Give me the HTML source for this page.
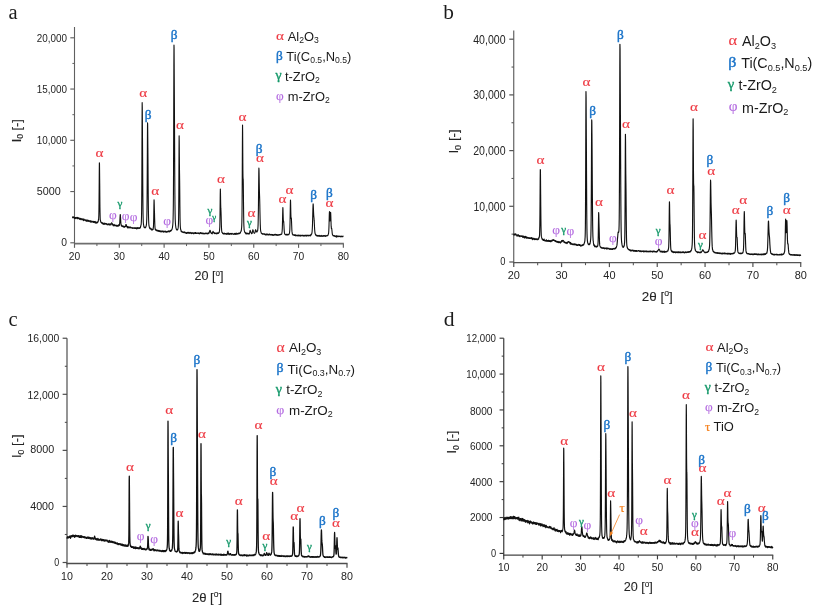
<!DOCTYPE html>
<html><head><meta charset="utf-8"><title>XRD</title>
<style>
html,body{margin:0;padding:0;background:#fff;}
svg{display:block;will-change:transform;font-family:"Liberation Sans",sans-serif;}
svg .gr{font-family:"Liberation Serif",serif;}
</style></head><body>
<svg width="820" height="608" viewBox="0 0 820 608">
<rect width="820" height="608" fill="#fff"/>
<path d="M74.50,27.00V244.50" fill="none" stroke="#606060" stroke-width="1.10"/>
<path d="M73.95,243.65H343.86" fill="none" stroke="#6e6e6e" stroke-width="1.70"/>
<path d="M70.30,242.80H74.50" stroke="#606060" stroke-width="1.15"/>
<text x="61.25" y="245.97" textLength="5.75" lengthAdjust="spacingAndGlyphs" font-size="10.80" fill="#242424">0</text>
<path d="M70.30,191.55H74.50" stroke="#606060" stroke-width="1.15"/>
<text x="36.75" y="195.42" textLength="24.00" lengthAdjust="spacingAndGlyphs" font-size="10.80" fill="#242424">5000</text>
<path d="M70.30,140.30H74.50" stroke="#606060" stroke-width="1.15"/>
<text x="36.75" y="144.35" textLength="30.25" lengthAdjust="spacingAndGlyphs" font-size="11.30" fill="#242424">10,000</text>
<path d="M70.30,89.05H74.50" stroke="#606060" stroke-width="1.15"/>
<text x="36.75" y="93.10" textLength="30.25" lengthAdjust="spacingAndGlyphs" font-size="11.30" fill="#242424">15,000</text>
<path d="M70.30,37.80H74.50" stroke="#606060" stroke-width="1.15"/>
<text x="36.75" y="41.85" textLength="30.25" lengthAdjust="spacingAndGlyphs" font-size="11.30" fill="#242424">20,000</text>
<path d="M72.40,217.18H74.50" stroke="#606060" stroke-width="1.00"/>
<path d="M72.40,165.93H74.50" stroke="#606060" stroke-width="1.00"/>
<path d="M72.40,114.68H74.50" stroke="#606060" stroke-width="1.00"/>
<path d="M72.40,63.43H74.50" stroke="#606060" stroke-width="1.00"/>
<path d="M74.50,243.65v4.20" stroke="#606060" stroke-width="1.15"/>
<text transform="translate(74.50,259.70) scale(0.95,1)" text-anchor="middle" font-size="10.80" fill="#242424">20</text>
<path d="M96.91,243.65v2.40" stroke="#606060" stroke-width="1.00"/>
<path d="M119.31,243.65v4.20" stroke="#606060" stroke-width="1.15"/>
<text transform="translate(119.31,259.70) scale(0.95,1)" text-anchor="middle" font-size="10.80" fill="#242424">30</text>
<path d="M141.72,243.65v2.40" stroke="#606060" stroke-width="1.00"/>
<path d="M164.12,243.65v4.20" stroke="#606060" stroke-width="1.15"/>
<text transform="translate(164.12,259.70) scale(0.95,1)" text-anchor="middle" font-size="10.80" fill="#242424">40</text>
<path d="M186.52,243.65v2.40" stroke="#606060" stroke-width="1.00"/>
<path d="M208.93,243.65v4.20" stroke="#606060" stroke-width="1.15"/>
<text transform="translate(208.93,259.70) scale(0.95,1)" text-anchor="middle" font-size="10.80" fill="#242424">50</text>
<path d="M231.34,243.65v2.40" stroke="#606060" stroke-width="1.00"/>
<path d="M253.74,243.65v4.20" stroke="#606060" stroke-width="1.15"/>
<text transform="translate(253.74,259.70) scale(0.95,1)" text-anchor="middle" font-size="10.80" fill="#242424">60</text>
<path d="M276.14,243.65v2.40" stroke="#606060" stroke-width="1.00"/>
<path d="M298.55,243.65v4.20" stroke="#606060" stroke-width="1.15"/>
<text transform="translate(298.55,259.70) scale(0.95,1)" text-anchor="middle" font-size="10.80" fill="#242424">70</text>
<path d="M320.95,243.65v2.40" stroke="#606060" stroke-width="1.00"/>
<path d="M343.36,243.65v4.20" stroke="#606060" stroke-width="1.15"/>
<text transform="translate(343.36,259.70) scale(0.95,1)" text-anchor="middle" font-size="10.80" fill="#242424">80</text>
<text x="208.93" y="280.00" text-anchor="middle" font-size="12.60" fill="#242424" stroke="#242424" stroke-width="0.08">20 [<tspan font-size="8.20" dy="-4.10">o</tspan><tspan dy="4.10">]</tspan></text>
<path d="M201.12,275.50h4.20" stroke="#9a9a9a" stroke-width="0.5" fill="none"/>
<text transform="translate(20.50,130.80) rotate(-90)" text-anchor="middle" font-size="12.60" fill="#242424" stroke="#242424" stroke-width="0.08">I<tspan font-size="8.50" dy="2.60">0</tspan><tspan dy="-2.60"> [-]</tspan></text>
<polyline points="72.26,217.27 72.37,217.17 72.48,217.42 72.60,217.71 72.71,217.54 72.82,217.72 72.93,217.27 73.04,216.74 73.16,217.47 73.27,217.53 73.38,217.10 73.49,217.17 73.60,217.27 73.72,217.71 73.83,217.39 73.94,217.11 74.05,218.01 74.16,217.69 74.28,218.38 74.39,218.11 74.50,218.38 74.61,217.67 74.72,218.09 74.84,217.42 74.95,217.56 75.06,217.71 75.17,218.72 75.28,217.91 75.40,217.77 75.51,217.67 75.62,218.39 75.73,217.99 75.84,218.19 75.96,218.12 76.07,217.35 76.18,218.10 76.29,217.79 76.40,217.47 76.52,218.08 76.63,217.90 76.74,217.90 76.85,217.92 76.96,218.44 77.08,217.97 77.19,217.45 77.30,218.64 77.41,217.69 77.52,218.01 77.64,218.29 77.75,217.28 77.86,217.83 77.97,218.64 78.08,218.20 78.20,218.03 78.31,218.34 78.42,218.00 78.53,218.31 78.64,218.05 78.76,217.78 78.87,218.69 78.98,218.38 79.09,218.75 79.21,218.54 79.32,219.12 79.43,218.86 79.54,218.71 79.65,218.29 79.77,218.23 79.88,219.25 79.99,219.14 80.10,218.63 80.21,219.70 80.33,219.05 80.44,218.93 80.55,218.36 80.66,218.62 80.77,219.07 80.89,219.11 81.00,219.13 81.11,218.43 81.22,219.24 81.33,219.21 81.45,219.02 81.56,219.26 81.67,219.32 81.78,219.74 81.89,219.29 82.01,219.47 82.12,218.81 82.23,219.03 82.34,219.33 82.45,219.09 82.57,219.54 82.68,218.99 82.79,219.50 82.90,219.27 83.01,220.13 83.13,219.55 83.24,220.42 83.35,220.58 83.46,219.92 83.57,220.08 83.69,219.65 83.80,218.85 83.91,220.08 84.02,220.01 84.13,219.78 84.25,219.67 84.36,219.93 84.47,219.96 84.58,219.67 84.69,219.76 84.81,220.40 84.92,220.10 85.03,220.09 85.14,220.54 85.25,220.02 85.37,220.48 85.48,219.75 85.59,220.11 85.70,220.16 85.81,220.53 85.93,220.41 86.04,221.17 86.15,220.89 86.26,220.30 86.37,221.31 86.49,220.11 86.60,221.19 86.71,220.15 86.82,220.82 86.93,220.20 87.05,220.47 87.16,221.09 87.27,220.04 87.38,220.00 87.49,220.59 87.61,220.75 87.72,220.74 87.83,221.10 87.94,220.30 88.06,220.99 88.17,220.81 88.28,221.19 88.39,221.10 88.50,221.39 88.62,220.37 88.73,220.93 88.84,220.51 88.95,220.94 89.06,221.26 89.18,221.16 89.29,221.29 89.40,221.08 89.51,221.28 89.62,221.29 89.74,221.69 89.85,221.50 89.96,220.59 90.07,221.47 90.18,221.58 90.30,221.15 90.41,220.75 90.52,221.87 90.63,221.47 90.74,221.67 90.86,222.10 90.97,221.15 91.08,221.47 91.19,221.40 91.30,221.78 91.42,221.34 91.53,221.78 91.64,221.66 91.75,222.03 91.86,222.10 91.98,221.13 92.09,221.83 92.20,221.53 92.31,221.73 92.42,221.88 92.54,221.94 92.65,221.53 92.76,221.90 92.87,221.82 92.98,221.78 93.10,221.35 93.21,221.57 93.32,221.74 93.43,222.13 93.54,222.46 93.66,221.60 93.77,221.59 93.88,221.98 93.99,221.75 94.10,221.68 94.22,221.69 94.33,221.65 94.44,222.24 94.55,221.51 94.66,222.59 94.78,221.78 94.89,221.92 95.00,221.73 95.11,221.42 95.22,221.64 95.34,222.64 95.45,222.93 95.56,222.04 95.67,222.69 95.78,222.32 95.90,222.09 96.01,223.00 96.12,223.18 96.23,222.32 96.34,222.36 96.46,222.43 96.57,222.37 96.68,222.71 96.79,222.96 96.90,222.48 97.02,222.73 97.13,222.92 97.24,222.07 97.35,222.24 97.47,221.99 97.58,222.48 97.69,222.30 97.80,222.33 97.91,222.15 98.03,221.56 98.14,221.68 98.25,220.90 98.36,220.58 98.47,219.40 98.59,219.90 98.70,217.73 98.81,215.61 98.92,210.56 99.03,202.24 99.15,188.62 99.26,172.83 99.37,162.87 99.48,163.74 99.59,172.30 99.71,183.25 99.82,195.73 99.93,206.41 100.04,212.66 100.15,217.23 100.27,219.93 100.38,220.21 100.49,220.29 100.60,221.22 100.71,222.01 100.83,222.24 100.94,221.71 101.05,222.23 101.16,222.40 101.27,222.57 101.39,222.64 101.50,222.45 101.61,222.65 101.72,222.84 101.83,223.40 101.95,222.88 102.06,223.41 102.17,222.79 102.28,223.71 102.39,223.35 102.51,223.33 102.62,223.78 102.73,222.71 102.84,222.82 102.95,223.52 103.07,223.20 103.18,223.40 103.29,224.51 103.40,223.51 103.51,223.69 103.63,223.60 103.74,224.06 103.85,223.76 103.96,223.74 104.07,223.24 104.19,223.53 104.30,223.69 104.41,223.19 104.52,224.02 104.63,223.94 104.75,224.49 104.86,223.25 104.97,223.46 105.08,223.46 105.19,223.60 105.31,223.85 105.42,223.86 105.53,224.06 105.64,224.03 105.75,223.94 105.87,223.43 105.98,223.80 106.09,224.06 106.20,224.26 106.32,224.30 106.43,223.51 106.54,223.92 106.65,224.11 106.76,224.31 106.88,224.60 106.99,224.25 107.10,223.93 107.21,224.38 107.32,224.33 107.44,224.40 107.55,224.30 107.66,224.94 107.77,224.44 107.88,224.70 108.00,224.04 108.11,224.61 108.22,224.13 108.33,223.85 108.44,224.50 108.56,224.63 108.67,224.42 108.78,224.49 108.89,224.79 109.00,224.30 109.12,223.77 109.23,224.59 109.34,224.59 109.45,224.98 109.56,224.53 109.68,225.06 109.79,225.02 109.90,224.16 110.01,224.88 110.12,224.15 110.24,224.02 110.35,224.41 110.46,224.33 110.57,223.88 110.68,224.66 110.80,224.78 110.91,224.99 111.02,224.36 111.13,223.69 111.24,223.62 111.36,223.99 111.47,223.64 111.58,223.22 111.69,222.72 111.80,222.87 111.92,222.88 112.03,223.14 112.14,223.68 112.25,223.93 112.36,224.14 112.48,224.43 112.59,224.39 112.70,224.04 112.81,224.62 112.92,224.88 113.04,225.63 113.15,224.99 113.26,225.82 113.37,225.61 113.48,224.85 113.60,224.92 113.71,225.22 113.82,225.82 113.93,225.38 114.04,225.45 114.16,224.96 114.27,224.43 114.38,225.17 114.49,225.55 114.60,225.76 114.72,225.42 114.83,225.46 114.94,225.81 115.05,225.36 115.17,225.79 115.28,224.97 115.39,225.01 115.50,224.98 115.61,225.57 115.73,225.28 115.84,225.55 115.95,225.67 116.06,225.71 116.17,226.04 116.29,226.10 116.40,225.32 116.51,225.63 116.62,225.50 116.73,225.28 116.85,226.23 116.96,225.91 117.07,225.62 117.18,225.49 117.29,225.75 117.41,225.30 117.52,225.62 117.63,226.09 117.74,226.01 117.85,225.47 117.97,225.53 118.08,226.31 118.19,225.18 118.30,225.45 118.41,225.15 118.53,225.79 118.64,225.69 118.75,225.98 118.86,224.65 118.97,225.53 119.09,224.83 119.20,225.59 119.31,225.15 119.42,225.52 119.53,224.62 119.65,223.31 119.76,222.72 119.87,220.07 119.98,218.01 120.09,216.12 120.21,214.49 120.32,214.50 120.43,215.47 120.54,217.33 120.65,219.41 120.77,221.18 120.88,223.01 120.99,224.23 121.10,224.65 121.21,224.83 121.33,225.97 121.44,225.69 121.55,226.05 121.66,226.25 121.77,225.68 121.89,226.21 122.00,225.56 122.11,226.40 122.22,226.06 122.33,226.32 122.45,226.52 122.56,226.10 122.67,226.37 122.78,226.15 122.89,226.41 123.01,226.78 123.12,226.46 123.23,226.45 123.34,226.14 123.45,226.82 123.57,226.54 123.68,227.16 123.79,226.40 123.90,227.00 124.02,227.19 124.13,226.67 124.24,226.29 124.35,227.15 124.46,227.04 124.58,226.94 124.69,227.05 124.80,226.53 124.91,226.88 125.02,226.81 125.14,226.31 125.25,226.67 125.36,226.15 125.47,226.48 125.58,226.26 125.70,226.20 125.81,224.65 125.92,225.10 126.03,224.71 126.14,224.84 126.26,224.84 126.37,225.12 126.48,224.82 126.59,226.11 126.70,226.60 126.82,226.69 126.93,226.96 127.04,226.42 127.15,226.53 127.26,227.19 127.38,227.39 127.49,227.18 127.60,226.61 127.71,228.03 127.82,226.92 127.94,227.53 128.05,226.81 128.16,227.57 128.27,227.33 128.38,227.74 128.50,227.55 128.61,226.79 128.72,226.98 128.83,227.42 128.94,227.63 129.06,228.00 129.17,227.52 129.28,227.40 129.39,227.42 129.50,227.43 129.62,227.78 129.73,227.43 129.84,227.39 129.95,226.95 130.06,226.79 130.18,227.46 130.29,227.72 130.40,227.57 130.51,227.76 130.62,227.82 130.74,227.60 130.85,227.92 130.96,227.38 131.07,227.63 131.18,227.52 131.30,227.71 131.41,227.90 131.52,228.01 131.63,227.78 131.74,227.88 131.86,227.65 131.97,227.74 132.08,228.21 132.19,227.78 132.30,228.25 132.42,228.05 132.53,227.95 132.64,228.51 132.75,227.82 132.87,227.81 132.98,227.89 133.09,228.01 133.20,228.02 133.31,228.23 133.43,228.01 133.54,228.13 133.65,227.91 133.76,228.33 133.87,227.87 133.99,227.92 134.10,227.99 134.21,228.14 134.32,227.82 134.43,228.54 134.55,227.85 134.66,227.94 134.77,227.92 134.88,227.91 134.99,228.24 135.11,228.13 135.22,227.86 135.33,227.95 135.44,228.01 135.55,228.56 135.67,227.91 135.78,227.71 135.89,227.77 136.00,228.02 136.11,228.63 136.23,227.92 136.34,228.27 136.45,229.03 136.56,228.16 136.67,228.77 136.79,228.63 136.90,228.44 137.01,227.81 137.12,228.27 137.23,228.02 137.35,227.59 137.46,227.63 137.57,228.20 137.68,228.30 137.79,228.64 137.91,228.45 138.02,228.08 138.13,228.04 138.24,228.13 138.35,227.85 138.47,228.38 138.58,228.14 138.69,227.87 138.80,227.88 138.91,227.71 139.03,227.90 139.14,228.12 139.25,227.93 139.36,228.31 139.47,228.46 139.59,227.71 139.70,227.86 139.81,227.64 139.92,228.20 140.03,227.70 140.15,227.70 140.26,227.61 140.37,227.84 140.48,227.02 140.59,226.37 140.71,226.17 140.82,226.06 140.93,225.46 141.04,224.60 141.15,224.83 141.27,222.85 141.38,220.90 141.49,217.84 141.60,211.88 141.71,201.14 141.83,182.22 141.94,154.00 142.05,121.99 142.16,102.65 142.28,107.02 142.39,123.72 142.50,140.17 142.61,158.03 142.72,177.02 142.84,193.98 142.95,206.11 143.06,214.61 143.17,218.86 143.28,222.27 143.40,223.56 143.51,224.58 143.62,225.01 143.73,225.48 143.84,226.67 143.96,226.85 144.07,226.79 144.18,227.25 144.29,227.65 144.40,227.00 144.52,227.27 144.63,227.29 144.74,227.67 144.85,227.23 144.96,227.66 145.08,227.26 145.19,227.86 145.30,227.80 145.41,227.42 145.52,227.57 145.64,227.03 145.75,226.99 145.86,227.13 145.97,226.57 146.08,226.38 146.20,225.57 146.31,225.48 146.42,224.67 146.53,223.18 146.64,221.43 146.76,219.15 146.87,215.67 146.98,208.57 147.09,196.59 147.20,179.95 147.32,158.44 147.43,136.21 147.54,122.73 147.65,124.09 147.76,134.78 147.88,147.97 147.99,161.85 148.10,177.81 148.21,192.01 148.32,203.47 148.44,211.67 148.55,217.56 148.66,220.86 148.77,223.50 148.88,224.69 149.00,225.84 149.11,225.87 149.22,226.74 149.33,227.36 149.44,227.60 149.56,227.88 149.67,227.85 149.78,228.74 149.89,228.70 150.00,228.65 150.12,227.89 150.23,228.44 150.34,228.81 150.45,228.71 150.56,228.42 150.68,229.15 150.79,229.26 150.90,228.87 151.01,229.14 151.13,229.09 151.24,229.47 151.35,228.79 151.46,228.88 151.57,229.27 151.69,229.28 151.80,230.14 151.91,229.36 152.02,229.61 152.13,229.39 152.25,229.35 152.36,229.61 152.47,230.00 152.58,229.36 152.69,229.62 152.81,229.38 152.92,229.37 153.03,229.08 153.14,229.38 153.25,227.91 153.37,227.44 153.48,225.76 153.59,222.88 153.70,218.74 153.81,212.35 153.93,204.33 154.04,199.73 154.15,200.93 154.26,205.10 154.37,209.62 154.49,212.46 154.60,217.20 154.71,220.86 154.82,224.33 154.93,226.65 155.05,227.97 155.16,228.91 155.27,229.38 155.38,229.95 155.49,229.63 155.61,229.21 155.72,229.26 155.83,229.57 155.94,229.84 156.05,230.36 156.17,229.84 156.28,230.35 156.39,230.39 156.50,230.54 156.61,230.47 156.73,230.68 156.84,230.62 156.95,230.89 157.06,230.71 157.17,229.99 157.29,230.66 157.40,230.71 157.51,230.58 157.62,230.55 157.73,231.08 157.85,230.84 157.96,230.56 158.07,230.71 158.18,230.78 158.29,230.41 158.41,231.08 158.52,230.86 158.63,231.11 158.74,230.56 158.85,231.57 158.97,231.20 159.08,231.19 159.19,230.80 159.30,230.85 159.41,230.62 159.53,231.50 159.64,230.88 159.75,231.21 159.86,231.31 159.98,231.04 160.09,231.47 160.20,231.83 160.31,231.38 160.42,231.69 160.54,231.42 160.65,231.11 160.76,231.12 160.87,230.79 160.98,231.33 161.10,231.74 161.21,231.59 161.32,231.63 161.43,231.71 161.54,231.28 161.66,231.57 161.77,231.93 161.88,231.20 161.99,231.42 162.10,231.25 162.22,231.35 162.33,231.19 162.44,231.36 162.55,231.03 162.66,231.27 162.78,231.32 162.89,231.35 163.00,231.89 163.11,231.55 163.22,231.61 163.34,231.44 163.45,231.88 163.56,231.07 163.67,231.54 163.78,231.89 163.90,232.07 164.01,231.70 164.12,231.63 164.23,231.79 164.34,231.55 164.46,231.78 164.57,231.44 164.68,231.78 164.79,231.54 164.90,231.29 165.02,230.85 165.13,231.86 165.24,231.72 165.35,231.89 165.46,231.44 165.58,231.97 165.69,231.79 165.80,231.70 165.91,231.95 166.02,231.98 166.14,231.87 166.25,232.31 166.36,232.11 166.47,231.82 166.58,231.66 166.70,231.73 166.81,232.15 166.92,231.78 167.03,231.43 167.14,231.47 167.26,231.62 167.37,231.87 167.48,231.48 167.59,231.82 167.70,231.93 167.82,231.83 167.93,231.18 168.04,231.49 168.15,231.19 168.26,231.67 168.38,231.28 168.49,231.67 168.60,231.51 168.71,230.80 168.83,231.24 168.94,231.57 169.05,231.46 169.16,231.35 169.27,231.11 169.39,231.56 169.50,231.88 169.61,231.47 169.72,231.33 169.83,231.23 169.95,230.85 170.06,231.10 170.17,230.91 170.28,231.37 170.39,230.78 170.51,230.40 170.62,230.67 170.73,230.73 170.84,230.73 170.95,230.22 171.07,230.86 171.18,230.52 171.29,230.28 171.40,230.04 171.51,230.21 171.63,229.84 171.74,229.81 171.85,229.48 171.96,229.28 172.07,229.21 172.19,228.55 172.30,227.86 172.41,227.78 172.52,226.95 172.63,225.90 172.75,225.36 172.86,223.68 172.97,222.21 173.08,218.95 173.19,214.41 173.31,207.12 173.42,194.97 173.53,173.87 173.64,143.50 173.75,105.07 173.87,66.51 173.98,45.12 174.09,48.29 174.20,68.34 174.31,89.42 174.43,109.45 174.54,130.92 174.65,153.88 174.76,175.19 174.87,192.56 174.99,204.89 175.10,213.41 175.21,219.00 175.32,221.38 175.43,223.45 175.55,224.93 175.66,226.00 175.77,226.55 175.88,227.59 175.99,228.14 176.11,228.46 176.22,228.40 176.33,229.38 176.44,228.93 176.55,229.61 176.67,229.86 176.78,229.38 176.89,229.83 177.00,230.17 177.11,229.94 177.23,229.60 177.34,229.46 177.45,229.80 177.56,229.48 177.68,229.24 177.79,229.36 177.90,228.79 178.01,228.48 178.12,228.00 178.24,227.16 178.35,225.73 178.46,223.49 178.57,219.26 178.68,210.73 178.80,195.40 178.91,173.81 179.02,149.54 179.13,135.78 179.24,142.04 179.36,156.77 179.47,169.46 179.58,176.08 179.69,184.49 179.80,195.39 179.92,206.89 180.03,216.69 180.14,222.25 180.25,225.22 180.36,227.05 180.48,228.16 180.59,229.11 180.70,229.52 180.81,229.87 180.92,230.43 181.04,230.40 181.15,231.52 181.26,230.92 181.37,231.54 181.48,231.12 181.60,231.56 181.71,231.83 181.82,231.62 181.93,232.06 182.04,232.12 182.16,232.35 182.27,231.97 182.38,231.87 182.49,231.73 182.60,232.08 182.72,231.82 182.83,232.14 182.94,232.18 183.05,232.06 183.16,231.97 183.28,232.37 183.39,232.38 183.50,232.42 183.61,232.35 183.72,232.64 183.84,232.14 183.95,232.55 184.06,232.32 184.17,232.69 184.28,232.40 184.40,232.38 184.51,232.59 184.62,231.93 184.73,232.37 184.84,232.02 184.96,232.29 185.07,232.73 185.18,232.70 185.29,232.51 185.40,232.62 185.52,232.66 185.63,232.77 185.74,233.22 185.85,232.81 185.96,233.35 186.08,232.66 186.19,232.96 186.30,232.92 186.41,232.83 186.52,232.73 186.64,233.19 186.75,233.32 186.86,233.17 186.97,233.38 187.09,233.09 187.20,232.40 187.31,233.09 187.42,232.63 187.53,233.20 187.65,232.75 187.76,232.92 187.87,232.81 187.98,232.65 188.09,232.34 188.21,232.77 188.32,232.79 188.43,233.12 188.54,232.71 188.65,232.94 188.77,232.61 188.88,232.89 188.99,232.43 189.10,233.41 189.21,232.98 189.33,232.72 189.44,233.02 189.55,233.16 189.66,233.04 189.77,233.29 189.89,232.87 190.00,232.28 190.11,232.61 190.22,233.21 190.33,233.18 190.45,233.10 190.56,232.73 190.67,233.18 190.78,233.13 190.89,232.75 191.01,232.76 191.12,233.10 191.23,233.33 191.34,233.50 191.45,233.26 191.57,233.66 191.68,232.85 191.79,233.17 191.90,232.82 192.01,232.50 192.13,232.66 192.24,233.26 192.35,232.78 192.46,232.75 192.57,233.23 192.69,233.33 192.80,233.11 192.91,233.53 193.02,232.74 193.13,233.75 193.25,233.39 193.36,233.20 193.47,233.15 193.58,233.03 193.69,232.99 193.81,233.15 193.92,232.80 194.03,233.67 194.14,233.12 194.25,233.32 194.37,233.09 194.48,233.08 194.59,233.35 194.70,233.28 194.81,232.93 194.93,232.99 195.04,233.21 195.15,232.55 195.26,232.49 195.37,233.41 195.49,232.98 195.60,232.45 195.71,232.88 195.82,233.04 195.94,233.20 196.05,233.31 196.16,233.22 196.27,233.32 196.38,232.98 196.50,233.30 196.61,233.31 196.72,233.53 196.83,233.24 196.94,233.43 197.06,233.23 197.17,232.90 197.28,233.06 197.39,233.02 197.50,233.09 197.62,233.18 197.73,233.22 197.84,233.30 197.95,233.00 198.06,233.48 198.18,232.87 198.29,233.23 198.40,233.43 198.51,233.38 198.62,233.45 198.74,233.20 198.85,233.44 198.96,232.99 199.07,233.50 199.18,233.91 199.30,233.54 199.41,233.84 199.52,233.28 199.63,233.02 199.74,233.10 199.86,233.59 199.97,233.45 200.08,232.82 200.19,233.15 200.30,233.18 200.42,232.92 200.53,232.57 200.64,232.86 200.75,233.17 200.86,233.17 200.98,233.15 201.09,233.47 201.20,233.61 201.31,233.34 201.42,233.59 201.54,233.30 201.65,233.28 201.76,232.69 201.87,233.52 201.98,233.33 202.10,233.36 202.21,233.21 202.32,233.06 202.43,233.49 202.54,233.60 202.66,233.82 202.77,233.63 202.88,233.26 202.99,233.37 203.10,233.63 203.22,233.47 203.33,233.38 203.44,233.24 203.55,233.55 203.66,233.49 203.78,233.87 203.89,233.73 204.00,233.03 204.11,233.97 204.22,233.48 204.34,233.39 204.45,233.50 204.56,233.61 204.67,233.43 204.79,233.44 204.90,233.45 205.01,233.93 205.12,233.50 205.23,233.67 205.35,233.55 205.46,233.34 205.57,233.23 205.68,233.14 205.79,233.48 205.91,233.11 206.02,233.04 206.13,233.05 206.24,233.00 206.35,233.40 206.47,233.45 206.58,233.22 206.69,233.78 206.80,233.38 206.91,233.61 207.03,233.56 207.14,233.92 207.25,233.67 207.36,233.43 207.47,233.16 207.59,233.12 207.70,233.40 207.81,233.43 207.92,233.61 208.03,233.27 208.15,233.39 208.26,233.15 208.37,232.87 208.48,233.31 208.59,233.68 208.71,233.52 208.82,233.57 208.93,233.36 209.04,232.57 209.15,232.58 209.27,232.68 209.38,231.78 209.49,231.21 209.60,231.15 209.71,230.86 209.83,230.56 209.94,230.35 210.05,230.37 210.16,230.43 210.27,230.67 210.39,230.95 210.50,231.25 210.61,231.76 210.72,232.63 210.83,232.57 210.95,232.67 211.06,233.00 211.17,232.82 211.28,233.22 211.39,233.41 211.51,232.87 211.62,233.07 211.73,233.17 211.84,233.01 211.95,233.01 212.07,233.17 212.18,233.84 212.29,233.32 212.40,233.10 212.51,232.95 212.63,232.36 212.74,231.81 212.85,231.91 212.96,231.93 213.07,231.19 213.19,231.94 213.30,232.29 213.41,232.13 213.52,232.22 213.64,232.67 213.75,232.50 213.86,233.01 213.97,233.25 214.08,233.13 214.20,233.07 214.31,233.48 214.42,233.25 214.53,233.41 214.64,232.67 214.76,233.58 214.87,233.06 214.98,233.47 215.09,233.47 215.20,233.26 215.32,233.21 215.43,233.13 215.54,233.39 215.65,233.63 215.76,233.63 215.88,233.34 215.99,233.31 216.10,233.07 216.21,233.30 216.32,233.14 216.44,233.07 216.55,233.43 216.66,233.88 216.77,233.79 216.88,233.86 217.00,233.05 217.11,233.62 217.22,233.03 217.33,233.18 217.44,232.87 217.56,233.05 217.67,233.32 217.78,233.34 217.89,233.26 218.00,233.20 218.12,233.31 218.23,233.17 218.34,232.70 218.45,233.47 218.56,232.90 218.68,233.11 218.79,232.70 218.90,232.39 219.01,232.46 219.12,232.02 219.24,232.37 219.35,231.32 219.46,231.25 219.57,230.15 219.68,228.87 219.80,226.91 219.91,221.76 220.02,214.11 220.13,203.88 220.24,194.19 220.36,188.97 220.47,192.28 220.58,198.71 220.69,204.76 220.80,208.41 220.92,209.82 221.03,212.31 221.14,215.77 221.25,220.05 221.36,224.63 221.48,227.52 221.59,229.64 221.70,231.19 221.81,231.30 221.92,232.37 222.04,232.37 222.15,232.48 222.26,232.47 222.37,232.73 222.49,232.87 222.60,233.27 222.71,233.50 222.82,233.25 222.93,233.51 223.05,233.70 223.16,233.76 223.27,233.62 223.38,234.00 223.49,233.88 223.61,233.96 223.72,233.47 223.83,233.43 223.94,233.04 224.05,233.92 224.17,233.74 224.28,233.40 224.39,233.64 224.50,233.68 224.61,233.22 224.73,233.76 224.84,233.96 224.95,234.03 225.06,233.65 225.17,233.66 225.29,234.06 225.40,233.96 225.51,233.61 225.62,233.57 225.73,233.86 225.85,233.59 225.96,233.62 226.07,234.19 226.18,233.85 226.29,233.72 226.41,233.95 226.52,234.33 226.63,233.85 226.74,233.62 226.85,233.34 226.97,234.30 227.08,233.10 227.19,234.04 227.30,233.48 227.41,233.45 227.53,233.52 227.64,233.74 227.75,234.10 227.86,233.71 227.97,234.01 228.09,234.43 228.20,233.08 228.31,233.61 228.42,233.27 228.53,233.98 228.65,233.37 228.76,233.38 228.87,233.39 228.98,233.81 229.09,234.17 229.21,233.97 229.32,234.48 229.43,234.35 229.54,233.91 229.65,234.14 229.77,233.88 229.88,233.85 229.99,233.33 230.10,233.46 230.21,233.81 230.33,233.54 230.44,234.04 230.55,233.95 230.66,233.67 230.77,234.21 230.89,233.97 231.00,234.21 231.11,233.85 231.22,233.47 231.33,234.05 231.45,233.83 231.56,234.16 231.67,234.18 231.78,234.17 231.90,233.48 232.01,233.25 232.12,233.68 232.23,234.01 232.34,233.69 232.46,233.95 232.57,233.65 232.68,233.78 232.79,233.78 232.90,233.72 233.02,234.05 233.13,234.02 233.24,234.38 233.35,234.05 233.46,234.30 233.58,233.96 233.69,234.14 233.80,233.88 233.91,233.80 234.02,234.27 234.14,234.10 234.25,234.11 234.36,233.66 234.47,233.41 234.58,233.58 234.70,233.91 234.81,233.46 234.92,234.22 235.03,233.52 235.14,234.03 235.26,234.50 235.37,233.19 235.48,233.44 235.59,234.04 235.70,233.79 235.82,233.93 235.93,233.84 236.04,234.22 236.15,234.01 236.26,233.71 236.38,233.73 236.49,233.44 236.60,233.73 236.71,233.16 236.82,233.96 236.94,233.74 237.05,234.28 237.16,234.12 237.27,233.47 237.38,233.99 237.50,233.61 237.61,233.77 237.72,234.00 237.83,233.83 237.94,233.84 238.06,233.80 238.17,233.48 238.28,233.49 238.39,233.77 238.50,233.84 238.62,233.52 238.73,233.54 238.84,233.20 238.95,232.78 239.06,233.20 239.18,233.41 239.29,233.47 239.40,233.63 239.51,233.60 239.62,233.58 239.74,233.35 239.85,233.28 239.96,232.91 240.07,233.12 240.18,232.95 240.30,233.10 240.41,232.24 240.52,232.36 240.63,231.84 240.75,231.92 240.86,231.51 240.97,231.65 241.08,231.11 241.19,230.21 241.31,230.62 241.42,229.37 241.53,228.39 241.64,227.40 241.75,225.36 241.87,221.75 241.98,215.76 242.09,203.97 242.20,186.10 242.31,161.81 242.43,137.32 242.54,124.93 242.65,133.13 242.76,152.21 242.87,169.40 242.99,177.10 243.10,178.84 243.21,179.37 243.32,185.27 243.43,195.67 243.55,206.61 243.66,215.62 243.77,222.32 243.88,225.60 243.99,227.28 244.11,229.77 244.22,229.92 244.33,230.70 244.44,231.27 244.55,231.27 244.67,232.19 244.78,232.10 244.89,232.00 245.00,232.57 245.11,232.78 245.23,232.77 245.34,233.03 245.45,232.60 245.56,233.32 245.67,232.93 245.79,233.56 245.90,233.15 246.01,233.42 246.12,234.08 246.23,233.49 246.35,233.77 246.46,233.62 246.57,233.17 246.68,233.82 246.79,233.82 246.91,233.21 247.02,233.54 247.13,233.20 247.24,233.54 247.35,233.84 247.47,233.66 247.58,233.35 247.69,233.42 247.80,233.66 247.91,233.69 248.03,233.72 248.14,233.84 248.25,233.22 248.36,233.71 248.47,233.98 248.59,233.83 248.70,233.51 248.81,233.51 248.92,233.68 249.03,233.82 249.15,233.63 249.26,233.97 249.37,233.75 249.48,233.02 249.60,233.01 249.71,232.37 249.82,231.70 249.93,231.28 250.04,230.99 250.16,230.25 250.27,230.67 250.38,231.18 250.49,231.26 250.60,231.61 250.72,232.11 250.83,232.08 250.94,232.33 251.05,233.00 251.16,232.80 251.28,233.08 251.39,233.27 251.50,233.71 251.61,233.46 251.72,233.42 251.84,233.33 251.95,233.59 252.06,232.99 252.17,233.19 252.28,232.56 252.40,231.67 252.51,231.50 252.62,230.76 252.73,229.79 252.84,229.83 252.96,229.86 253.07,230.13 253.18,230.35 253.29,231.53 253.40,231.45 253.52,231.73 253.63,231.97 253.74,232.19 253.85,232.51 253.96,232.51 254.08,233.04 254.19,232.98 254.30,233.03 254.41,233.34 254.52,233.12 254.64,232.70 254.75,232.89 254.86,232.92 254.97,232.46 255.08,232.19 255.20,231.31 255.31,230.53 255.42,230.36 255.53,229.93 255.64,229.65 255.76,230.35 255.87,230.53 255.98,231.13 256.09,231.21 256.20,231.26 256.32,230.74 256.43,231.56 256.54,231.80 256.65,232.02 256.76,232.04 256.88,231.86 256.99,231.95 257.10,231.38 257.21,231.67 257.32,231.13 257.44,231.16 257.55,230.68 257.66,230.66 257.77,229.58 257.88,228.47 258.00,226.70 258.11,224.35 258.22,219.29 258.33,213.26 258.45,204.67 258.56,194.07 258.67,182.68 258.78,172.70 258.89,168.10 259.01,169.48 259.12,175.20 259.23,182.32 259.34,188.36 259.45,192.55 259.57,195.76 259.68,199.18 259.79,203.64 259.90,209.69 260.01,214.49 260.13,219.40 260.24,223.51 260.35,226.11 260.46,228.70 260.57,230.14 260.69,230.99 260.80,231.40 260.91,231.82 261.02,232.23 261.13,232.35 261.25,233.13 261.36,232.69 261.47,233.33 261.58,233.27 261.69,233.37 261.81,233.65 261.92,233.79 262.03,233.77 262.14,233.58 262.25,233.50 262.37,233.56 262.48,234.01 262.59,234.01 262.70,234.13 262.81,233.81 262.93,234.44 263.04,233.69 263.15,234.13 263.26,234.19 263.37,233.96 263.49,233.80 263.60,233.97 263.71,233.81 263.82,234.05 263.93,233.82 264.05,233.83 264.16,234.17 264.27,233.84 264.38,234.19 264.49,234.23 264.61,234.50 264.72,234.39 264.83,234.14 264.94,234.63 265.05,234.17 265.17,234.30 265.28,234.31 265.39,234.91 265.50,234.44 265.61,234.27 265.73,234.62 265.84,234.42 265.95,235.04 266.06,234.29 266.17,234.65 266.29,234.25 266.40,234.92 266.51,234.30 266.62,234.56 266.73,234.30 266.85,234.69 266.96,234.64 267.07,233.99 267.18,234.72 267.30,234.70 267.41,234.62 267.52,234.77 267.63,234.25 267.74,234.15 267.86,234.70 267.97,234.95 268.08,234.28 268.19,234.27 268.30,234.34 268.42,234.28 268.53,234.81 268.64,234.69 268.75,234.98 268.86,234.99 268.98,234.39 269.09,234.77 269.20,234.06 269.31,234.59 269.42,234.73 269.54,234.42 269.65,234.21 269.76,234.51 269.87,234.91 269.98,234.57 270.10,234.36 270.21,234.77 270.32,234.85 270.43,234.47 270.54,234.68 270.66,234.98 270.77,234.82 270.88,234.92 270.99,234.64 271.10,234.67 271.22,234.44 271.33,234.55 271.44,235.08 271.55,234.63 271.66,234.51 271.78,234.61 271.89,234.50 272.00,234.87 272.11,235.00 272.22,234.61 272.34,235.06 272.45,235.32 272.56,234.59 272.67,235.01 272.78,234.90 272.90,235.20 273.01,235.18 273.12,235.13 273.23,234.96 273.34,234.76 273.46,235.40 273.57,234.69 273.68,235.15 273.79,235.09 273.90,234.72 274.02,234.85 274.13,235.20 274.24,234.41 274.35,235.05 274.46,234.74 274.58,234.79 274.69,234.49 274.80,234.94 274.91,234.59 275.02,235.03 275.14,234.60 275.25,235.03 275.36,234.92 275.47,234.41 275.58,234.74 275.70,234.78 275.81,234.32 275.92,234.76 276.03,235.06 276.14,234.71 276.26,235.15 276.37,234.61 276.48,234.61 276.59,235.01 276.71,235.04 276.82,234.89 276.93,234.91 277.04,235.16 277.15,234.81 277.27,235.43 277.38,235.04 277.49,235.04 277.60,235.00 277.71,234.85 277.83,235.20 277.94,234.78 278.05,234.99 278.16,235.09 278.27,235.26 278.39,235.23 278.50,234.86 278.61,235.12 278.72,234.85 278.83,234.59 278.95,234.59 279.06,234.48 279.17,234.90 279.28,235.09 279.39,234.60 279.51,234.75 279.62,234.52 279.73,234.77 279.84,234.47 279.95,234.55 280.07,234.56 280.18,234.60 280.29,234.61 280.40,234.62 280.51,234.61 280.63,234.38 280.74,234.69 280.85,234.12 280.96,234.51 281.07,234.19 281.19,234.36 281.30,234.31 281.41,233.70 281.52,234.12 281.63,234.17 281.75,233.81 281.86,233.39 281.97,232.29 282.08,231.94 282.19,230.38 282.31,228.60 282.42,224.85 282.53,220.17 282.64,214.48 282.75,210.15 282.87,207.58 282.98,209.18 283.09,213.39 283.20,217.26 283.31,220.16 283.43,221.90 283.54,221.38 283.65,221.39 283.76,222.41 283.87,224.54 283.99,226.27 284.10,228.78 284.21,230.41 284.32,231.64 284.43,232.97 284.55,233.24 284.66,233.86 284.77,234.04 284.88,234.20 284.99,234.30 285.11,234.14 285.22,234.45 285.33,234.58 285.44,234.69 285.56,234.61 285.67,234.93 285.78,234.88 285.89,234.81 286.00,234.94 286.12,234.82 286.23,234.93 286.34,234.33 286.45,234.50 286.56,234.66 286.68,234.81 286.79,234.32 286.90,234.76 287.01,234.84 287.12,234.76 287.24,234.76 287.35,234.47 287.46,234.81 287.57,234.30 287.68,235.01 287.80,234.60 287.91,235.00 288.02,234.32 288.13,234.77 288.24,234.64 288.36,234.41 288.47,234.28 288.58,234.77 288.69,234.53 288.80,234.70 288.92,234.22 289.03,234.14 289.14,234.01 289.25,233.88 289.36,233.51 289.48,233.15 289.59,232.24 289.70,230.96 289.81,229.95 289.92,226.62 290.04,222.28 290.15,216.02 290.26,209.33 290.37,202.78 290.48,200.04 290.60,201.67 290.71,207.01 290.82,212.49 290.93,216.26 291.04,218.16 291.16,218.57 291.27,217.74 291.38,218.41 291.49,220.61 291.60,223.38 291.72,226.35 291.83,229.36 291.94,231.15 292.05,231.91 292.16,232.75 292.28,233.75 292.39,234.22 292.50,234.37 292.61,234.50 292.72,234.89 292.84,234.64 292.95,235.01 293.06,235.06 293.17,234.65 293.28,235.04 293.40,234.92 293.51,234.83 293.62,234.82 293.73,235.12 293.84,235.05 293.96,235.28 294.07,234.74 294.18,235.01 294.29,235.40 294.41,235.19 294.52,235.04 294.63,235.07 294.74,234.79 294.85,234.92 294.97,235.39 295.08,235.32 295.19,235.62 295.30,235.24 295.41,235.27 295.53,234.72 295.64,235.33 295.75,235.83 295.86,235.58 295.97,235.43 296.09,235.72 296.20,235.62 296.31,235.52 296.42,235.37 296.53,235.46 296.65,235.63 296.76,235.28 296.87,235.60 296.98,235.59 297.09,235.80 297.21,235.69 297.32,235.36 297.43,235.85 297.54,235.50 297.65,235.33 297.77,235.58 297.88,235.42 297.99,235.73 298.10,235.18 298.21,235.26 298.33,235.46 298.44,235.91 298.55,235.75 298.66,235.30 298.77,235.09 298.89,235.41 299.00,235.22 299.11,235.66 299.22,235.57 299.33,235.57 299.45,235.46 299.56,235.87 299.67,235.34 299.78,235.29 299.89,235.81 300.01,235.89 300.12,235.57 300.23,235.76 300.34,236.13 300.45,235.43 300.57,235.54 300.68,235.65 300.79,235.10 300.90,235.54 301.01,235.75 301.13,235.60 301.24,235.86 301.35,235.80 301.46,235.55 301.57,235.72 301.69,235.68 301.80,235.20 301.91,235.37 302.02,235.37 302.13,235.44 302.25,235.46 302.36,235.23 302.47,235.58 302.58,235.18 302.69,235.85 302.81,235.70 302.92,235.97 303.03,235.71 303.14,235.53 303.26,235.30 303.37,235.77 303.48,235.64 303.59,235.76 303.70,235.84 303.82,235.97 303.93,235.68 304.04,236.07 304.15,235.66 304.26,235.69 304.38,235.84 304.49,235.89 304.60,236.00 304.71,235.24 304.82,235.93 304.94,235.28 305.05,235.53 305.16,235.71 305.27,235.89 305.38,235.42 305.50,235.27 305.61,235.83 305.72,235.70 305.83,235.40 305.94,235.55 306.06,235.17 306.17,235.77 306.28,235.50 306.39,235.93 306.50,235.22 306.62,235.85 306.73,236.16 306.84,235.70 306.95,235.70 307.06,235.21 307.18,235.69 307.29,235.59 307.40,235.48 307.51,235.24 307.62,235.59 307.74,235.36 307.85,235.49 307.96,235.67 308.07,235.61 308.18,235.60 308.30,235.82 308.41,235.33 308.52,235.88 308.63,235.30 308.74,235.36 308.86,235.57 308.97,235.71 309.08,235.59 309.19,235.41 309.30,235.31 309.42,235.40 309.53,235.23 309.64,235.59 309.75,235.39 309.86,235.77 309.98,235.23 310.09,235.32 310.20,235.38 310.31,235.04 310.42,235.11 310.54,235.84 310.65,235.16 310.76,235.40 310.87,234.75 310.98,234.35 311.10,234.90 311.21,234.67 311.32,234.64 311.43,234.32 311.54,234.08 311.66,233.67 311.77,233.87 311.88,232.87 311.99,232.78 312.11,231.55 312.22,230.04 312.33,228.21 312.44,225.96 312.55,222.55 312.67,218.43 312.78,213.82 312.89,209.09 313.00,206.05 313.11,203.92 313.23,204.39 313.34,206.58 313.45,209.54 313.56,212.13 313.67,214.59 313.79,216.04 313.90,217.23 314.01,217.97 314.12,220.16 314.23,221.30 314.35,223.80 314.46,225.97 314.57,228.14 314.68,230.07 314.79,231.15 314.91,232.32 315.02,232.84 315.13,233.86 315.24,233.66 315.35,234.24 315.47,234.58 315.58,234.89 315.69,235.07 315.80,235.25 315.91,235.22 316.03,235.19 316.14,235.29 316.25,235.63 316.36,235.44 316.47,235.59 316.59,235.38 316.70,235.05 316.81,235.37 316.92,235.63 317.03,236.00 317.15,235.98 317.26,236.07 317.37,235.54 317.48,235.88 317.59,235.69 317.71,235.85 317.82,235.71 317.93,235.45 318.04,235.92 318.15,235.85 318.27,236.00 318.38,235.65 318.49,236.09 318.60,236.13 318.71,236.21 318.83,236.17 318.94,235.77 319.05,235.29 319.16,236.05 319.27,235.66 319.39,235.86 319.50,236.15 319.61,236.00 319.72,235.97 319.83,236.09 319.95,235.52 320.06,236.34 320.17,235.85 320.28,235.90 320.39,236.06 320.51,235.91 320.62,235.75 320.73,235.90 320.84,235.87 320.95,235.81 321.07,236.37 321.18,235.61 321.29,235.44 321.40,235.71 321.52,235.73 321.63,236.30 321.74,236.05 321.85,236.20 321.96,236.14 322.08,235.81 322.19,236.21 322.30,236.06 322.41,236.46 322.52,236.08 322.64,236.04 322.75,236.16 322.86,236.18 322.97,235.63 323.08,236.30 323.20,236.24 323.31,236.18 323.42,235.73 323.53,235.53 323.64,235.91 323.76,236.13 323.87,236.11 323.98,235.77 324.09,236.17 324.20,235.65 324.32,235.66 324.43,235.92 324.54,235.80 324.65,235.81 324.76,235.61 324.88,236.18 324.99,235.72 325.10,236.07 325.21,236.14 325.32,235.97 325.44,236.05 325.55,236.21 325.66,236.31 325.77,236.13 325.88,235.59 326.00,235.42 326.11,235.68 326.22,235.58 326.33,235.95 326.44,235.86 326.56,235.79 326.67,236.05 326.78,236.01 326.89,235.76 327.00,235.80 327.12,235.91 327.23,235.54 327.34,235.62 327.45,235.28 327.56,235.43 327.68,235.41 327.79,235.25 327.90,235.20 328.01,235.15 328.12,234.92 328.24,234.43 328.35,234.16 328.46,233.57 328.57,233.54 328.68,232.20 328.80,230.58 328.91,228.05 329.02,224.95 329.13,221.01 329.24,216.53 329.36,213.07 329.47,211.67 329.58,212.02 329.69,214.68 329.80,217.92 329.92,219.77 330.03,220.90 330.14,219.77 330.25,218.06 330.37,215.53 330.48,213.13 330.59,212.21 330.70,212.95 330.81,215.65 330.93,219.25 331.04,222.78 331.15,226.15 331.26,227.10 331.37,228.38 331.49,228.15 331.60,228.04 331.71,228.49 331.82,229.36 331.93,230.40 332.05,231.55 332.16,232.71 332.27,233.57 332.38,234.32 332.49,234.34 332.61,234.93 332.72,234.95 332.83,235.39 332.94,235.44 333.05,235.59 333.17,235.53 333.28,235.53 333.39,235.72 333.50,235.94 333.61,236.03 333.73,235.56 333.84,235.97 333.95,235.98 334.06,235.65 334.17,235.76 334.29,235.86 334.40,236.09 334.51,235.54 334.62,235.98 334.73,235.98 334.85,236.20 334.96,236.47 335.07,236.47 335.18,236.12 335.29,236.13 335.41,236.28 335.52,236.49 335.63,236.59 335.74,236.35 335.85,236.56 335.97,236.01 336.08,235.95 336.19,235.59 336.30,236.03 336.41,236.42 336.53,236.53 336.64,237.10 336.75,236.48 336.86,236.38 336.97,236.08 337.09,236.15 337.20,236.15 337.31,236.23 337.42,236.16 337.53,236.02 337.65,236.57 337.76,236.44 337.87,236.64 337.98,235.99 338.09,236.07 338.21,236.17 338.32,236.61 338.43,236.34 338.54,236.44 338.65,236.36 338.77,236.43 338.88,236.26 338.99,236.46 339.10,236.20 339.22,236.34 339.33,236.46 339.44,236.43 339.55,236.51 339.66,236.24 339.78,236.47 339.89,236.37 340.00,236.52 340.11,236.76 340.22,236.26 340.34,236.66 340.45,236.30 340.56,236.39 340.67,236.82 340.78,236.69 340.90,236.63 341.01,236.66 341.12,236.73 341.23,236.31 341.34,236.52 341.46,236.37 341.57,236.56 341.68,236.41 341.79,236.63 341.90,236.47 342.02,236.36 342.13,236.48 342.24,236.58 342.35,236.72 342.46,236.46 342.58,236.43 342.69,236.54 342.80,236.61 342.91,236.35 343.02,235.94 343.14,236.51 343.25,236.38 343.36,236.41" fill="none" stroke="#111" stroke-width="1.10" stroke-linejoin="round"/>
<text class="gr" transform="translate(174.25,38.67) scale(1.1,1)" text-anchor="middle" font-size="12.10" fill="#1b74c9" stroke="#1b74c9" stroke-width="0.4">β</text>
<text class="gr" transform="translate(143.25,96.80) scale(1.15,1)" text-anchor="middle" font-size="13.20" fill="#ee3a43" stroke="#ee3a43" stroke-width="0.12">α</text>
<text class="gr" transform="translate(148.25,118.67) scale(1.1,1)" text-anchor="middle" font-size="12.10" fill="#1b74c9" stroke="#1b74c9" stroke-width="0.4">β</text>
<text class="gr" transform="translate(180.00,129.30) scale(1.15,1)" text-anchor="middle" font-size="13.20" fill="#ee3a43" stroke="#ee3a43" stroke-width="0.12">α</text>
<text class="gr" transform="translate(99.50,157.05) scale(1.15,1)" text-anchor="middle" font-size="13.20" fill="#ee3a43" stroke="#ee3a43" stroke-width="0.12">α</text>
<text class="gr" transform="translate(113.00,219.08) scale(1.1,1)" text-anchor="middle" font-size="12.20" fill="#b36ae0" stroke="#b36ae0" stroke-width="0.1">φ</text>
<text class="gr" transform="translate(120.00,206.85) scale(1.0,1)" text-anchor="middle" font-size="11.00" fill="#16996b" stroke="#16996b" stroke-width="0.35">γ</text>
<text class="gr" transform="translate(125.75,220.08) scale(1.1,1)" text-anchor="middle" font-size="12.20" fill="#b36ae0" stroke="#b36ae0" stroke-width="0.1">φ</text>
<text class="gr" transform="translate(133.75,220.83) scale(1.1,1)" text-anchor="middle" font-size="12.20" fill="#b36ae0" stroke="#b36ae0" stroke-width="0.1">φ</text>
<text class="gr" transform="translate(155.25,194.55) scale(1.15,1)" text-anchor="middle" font-size="13.20" fill="#ee3a43" stroke="#ee3a43" stroke-width="0.12">α</text>
<text class="gr" transform="translate(167.25,224.58) scale(1.1,1)" text-anchor="middle" font-size="12.20" fill="#b36ae0" stroke="#b36ae0" stroke-width="0.1">φ</text>
<text class="gr" transform="translate(210.00,213.85) scale(1.0,1)" text-anchor="middle" font-size="11.00" fill="#16996b" stroke="#16996b" stroke-width="0.35">γ</text>
<text class="gr" transform="translate(214.25,219.58) scale(1.0,1)" text-anchor="middle" font-size="8.80" fill="#16996b" stroke="#16996b" stroke-width="0.35">γ</text>
<text class="gr" transform="translate(209.50,223.83) scale(1.1,1)" text-anchor="middle" font-size="12.20" fill="#b36ae0" stroke="#b36ae0" stroke-width="0.1">φ</text>
<text class="gr" transform="translate(221.00,182.55) scale(1.15,1)" text-anchor="middle" font-size="13.20" fill="#ee3a43" stroke="#ee3a43" stroke-width="0.12">α</text>
<text class="gr" transform="translate(242.50,120.55) scale(1.15,1)" text-anchor="middle" font-size="13.20" fill="#ee3a43" stroke="#ee3a43" stroke-width="0.12">α</text>
<text class="gr" transform="translate(259.20,152.67) scale(1.1,1)" text-anchor="middle" font-size="12.10" fill="#1b74c9" stroke="#1b74c9" stroke-width="0.4">β</text>
<text class="gr" transform="translate(260.00,162.05) scale(1.15,1)" text-anchor="middle" font-size="13.20" fill="#ee3a43" stroke="#ee3a43" stroke-width="0.12">α</text>
<text class="gr" transform="translate(251.50,216.80) scale(1.15,1)" text-anchor="middle" font-size="13.20" fill="#ee3a43" stroke="#ee3a43" stroke-width="0.12">α</text>
<text class="gr" transform="translate(249.50,225.60) scale(1.0,1)" text-anchor="middle" font-size="11.00" fill="#16996b" stroke="#16996b" stroke-width="0.35">γ</text>
<text class="gr" transform="translate(282.50,202.55) scale(1.15,1)" text-anchor="middle" font-size="13.20" fill="#ee3a43" stroke="#ee3a43" stroke-width="0.12">α</text>
<text class="gr" transform="translate(289.50,193.80) scale(1.15,1)" text-anchor="middle" font-size="13.20" fill="#ee3a43" stroke="#ee3a43" stroke-width="0.12">α</text>
<text class="gr" transform="translate(313.75,199.17) scale(1.1,1)" text-anchor="middle" font-size="12.10" fill="#1b74c9" stroke="#1b74c9" stroke-width="0.4">β</text>
<text class="gr" transform="translate(329.50,197.42) scale(1.1,1)" text-anchor="middle" font-size="12.10" fill="#1b74c9" stroke="#1b74c9" stroke-width="0.4">β</text>
<text class="gr" transform="translate(329.50,206.80) scale(1.15,1)" text-anchor="middle" font-size="13.20" fill="#ee3a43" stroke="#ee3a43" stroke-width="0.12">α</text>
<text class="gr" transform="translate(279.90,39.75) scale(1.15,1)" text-anchor="middle" font-size="13.20" fill="#ee3a43" stroke="#ee3a43" stroke-width="0.12">α</text>
<text x="287.70" y="40.50" font-size="12.90" fill="#1a1a1a">Al<tspan font-size="8.60" dy="2.60">2</tspan><tspan dy="-2.60">O</tspan><tspan font-size="8.60" dy="2.60">3</tspan></text>
<text class="gr" transform="translate(279.40,59.57) scale(1.1,1)" text-anchor="middle" font-size="12.10" fill="#1b74c9" stroke="#1b74c9" stroke-width="0.4">β</text>
<text x="286.30" y="60.70" font-size="12.90" fill="#1a1a1a">Ti(C<tspan font-size="8.60" dy="2.60">0.5</tspan><tspan dy="-2.60">,N</tspan><tspan font-size="8.60" dy="2.60">0.5</tspan><tspan dy="-2.60">)</tspan></text>
<text class="gr" transform="translate(278.50,79.42) scale(1.12,1)" text-anchor="middle" font-size="12.32" fill="#16996b" stroke="#16996b" stroke-width="0.35">γ</text>
<text x="285.00" y="80.70" font-size="12.90" fill="#1a1a1a">t-ZrO<tspan font-size="8.60" dy="2.60">2</tspan></text>
<text class="gr" transform="translate(279.90,99.58) scale(1.1,1)" text-anchor="middle" font-size="12.20" fill="#b36ae0" stroke="#b36ae0" stroke-width="0.1">φ</text>
<text x="287.70" y="100.60" font-size="12.90" fill="#1a1a1a">m-ZrO<tspan font-size="8.60" dy="2.60">2</tspan></text>
<text class="gr" x="8.50" y="18.80" font-size="20.50" fill="#1c1c1c">a</text>
<path d="M513.75,30.50V263.23" fill="none" stroke="#555" stroke-width="1.10"/>
<path d="M513.20,262.60H801.26" fill="none" stroke="#555" stroke-width="1.25"/>
<path d="M509.27,262.00H513.75" stroke="#555" stroke-width="1.23"/>
<text x="500.30" y="265.42" textLength="5.20" lengthAdjust="spacingAndGlyphs" font-size="11.51" fill="#242424">0</text>
<path d="M509.27,206.30H513.75" stroke="#555" stroke-width="1.23"/>
<text x="473.50" y="210.61" textLength="32.00" lengthAdjust="spacingAndGlyphs" font-size="12.05" fill="#242424">10,000</text>
<path d="M509.27,150.60H513.75" stroke="#555" stroke-width="1.23"/>
<text x="473.25" y="154.91" textLength="32.25" lengthAdjust="spacingAndGlyphs" font-size="12.05" fill="#242424">20,000</text>
<path d="M509.27,94.90H513.75" stroke="#555" stroke-width="1.23"/>
<text x="473.25" y="99.21" textLength="32.25" lengthAdjust="spacingAndGlyphs" font-size="12.05" fill="#242424">30,000</text>
<path d="M509.27,39.20H513.75" stroke="#555" stroke-width="1.23"/>
<text x="473.25" y="43.51" textLength="32.25" lengthAdjust="spacingAndGlyphs" font-size="12.05" fill="#242424">40,000</text>
<path d="M511.51,234.15H513.75" stroke="#555" stroke-width="1.07"/>
<path d="M511.51,178.45H513.75" stroke="#555" stroke-width="1.07"/>
<path d="M511.51,122.75H513.75" stroke="#555" stroke-width="1.07"/>
<path d="M511.51,67.05H513.75" stroke="#555" stroke-width="1.07"/>
<path d="M513.75,262.60v4.48" stroke="#555" stroke-width="1.23"/>
<text transform="translate(513.75,278.90) scale(0.95,1)" text-anchor="middle" font-size="11.51" fill="#242424">20</text>
<path d="M537.66,262.60v2.54" stroke="#555" stroke-width="1.07"/>
<path d="M561.58,262.60v4.48" stroke="#555" stroke-width="1.23"/>
<text transform="translate(561.58,278.90) scale(0.95,1)" text-anchor="middle" font-size="11.51" fill="#242424">30</text>
<path d="M585.50,262.60v2.54" stroke="#555" stroke-width="1.07"/>
<path d="M609.41,262.60v4.48" stroke="#555" stroke-width="1.23"/>
<text transform="translate(609.41,278.90) scale(0.95,1)" text-anchor="middle" font-size="11.51" fill="#242424">40</text>
<path d="M633.33,262.60v2.54" stroke="#555" stroke-width="1.07"/>
<path d="M657.24,262.60v4.48" stroke="#555" stroke-width="1.23"/>
<text transform="translate(657.24,278.90) scale(0.95,1)" text-anchor="middle" font-size="11.51" fill="#242424">50</text>
<path d="M681.15,262.60v2.54" stroke="#555" stroke-width="1.07"/>
<path d="M705.07,262.60v4.48" stroke="#555" stroke-width="1.23"/>
<text transform="translate(705.07,278.90) scale(0.95,1)" text-anchor="middle" font-size="11.51" fill="#242424">60</text>
<path d="M728.99,262.60v2.54" stroke="#555" stroke-width="1.07"/>
<path d="M752.90,262.60v4.48" stroke="#555" stroke-width="1.23"/>
<text transform="translate(752.90,278.90) scale(0.95,1)" text-anchor="middle" font-size="11.51" fill="#242424">70</text>
<path d="M776.82,262.60v2.54" stroke="#555" stroke-width="1.07"/>
<path d="M800.73,262.60v4.48" stroke="#555" stroke-width="1.23"/>
<text transform="translate(800.73,278.90) scale(0.95,1)" text-anchor="middle" font-size="11.51" fill="#242424">80</text>
<text x="657.24" y="300.50" text-anchor="middle" font-size="13.43" fill="#242424" stroke="#242424" stroke-width="0.08">2θ [<tspan font-size="8.74" dy="-4.37">o</tspan><tspan dy="4.37">]</tspan></text>
<text transform="translate(457.90,141.40) rotate(-90)" text-anchor="middle" font-size="13.43" fill="#242424" stroke="#242424" stroke-width="0.08">I<tspan font-size="9.06" dy="2.77">0</tspan><tspan dy="-2.77"> [-]</tspan></text>
<polyline points="513.75,235.31 513.87,234.29 513.99,234.65 514.11,233.84 514.23,234.52 514.35,234.73 514.47,234.60 514.59,234.49 514.71,234.81 514.83,234.65 514.95,235.17 515.07,234.70 515.18,234.34 515.30,233.87 515.42,234.35 515.54,234.54 515.66,234.23 515.78,234.31 515.90,234.11 516.02,234.38 516.14,234.89 516.26,234.81 516.38,234.89 516.50,234.89 516.62,235.02 516.74,235.44 516.86,236.03 516.98,235.53 517.10,236.05 517.22,235.28 517.34,235.30 517.46,235.89 517.58,235.04 517.70,234.96 517.82,235.20 517.94,234.69 518.05,234.64 518.17,235.82 518.29,235.04 518.41,235.32 518.53,235.35 518.65,235.23 518.77,235.92 518.89,235.93 519.01,236.08 519.13,236.10 519.25,235.90 519.37,236.41 519.49,236.27 519.61,235.69 519.73,235.97 519.85,235.83 519.97,236.74 520.09,236.36 520.21,236.33 520.33,236.07 520.45,236.32 520.57,235.77 520.69,236.17 520.80,236.14 520.92,236.21 521.04,235.96 521.16,236.41 521.28,235.85 521.40,236.14 521.52,236.26 521.64,236.34 521.76,236.18 521.88,236.02 522.00,236.06 522.12,236.31 522.24,236.15 522.36,236.48 522.48,236.15 522.60,236.64 522.72,237.42 522.84,236.26 522.96,236.74 523.08,237.21 523.20,236.86 523.32,237.13 523.44,236.08 523.56,236.68 523.67,237.45 523.79,236.71 523.91,237.12 524.03,236.32 524.15,237.44 524.27,237.90 524.39,237.14 524.51,237.34 524.63,237.33 524.75,237.94 524.87,237.07 524.99,236.61 525.11,237.89 525.23,236.76 525.35,237.44 525.47,236.37 525.59,237.09 525.71,237.31 525.83,236.94 525.95,237.17 526.07,237.60 526.19,237.23 526.31,237.66 526.42,238.13 526.54,236.81 526.66,237.67 526.78,237.78 526.90,237.55 527.02,238.26 527.14,238.20 527.26,237.92 527.38,237.89 527.50,237.68 527.62,237.30 527.74,237.87 527.86,237.57 527.98,237.58 528.10,238.22 528.22,237.76 528.34,238.20 528.46,237.48 528.58,237.76 528.70,237.91 528.82,238.46 528.94,237.96 529.06,238.30 529.18,237.78 529.29,238.08 529.41,238.32 529.53,237.75 529.65,237.82 529.77,238.29 529.89,237.72 530.01,238.28 530.13,238.31 530.25,238.21 530.37,238.54 530.49,238.41 530.61,238.30 530.73,237.71 530.85,237.70 530.97,238.34 531.09,237.73 531.21,238.35 531.33,238.21 531.45,238.03 531.57,238.26 531.69,237.57 531.81,238.35 531.93,238.89 532.04,238.10 532.16,238.80 532.28,238.73 532.40,239.71 532.52,238.30 532.64,238.35 532.76,238.27 532.88,238.25 533.00,238.02 533.12,238.69 533.24,238.39 533.36,239.02 533.48,238.89 533.60,238.47 533.72,238.70 533.84,239.32 533.96,238.79 534.08,239.00 534.20,239.22 534.32,238.84 534.44,239.18 534.56,239.54 534.68,239.44 534.80,238.45 534.91,239.55 535.03,238.93 535.15,238.88 535.27,238.85 535.39,239.52 535.51,239.21 535.63,239.10 535.75,238.88 535.87,239.36 535.99,239.53 536.11,238.80 536.23,238.77 536.35,239.00 536.47,239.36 536.59,239.02 536.71,239.17 536.83,238.90 536.95,239.63 537.07,239.19 537.19,239.29 537.31,239.58 537.43,239.12 537.55,239.16 537.66,239.29 537.78,239.00 537.90,239.58 538.02,239.05 538.14,238.81 538.26,238.79 538.38,238.47 538.50,239.16 538.62,239.14 538.74,238.36 538.86,238.04 538.98,237.21 539.10,237.38 539.22,237.48 539.34,236.38 539.46,235.99 539.58,234.62 539.70,230.23 539.82,225.15 539.94,214.62 540.06,199.27 540.18,180.95 540.30,169.57 540.42,170.43 540.53,180.99 540.65,194.41 540.77,207.47 540.89,218.88 541.01,226.97 541.13,231.87 541.25,234.59 541.37,236.39 541.49,236.53 541.61,237.42 541.73,237.87 541.85,238.27 541.97,238.31 542.09,238.75 542.21,238.84 542.33,239.61 542.45,239.19 542.57,238.75 542.69,239.71 542.81,239.65 542.93,239.41 543.05,239.48 543.17,239.64 543.29,240.50 543.40,239.87 543.52,240.49 543.64,240.38 543.76,239.95 543.88,240.17 544.00,239.80 544.12,239.04 544.24,239.88 544.36,239.96 544.48,240.63 544.60,240.60 544.72,240.81 544.84,240.65 544.96,240.85 545.08,240.73 545.20,240.62 545.32,240.91 545.44,241.05 545.56,241.04 545.68,240.41 545.80,240.50 545.92,240.18 546.04,240.19 546.15,240.70 546.27,240.35 546.39,241.07 546.51,239.84 546.63,240.27 546.75,240.71 546.87,241.14 546.99,240.69 547.11,241.43 547.23,241.06 547.35,240.58 547.47,240.76 547.59,240.97 547.71,240.51 547.83,241.20 547.95,240.79 548.07,241.07 548.19,241.20 548.31,240.74 548.43,241.24 548.55,240.23 548.67,241.11 548.79,240.23 548.91,241.33 549.02,240.80 549.14,241.45 549.26,241.47 549.38,241.02 549.50,240.81 549.62,241.45 549.74,240.65 549.86,241.32 549.98,240.98 550.10,240.96 550.22,240.84 550.34,241.63 550.46,240.51 550.58,240.89 550.70,241.21 550.82,241.46 550.94,241.67 551.06,241.54 551.18,240.88 551.30,241.12 551.42,241.28 551.54,241.05 551.66,240.31 551.77,240.82 551.89,240.82 552.01,240.14 552.13,240.35 552.25,240.42 552.37,240.60 552.49,240.83 552.61,240.62 552.73,240.27 552.85,240.04 552.97,239.74 553.09,239.58 553.21,239.65 553.33,239.67 553.45,240.08 553.57,240.49 553.69,240.00 553.81,240.19 553.93,240.14 554.05,240.13 554.17,240.53 554.29,240.59 554.41,240.39 554.53,240.41 554.64,240.77 554.76,240.54 554.88,240.89 555.00,241.21 555.12,241.00 555.24,240.47 555.36,241.35 555.48,240.80 555.60,240.87 555.72,240.85 555.84,241.69 555.96,240.86 556.08,241.57 556.20,241.71 556.32,241.78 556.44,241.56 556.56,241.74 556.68,241.86 556.80,241.45 556.92,242.11 557.04,242.22 557.16,241.65 557.28,241.71 557.39,241.56 557.51,242.29 557.63,241.59 557.75,241.85 557.87,241.42 557.99,242.44 558.11,242.03 558.23,242.26 558.35,242.65 558.47,242.39 558.59,241.82 558.71,242.30 558.83,242.35 558.95,241.86 559.07,241.83 559.19,241.83 559.31,242.41 559.43,242.22 559.55,241.91 559.67,242.42 559.79,242.42 559.91,241.96 560.03,241.77 560.15,242.65 560.26,243.14 560.38,242.79 560.50,242.59 560.62,242.23 560.74,241.94 560.86,242.11 560.98,242.25 561.10,241.93 561.22,242.22 561.34,241.76 561.46,241.84 561.58,240.66 561.70,241.16 561.82,241.55 561.94,241.56 562.06,241.28 562.18,241.53 562.30,241.07 562.42,240.96 562.54,240.34 562.66,240.70 562.78,240.80 562.90,240.99 563.01,240.98 563.13,240.66 563.25,240.80 563.37,240.45 563.49,241.15 563.61,240.77 563.73,241.25 563.85,241.51 563.97,242.32 564.09,242.22 564.21,241.72 564.33,241.59 564.45,242.08 564.57,242.04 564.69,242.55 564.81,242.62 564.93,242.80 565.05,242.35 565.17,242.61 565.29,242.82 565.41,242.91 565.53,242.70 565.65,242.76 565.77,243.14 565.88,242.37 566.00,242.82 566.12,242.86 566.24,242.44 566.36,242.57 566.48,242.93 566.60,242.77 566.72,243.31 566.84,243.12 566.96,243.64 567.08,242.47 567.20,243.39 567.32,242.50 567.44,242.93 567.56,242.86 567.68,242.54 567.80,242.26 567.92,242.04 568.04,241.57 568.16,241.95 568.28,241.71 568.40,242.14 568.52,241.70 568.63,241.86 568.75,242.03 568.87,241.94 568.99,241.96 569.11,241.94 569.23,241.96 569.35,242.32 569.47,242.53 569.59,242.21 569.71,243.04 569.83,242.87 569.95,242.35 570.07,243.73 570.19,243.25 570.31,242.92 570.43,243.74 570.55,242.49 570.67,244.16 570.79,242.96 570.91,243.06 571.03,243.27 571.15,243.73 571.27,243.63 571.39,244.11 571.50,243.64 571.62,244.26 571.74,244.05 571.86,243.73 571.98,244.38 572.10,244.21 572.22,244.07 572.34,244.53 572.46,243.82 572.58,244.10 572.70,244.68 572.82,244.29 572.94,244.54 573.06,244.51 573.18,244.29 573.30,244.55 573.42,244.03 573.54,244.56 573.66,244.04 573.78,244.40 573.90,244.14 574.02,244.63 574.14,244.63 574.25,244.84 574.37,244.28 574.49,244.16 574.61,243.79 574.73,244.07 574.85,244.42 574.97,244.62 575.09,244.45 575.21,244.58 575.33,244.16 575.45,244.36 575.57,244.89 575.69,244.88 575.81,244.30 575.93,244.60 576.05,244.77 576.17,244.40 576.29,244.90 576.41,244.92 576.53,245.00 576.65,245.48 576.77,244.65 576.89,245.30 577.01,245.07 577.12,245.15 577.24,244.70 577.36,244.98 577.48,244.96 577.60,245.52 577.72,245.05 577.84,245.47 577.96,244.92 578.08,244.88 578.20,244.97 578.32,244.36 578.44,244.83 578.56,244.83 578.68,244.99 578.80,245.10 578.92,244.80 579.04,244.75 579.16,245.46 579.28,244.78 579.40,244.96 579.52,244.84 579.64,245.04 579.76,245.53 579.87,245.53 579.99,244.69 580.11,245.13 580.23,245.61 580.35,245.17 580.47,245.44 580.59,245.88 580.71,246.02 580.83,245.81 580.95,245.23 581.07,245.27 581.19,245.29 581.31,245.18 581.43,245.09 581.55,245.88 581.67,245.38 581.79,245.55 581.91,245.62 582.03,245.40 582.15,245.27 582.27,245.28 582.39,245.55 582.51,245.26 582.63,244.53 582.74,245.35 582.86,245.47 582.98,244.88 583.10,244.73 583.22,244.64 583.34,245.04 583.46,244.37 583.58,244.80 583.70,244.75 583.82,244.46 583.94,244.10 584.06,243.63 584.18,243.37 584.30,243.24 584.42,242.58 584.54,242.39 584.66,241.58 584.78,241.47 584.90,240.53 585.02,238.47 585.14,236.97 585.26,233.04 585.38,226.14 585.49,212.88 585.61,189.52 585.73,154.49 585.85,116.67 585.97,91.60 586.09,96.79 586.21,118.08 586.33,138.54 586.45,159.39 586.57,182.29 586.69,203.88 586.81,218.79 586.93,228.73 587.05,234.21 587.17,237.55 587.29,239.29 587.41,240.84 587.53,241.60 587.65,242.48 587.77,242.98 587.89,243.26 588.01,243.54 588.13,244.08 588.25,243.53 588.36,244.15 588.48,244.62 588.60,244.03 588.72,244.62 588.84,244.28 588.96,244.46 589.08,244.38 589.20,244.38 589.32,244.49 589.44,244.28 589.56,243.60 589.68,244.64 589.80,243.82 589.92,243.53 590.04,243.55 590.16,243.26 590.28,241.74 590.40,241.78 590.52,240.23 590.64,239.55 590.76,237.97 590.88,235.10 591.00,230.24 591.12,221.66 591.23,208.07 591.35,187.81 591.47,162.00 591.59,135.66 591.71,119.93 591.83,121.58 591.95,133.91 592.07,149.35 592.19,166.84 592.31,185.23 592.43,202.50 592.55,215.97 592.67,225.66 592.79,232.08 592.91,236.54 593.03,238.51 593.15,240.75 593.27,240.94 593.39,242.40 593.51,243.22 593.63,244.05 593.75,245.12 593.87,244.69 593.98,244.90 594.10,244.57 594.22,245.70 594.34,244.96 594.46,245.80 594.58,245.64 594.70,246.71 594.82,246.05 594.94,246.29 595.06,246.07 595.18,246.29 595.30,246.68 595.42,246.17 595.54,246.28 595.66,246.31 595.78,246.25 595.90,246.30 596.02,246.68 596.14,247.06 596.26,247.10 596.38,246.35 596.50,246.51 596.62,246.65 596.74,246.81 596.85,246.67 596.97,246.65 597.09,246.65 597.21,246.66 597.33,245.78 597.45,246.18 597.57,246.20 597.69,246.13 597.81,245.51 597.93,244.32 598.05,242.74 598.17,240.00 598.29,234.67 598.41,226.97 598.53,218.46 598.65,212.52 598.77,214.34 598.89,218.63 599.01,223.88 599.13,227.68 599.25,232.16 599.37,237.18 599.49,241.23 599.60,243.66 599.72,244.90 599.84,245.67 599.96,246.26 600.08,246.28 600.20,246.53 600.32,246.89 600.44,247.12 600.56,247.32 600.68,247.21 600.80,247.18 600.92,247.49 601.04,247.49 601.16,247.79 601.28,248.12 601.40,248.05 601.52,247.59 601.64,247.68 601.76,247.38 601.88,247.82 602.00,247.62 602.12,247.57 602.24,247.69 602.36,248.16 602.47,248.11 602.59,248.06 602.71,248.36 602.83,247.99 602.95,247.84 603.07,248.25 603.19,247.62 603.31,248.27 603.43,248.27 603.55,248.33 603.67,248.47 603.79,248.15 603.91,248.26 604.03,247.82 604.15,248.13 604.27,248.19 604.39,248.44 604.51,248.80 604.63,248.46 604.75,248.67 604.87,248.16 604.99,248.42 605.11,247.96 605.22,248.23 605.34,248.22 605.46,248.41 605.58,248.43 605.70,248.35 605.82,248.29 605.94,248.69 606.06,248.40 606.18,247.88 606.30,248.61 606.42,248.70 606.54,248.85 606.66,249.06 606.78,248.37 606.90,248.64 607.02,248.52 607.14,248.16 607.26,247.98 607.38,248.88 607.50,248.40 607.62,248.56 607.74,248.62 607.86,248.60 607.98,248.74 608.09,248.33 608.21,248.58 608.33,248.65 608.45,248.44 608.57,248.55 608.69,248.65 608.81,248.70 608.93,248.36 609.05,248.71 609.17,248.89 609.29,249.14 609.41,249.03 609.53,249.21 609.65,248.94 609.77,248.90 609.89,249.47 610.01,248.94 610.13,248.81 610.25,248.88 610.37,249.19 610.49,248.65 610.61,249.18 610.73,249.31 610.84,249.28 610.96,248.97 611.08,248.69 611.20,248.65 611.32,248.91 611.44,249.30 611.56,249.19 611.68,249.29 611.80,249.08 611.92,249.47 612.04,248.96 612.16,248.81 612.28,249.00 612.40,248.87 612.52,249.24 612.64,249.35 612.76,249.12 612.88,248.64 613.00,248.62 613.12,248.99 613.24,248.54 613.36,248.93 613.48,248.45 613.60,248.70 613.71,248.94 613.83,248.64 613.95,249.05 614.07,249.06 614.19,249.18 614.31,248.71 614.43,248.75 614.55,248.67 614.67,248.73 614.79,248.23 614.91,248.64 615.03,248.64 615.15,248.10 615.27,248.02 615.39,248.23 615.51,248.69 615.63,248.34 615.75,247.91 615.87,247.95 615.99,247.40 616.11,248.01 616.23,247.28 616.35,247.40 616.46,246.57 616.58,246.57 616.70,245.82 616.82,245.69 616.94,245.15 617.06,244.20 617.18,242.96 617.30,241.76 617.42,239.76 617.54,238.20 617.66,236.88 617.78,235.72 617.90,234.16 618.02,233.26 618.14,232.01 618.26,231.95 618.38,231.80 618.50,232.05 618.62,232.44 618.74,231.88 618.86,231.23 618.98,229.16 619.10,225.70 619.22,218.83 619.33,205.64 619.45,183.08 619.57,150.95 619.69,109.46 619.81,68.05 619.93,44.25 620.05,48.54 620.17,70.01 620.29,93.27 620.41,115.72 620.53,138.55 620.65,163.92 620.77,187.38 620.89,206.17 621.01,219.80 621.13,228.49 621.25,234.53 621.37,237.95 621.49,240.18 621.61,241.66 621.73,242.86 621.85,243.45 621.97,244.40 622.08,244.94 622.20,245.49 622.32,246.13 622.44,246.41 622.56,246.73 622.68,246.63 622.80,247.01 622.92,247.20 623.04,247.00 623.16,246.95 623.28,247.53 623.40,246.66 623.52,247.01 623.64,246.92 623.76,246.52 623.88,246.53 624.00,246.42 624.12,245.36 624.24,245.63 624.36,244.68 624.48,243.47 624.60,242.37 624.72,239.38 624.84,234.04 624.95,223.29 625.07,206.14 625.19,179.67 625.31,150.56 625.43,134.23 625.55,141.86 625.67,159.76 625.79,174.08 625.91,182.49 626.03,192.08 626.15,205.92 626.27,219.86 626.39,230.56 626.51,237.92 626.63,241.78 626.75,243.98 626.87,245.48 626.99,246.21 627.11,247.05 627.23,246.97 627.35,247.21 627.47,248.15 627.59,248.23 627.70,248.63 627.82,248.45 627.94,248.83 628.06,249.05 628.18,249.29 628.30,249.31 628.42,249.69 628.54,249.36 628.66,249.78 628.78,249.51 628.90,249.68 629.02,249.48 629.14,249.83 629.26,249.62 629.38,250.16 629.50,249.83 629.62,250.09 629.74,249.99 629.86,250.10 629.98,249.92 630.10,250.70 630.22,250.14 630.34,250.66 630.46,250.01 630.57,250.85 630.69,250.58 630.81,250.81 630.93,249.99 631.05,250.72 631.17,250.40 631.29,250.61 631.41,250.91 631.53,250.58 631.65,250.33 631.77,250.53 631.89,250.27 632.01,250.62 632.13,250.53 632.25,250.63 632.37,250.46 632.49,250.09 632.61,250.48 632.73,250.55 632.85,250.77 632.97,250.84 633.09,250.33 633.21,250.96 633.32,250.92 633.44,250.73 633.56,250.84 633.68,250.25 633.80,251.30 633.92,250.66 634.04,250.63 634.16,251.04 634.28,250.91 634.40,250.69 634.52,250.41 634.64,251.01 634.76,251.16 634.88,250.59 635.00,250.49 635.12,250.89 635.24,251.37 635.36,250.51 635.48,250.91 635.60,250.57 635.72,250.89 635.84,250.95 635.96,250.97 636.08,250.55 636.19,250.57 636.31,251.40 636.43,251.15 636.55,250.55 636.67,251.04 636.79,251.27 636.91,250.98 637.03,251.01 637.15,251.00 637.27,251.10 637.39,251.06 637.51,251.11 637.63,250.93 637.75,251.21 637.87,251.06 637.99,251.03 638.11,250.68 638.23,250.89 638.35,251.01 638.47,250.86 638.59,250.89 638.71,250.71 638.83,250.84 638.95,250.54 639.06,250.68 639.18,251.01 639.30,251.13 639.42,250.84 639.54,250.96 639.66,251.13 639.78,251.48 639.90,251.57 640.02,251.03 640.14,250.94 640.26,250.89 640.38,251.41 640.50,250.86 640.62,251.25 640.74,251.03 640.86,251.05 640.98,251.37 641.10,251.35 641.22,251.74 641.34,251.45 641.46,251.66 641.58,251.08 641.70,251.15 641.81,250.94 641.93,251.08 642.05,251.32 642.17,251.10 642.29,251.28 642.41,251.05 642.53,251.13 642.65,251.44 642.77,251.23 642.89,251.21 643.01,251.26 643.13,250.98 643.25,250.80 643.37,251.33 643.49,251.35 643.61,251.84 643.73,251.36 643.85,251.43 643.97,251.80 644.09,251.23 644.21,251.17 644.33,251.47 644.45,251.38 644.57,251.56 644.68,251.14 644.80,251.65 644.92,251.36 645.04,250.83 645.16,251.26 645.28,251.18 645.40,251.36 645.52,251.60 645.64,251.36 645.76,251.26 645.88,251.56 646.00,251.22 646.12,251.05 646.24,251.09 646.36,251.75 646.48,251.62 646.60,251.78 646.72,251.11 646.84,251.23 646.96,251.20 647.08,251.59 647.20,251.68 647.32,251.41 647.43,251.39 647.55,251.59 647.67,251.36 647.79,251.26 647.91,251.39 648.03,251.70 648.15,251.96 648.27,251.54 648.39,251.43 648.51,251.51 648.63,251.54 648.75,251.61 648.87,251.28 648.99,251.47 649.11,251.43 649.23,251.70 649.35,251.64 649.47,251.48 649.59,251.75 649.71,251.79 649.83,251.57 649.95,251.18 650.07,251.40 650.19,251.11 650.30,251.52 650.42,251.58 650.54,251.84 650.66,251.65 650.78,251.16 650.90,251.39 651.02,251.29 651.14,251.33 651.26,251.50 651.38,251.55 651.50,251.49 651.62,251.35 651.74,251.40 651.86,251.41 651.98,251.51 652.10,251.75 652.22,251.63 652.34,251.82 652.46,251.36 652.58,252.05 652.70,251.61 652.82,251.03 652.94,251.64 653.05,251.81 653.17,251.59 653.29,251.27 653.41,251.59 653.53,251.42 653.65,251.51 653.77,251.62 653.89,250.82 654.01,251.55 654.13,251.69 654.25,251.72 654.37,251.51 654.49,251.49 654.61,251.42 654.73,251.57 654.85,251.95 654.97,251.51 655.09,251.73 655.21,251.71 655.33,252.01 655.45,251.79 655.57,251.85 655.69,251.66 655.81,251.98 655.92,251.63 656.04,251.62 656.16,251.89 656.28,251.76 656.40,251.84 656.52,251.41 656.64,252.21 656.76,251.68 656.88,251.96 657.00,251.62 657.12,251.27 657.24,251.54 657.36,251.25 657.48,251.38 657.60,250.58 657.72,250.69 657.84,250.46 657.96,250.82 658.08,250.54 658.20,249.80 658.32,249.80 658.44,249.57 658.56,249.24 658.67,249.48 658.79,248.96 658.91,249.19 659.03,249.17 659.15,249.61 659.27,249.52 659.39,250.01 659.51,249.83 659.63,250.03 659.75,250.28 659.87,250.63 659.99,250.79 660.11,251.73 660.23,251.05 660.35,251.43 660.47,251.41 660.59,251.59 660.71,251.88 660.83,251.71 660.95,251.47 661.07,251.32 661.19,251.78 661.31,251.89 661.43,251.35 661.54,251.89 661.66,251.22 661.78,251.71 661.90,251.89 662.02,251.52 662.14,251.34 662.26,252.06 662.38,251.37 662.50,251.83 662.62,251.43 662.74,251.88 662.86,252.14 662.98,251.65 663.10,251.53 663.22,251.23 663.34,251.32 663.46,251.59 663.58,251.84 663.70,251.94 663.82,251.91 663.94,252.07 664.06,251.93 664.18,252.45 664.29,251.77 664.41,251.80 664.53,251.16 664.65,251.57 664.77,251.87 664.89,251.68 665.01,252.12 665.13,251.95 665.25,252.23 665.37,251.46 665.49,251.64 665.61,251.99 665.73,251.74 665.85,251.50 665.97,251.59 666.09,251.61 666.21,251.89 666.33,251.81 666.45,251.64 666.57,251.43 666.69,251.77 666.81,251.82 666.93,251.26 667.05,251.67 667.16,251.13 667.28,251.25 667.40,251.01 667.52,250.73 667.64,250.88 667.76,250.76 667.88,251.01 668.00,250.76 668.12,250.20 668.24,249.65 668.36,249.26 668.48,248.47 668.60,248.03 668.72,246.46 668.84,243.33 668.96,238.27 669.08,229.90 669.20,218.99 669.32,207.16 669.44,201.76 669.56,204.64 669.68,213.21 669.80,219.56 669.91,223.70 670.03,224.78 670.15,227.78 670.27,232.16 670.39,237.19 670.51,242.30 670.63,245.51 670.75,247.83 670.87,249.52 670.99,249.70 671.11,250.13 671.23,250.78 671.35,250.66 671.47,251.17 671.59,251.37 671.71,251.24 671.83,251.51 671.95,250.90 672.07,251.83 672.19,251.40 672.31,251.46 672.43,252.15 672.55,252.16 672.67,251.69 672.78,251.91 672.90,251.73 673.02,251.61 673.14,252.01 673.26,252.19 673.38,252.63 673.50,251.97 673.62,252.22 673.74,251.94 673.86,251.95 673.98,252.30 674.10,251.60 674.22,251.78 674.34,251.83 674.46,252.34 674.58,252.20 674.70,252.27 674.82,252.22 674.94,252.38 675.06,252.03 675.18,252.08 675.30,252.02 675.42,252.23 675.53,251.88 675.65,252.15 675.77,252.81 675.89,252.35 676.01,252.23 676.13,251.97 676.25,252.26 676.37,252.24 676.49,252.36 676.61,252.07 676.73,252.34 676.85,252.36 676.97,252.42 677.09,252.15 677.21,252.38 677.33,252.64 677.45,252.13 677.57,252.42 677.69,252.14 677.81,252.14 677.93,251.95 678.05,252.00 678.17,252.39 678.29,252.30 678.40,252.56 678.52,251.87 678.64,252.15 678.76,251.95 678.88,252.35 679.00,252.74 679.12,251.96 679.24,252.28 679.36,252.24 679.48,252.27 679.60,252.17 679.72,252.18 679.84,252.67 679.96,252.09 680.08,252.44 680.20,252.39 680.32,251.92 680.44,252.12 680.56,252.40 680.68,252.76 680.80,252.32 680.92,252.26 681.04,252.38 681.15,252.67 681.27,252.57 681.39,252.66 681.51,252.30 681.63,252.17 681.75,252.10 681.87,252.49 681.99,252.30 682.11,252.24 682.23,252.44 682.35,252.36 682.47,251.85 682.59,252.28 682.71,252.13 682.83,252.48 682.95,252.38 683.07,252.77 683.19,252.35 683.31,252.06 683.43,251.83 683.55,252.03 683.67,252.17 683.79,252.35 683.91,252.50 684.02,252.42 684.14,252.24 684.26,252.56 684.38,252.20 684.50,252.65 684.62,252.84 684.74,252.70 684.86,252.81 684.98,252.72 685.10,252.14 685.22,252.40 685.34,252.26 685.46,252.08 685.58,252.03 685.70,252.42 685.82,252.02 685.94,252.24 686.06,252.34 686.18,252.27 686.30,252.69 686.42,252.53 686.54,252.39 686.66,252.20 686.78,252.39 686.89,252.31 687.01,252.06 687.13,251.93 687.25,252.07 687.37,251.96 687.49,252.34 687.61,252.33 687.73,252.21 687.85,252.30 687.97,252.33 688.09,251.86 688.21,252.24 688.33,252.36 688.45,252.05 688.57,251.71 688.69,252.07 688.81,251.81 688.93,252.19 689.05,252.18 689.17,252.18 689.29,252.04 689.41,251.53 689.53,252.16 689.64,251.50 689.76,252.05 689.88,251.80 690.00,251.52 690.12,251.51 690.24,251.51 690.36,251.88 690.48,251.30 690.60,251.51 690.72,250.56 690.84,251.05 690.96,250.78 691.08,250.93 691.20,250.53 691.32,250.44 691.44,249.57 691.56,249.44 691.68,248.73 691.80,248.37 691.92,247.52 692.04,246.07 692.16,245.01 692.28,242.77 692.40,238.01 692.51,230.35 692.63,216.01 692.75,193.33 692.87,163.95 692.99,133.50 693.11,118.81 693.23,128.47 693.35,152.09 693.47,173.05 693.59,183.53 693.71,185.53 693.83,185.87 693.95,192.52 694.07,205.93 694.19,219.01 694.31,230.59 694.43,238.08 694.55,243.02 694.67,244.89 694.79,246.96 694.91,247.93 695.03,248.93 695.15,249.11 695.26,250.23 695.38,250.12 695.50,249.95 695.62,250.73 695.74,250.87 695.86,250.94 695.98,251.40 696.10,251.34 696.22,251.26 696.34,251.52 696.46,251.57 696.58,251.82 696.70,251.73 696.82,251.85 696.94,251.59 697.06,251.85 697.18,252.10 697.30,252.64 697.42,252.00 697.54,252.05 697.66,252.44 697.78,252.70 697.90,252.56 698.02,252.13 698.13,252.56 698.25,252.41 698.37,252.29 698.49,252.07 698.61,252.36 698.73,252.38 698.85,252.49 698.97,252.02 699.09,252.18 699.21,252.44 699.33,252.75 699.45,252.65 699.57,252.34 699.69,252.61 699.81,252.24 699.93,252.35 700.05,252.35 700.17,252.29 700.29,252.33 700.41,252.59 700.53,252.48 700.65,251.89 700.77,252.61 700.88,252.41 701.00,252.07 701.12,252.28 701.24,252.33 701.36,252.35 701.48,251.80 701.60,251.54 701.72,251.26 701.84,251.40 701.96,251.00 702.08,251.27 702.20,250.79 702.32,250.77 702.44,250.37 702.56,250.12 702.68,249.92 702.80,250.34 702.92,249.89 703.04,250.35 703.16,250.58 703.28,250.55 703.40,250.97 703.52,250.81 703.64,250.92 703.75,251.20 703.87,251.22 703.99,251.60 704.11,251.69 704.23,252.16 704.35,251.97 704.47,252.27 704.59,252.25 704.71,252.27 704.83,252.29 704.95,252.73 705.07,252.75 705.19,252.50 705.31,252.31 705.43,252.31 705.55,252.20 705.67,252.12 705.79,252.32 705.91,252.45 706.03,252.69 706.15,252.67 706.27,252.55 706.39,252.36 706.50,252.34 706.62,252.35 706.74,252.36 706.86,252.16 706.98,252.22 707.10,252.17 707.22,252.15 707.34,252.28 707.46,252.34 707.58,251.95 707.70,251.90 707.82,251.91 707.94,251.89 708.06,251.21 708.18,251.75 708.30,251.51 708.42,251.28 708.54,251.37 708.66,250.86 708.78,250.23 708.90,250.09 709.02,249.78 709.14,249.33 709.26,248.83 709.37,247.81 709.49,246.80 709.61,244.89 709.73,241.70 709.85,236.78 709.97,230.00 710.09,220.53 710.21,209.56 710.33,196.40 710.45,185.42 710.57,180.16 710.69,182.13 710.81,188.84 710.93,196.35 711.05,203.08 711.17,207.21 711.29,210.91 711.41,214.54 711.53,219.68 711.65,226.45 711.77,231.91 711.89,237.32 712.01,241.59 712.12,244.51 712.24,246.63 712.36,247.83 712.48,249.36 712.60,249.49 712.72,249.80 712.84,250.46 712.96,250.81 713.08,251.20 713.20,251.67 713.32,251.48 713.44,251.63 713.56,251.66 713.68,251.38 713.80,251.87 713.92,252.05 714.04,251.94 714.16,252.66 714.28,252.69 714.40,252.60 714.52,252.70 714.64,252.42 714.76,252.66 714.88,252.24 714.99,252.34 715.11,252.52 715.23,252.81 715.35,252.67 715.47,252.66 715.59,253.07 715.71,252.80 715.83,252.74 715.95,252.83 716.07,252.58 716.19,252.68 716.31,253.15 716.43,252.98 716.55,253.23 716.67,252.92 716.79,253.24 716.91,252.85 717.03,252.99 717.15,252.88 717.27,253.12 717.39,253.42 717.51,252.74 717.63,253.16 717.74,252.81 717.86,253.02 717.98,252.97 718.10,252.74 718.22,253.09 718.34,252.87 718.46,253.52 718.58,253.04 718.70,253.30 718.82,253.26 718.94,253.23 719.06,253.19 719.18,252.91 719.30,253.68 719.42,253.27 719.54,253.47 719.66,253.04 719.78,253.39 719.90,253.19 720.02,253.38 720.14,253.16 720.26,253.10 720.38,253.42 720.50,253.34 720.61,253.66 720.73,253.30 720.85,253.18 720.97,253.49 721.09,253.17 721.21,253.88 721.33,253.84 721.45,253.77 721.57,253.55 721.69,253.42 721.81,253.42 721.93,253.42 722.05,253.28 722.17,253.55 722.29,253.69 722.41,253.74 722.53,253.03 722.65,253.94 722.77,253.46 722.89,253.16 723.01,253.34 723.13,253.61 723.25,253.44 723.36,253.28 723.48,253.19 723.60,253.63 723.72,253.29 723.84,253.39 723.96,253.21 724.08,253.19 724.20,253.55 724.32,253.78 724.44,253.41 724.56,253.11 724.68,253.29 724.80,253.41 724.92,252.97 725.04,253.72 725.16,253.31 725.28,253.66 725.40,253.50 725.52,253.52 725.64,253.22 725.76,253.76 725.88,253.68 726.00,253.93 726.12,253.48 726.23,253.69 726.35,253.49 726.47,253.80 726.59,253.65 726.71,253.35 726.83,253.59 726.95,253.42 727.07,253.48 727.19,253.66 727.31,253.92 727.43,253.38 727.55,253.58 727.67,253.41 727.79,254.08 727.91,254.03 728.03,254.13 728.15,253.83 728.27,253.41 728.39,253.48 728.51,253.58 728.63,253.57 728.75,253.44 728.87,253.66 728.98,253.55 729.10,253.62 729.22,254.09 729.34,253.72 729.46,253.36 729.58,253.71 729.70,253.66 729.82,253.76 729.94,253.73 730.06,253.41 730.18,253.73 730.30,253.89 730.42,254.37 730.54,253.86 730.66,254.12 730.78,254.04 730.90,253.51 731.02,253.49 731.14,254.00 731.26,253.44 731.38,253.52 731.50,253.77 731.62,253.48 731.74,253.99 731.85,253.90 731.97,253.94 732.09,253.86 732.21,253.44 732.33,253.88 732.45,253.82 732.57,253.78 732.69,253.50 732.81,253.59 732.93,253.33 733.05,253.64 733.17,253.74 733.29,253.57 733.41,253.42 733.53,253.55 733.65,253.26 733.77,252.90 733.89,253.32 734.01,253.14 734.13,252.84 734.25,253.18 734.37,253.13 734.49,253.08 734.61,252.62 734.72,252.41 734.84,252.30 734.96,251.97 735.08,251.34 735.20,250.81 735.32,250.27 735.44,248.27 735.56,245.46 735.68,241.06 735.80,235.47 735.92,228.84 736.04,222.69 736.16,220.10 736.28,221.60 736.40,226.60 736.52,231.43 736.64,235.31 736.76,236.80 736.88,237.08 737.00,237.07 737.12,237.76 737.24,240.40 737.36,243.17 737.47,246.34 737.59,248.35 737.71,250.37 737.83,251.20 737.95,251.90 738.07,252.09 738.19,252.45 738.31,252.71 738.43,252.66 738.55,252.90 738.67,252.93 738.79,252.98 738.91,253.22 739.03,253.34 739.15,253.26 739.27,253.44 739.39,253.29 739.51,253.19 739.63,253.27 739.75,253.55 739.87,253.77 739.99,253.53 740.11,253.56 740.23,253.30 740.34,253.60 740.46,253.57 740.58,253.39 740.70,253.61 740.82,253.52 740.94,253.13 741.06,253.15 741.18,253.32 741.30,253.39 741.42,253.64 741.54,253.31 741.66,253.39 741.78,253.30 741.90,253.42 742.02,253.25 742.14,253.21 742.26,253.02 742.38,252.72 742.50,252.83 742.62,253.13 742.74,252.86 742.86,252.77 742.98,252.32 743.09,251.69 743.21,251.20 743.33,250.64 743.45,249.24 743.57,247.35 743.69,244.01 743.81,238.70 743.93,231.42 744.05,222.55 744.17,215.51 744.29,211.47 744.41,213.89 744.53,220.39 744.65,226.85 744.77,231.57 744.89,233.55 745.01,233.54 745.13,233.23 745.25,233.76 745.37,236.27 745.49,240.03 745.61,243.62 745.73,246.71 745.85,248.85 745.96,250.65 746.08,251.32 746.20,251.94 746.32,252.55 746.44,252.24 746.56,253.08 746.68,253.23 746.80,253.17 746.92,253.74 747.04,253.60 747.16,253.84 747.28,253.76 747.40,253.63 747.52,253.56 747.64,253.42 747.76,253.51 747.88,253.48 748.00,253.64 748.12,253.90 748.24,253.63 748.36,253.97 748.48,254.00 748.60,253.60 748.71,253.75 748.83,253.87 748.95,253.82 749.07,253.82 749.19,254.31 749.31,254.07 749.43,254.32 749.55,254.04 749.67,254.20 749.79,253.80 749.91,253.98 750.03,254.27 750.15,254.13 750.27,254.38 750.39,254.13 750.51,254.06 750.63,254.11 750.75,254.55 750.87,254.24 750.99,254.07 751.11,254.11 751.23,253.93 751.35,254.45 751.47,254.09 751.58,254.34 751.70,254.15 751.82,254.13 751.94,254.07 752.06,254.34 752.18,254.22 752.30,254.50 752.42,254.55 752.54,254.18 752.66,254.30 752.78,254.60 752.90,254.44 753.02,254.26 753.14,253.92 753.26,254.04 753.38,254.09 753.50,254.63 753.62,254.30 753.74,254.20 753.86,254.20 753.98,254.17 754.10,254.29 754.22,253.90 754.33,253.98 754.45,254.27 754.57,254.48 754.69,253.88 754.81,254.38 754.93,254.03 755.05,253.92 755.17,254.49 755.29,254.25 755.41,254.40 755.53,254.20 755.65,254.23 755.77,253.91 755.89,254.17 756.01,254.30 756.13,254.11 756.25,254.37 756.37,254.40 756.49,253.90 756.61,254.51 756.73,254.46 756.85,254.41 756.97,254.61 757.09,254.83 757.20,254.20 757.32,254.56 757.44,254.50 757.56,254.50 757.68,254.61 757.80,254.59 757.92,254.33 758.04,253.86 758.16,254.20 758.28,254.21 758.40,254.70 758.52,254.41 758.64,254.66 758.76,254.25 758.88,254.45 759.00,254.39 759.12,254.44 759.24,254.53 759.36,254.74 759.48,254.34 759.60,254.73 759.72,254.67 759.84,254.50 759.95,254.55 760.07,254.34 760.19,254.19 760.31,254.33 760.43,254.33 760.55,254.40 760.67,254.24 760.79,254.79 760.91,254.37 761.03,254.63 761.15,254.67 761.27,254.42 761.39,254.47 761.51,254.29 761.63,254.19 761.75,254.84 761.87,254.38 761.99,253.97 762.11,254.16 762.23,254.06 762.35,254.36 762.47,254.66 762.59,254.61 762.71,254.25 762.82,254.18 762.94,254.49 763.06,254.43 763.18,254.33 763.30,254.69 763.42,254.37 763.54,253.98 763.66,253.81 763.78,254.26 763.90,253.90 764.02,254.41 764.14,254.44 764.26,254.74 764.38,254.05 764.50,254.28 764.62,253.69 764.74,254.11 764.86,254.09 764.98,254.49 765.10,253.81 765.22,254.18 765.34,254.07 765.46,254.44 765.57,253.78 765.69,253.71 765.81,253.94 765.93,253.73 766.05,253.61 766.17,253.38 766.29,253.45 766.41,253.03 766.53,253.30 766.65,253.24 766.77,253.04 766.89,253.18 767.01,252.49 767.13,251.66 767.25,251.09 767.37,250.34 767.49,248.69 767.61,247.12 767.73,243.99 767.85,240.28 767.97,235.92 768.09,231.40 768.21,226.38 768.33,222.43 768.44,221.06 768.56,221.39 768.68,224.20 768.80,227.38 768.92,229.86 769.04,232.32 769.16,233.91 769.28,235.20 769.40,236.19 769.52,237.42 769.64,239.18 769.76,241.79 769.88,244.35 770.00,245.90 770.12,247.85 770.24,249.27 770.36,250.55 770.48,251.00 770.60,252.11 770.72,252.49 770.84,253.33 770.96,253.33 771.08,253.54 771.19,253.54 771.31,253.56 771.43,253.89 771.55,253.50 771.67,254.12 771.79,254.08 771.91,254.02 772.03,254.34 772.15,254.03 772.27,254.04 772.39,254.24 772.51,253.85 772.63,254.26 772.75,254.27 772.87,254.57 772.99,254.74 773.11,254.57 773.23,254.51 773.35,254.56 773.47,254.35 773.59,255.00 773.71,254.75 773.83,254.91 773.95,254.28 774.06,254.67 774.18,254.64 774.30,254.78 774.42,254.39 774.54,254.68 774.66,254.54 774.78,254.99 774.90,254.36 775.02,254.51 775.14,254.46 775.26,254.35 775.38,254.63 775.50,254.64 775.62,254.49 775.74,254.55 775.86,254.69 775.98,254.64 776.10,254.74 776.22,254.51 776.34,254.45 776.46,254.64 776.58,254.30 776.70,254.95 776.81,254.71 776.93,254.38 777.05,254.76 777.17,254.98 777.29,254.44 777.41,254.59 777.53,254.92 777.65,254.58 777.77,254.94 777.89,254.99 778.01,254.79 778.13,254.84 778.25,254.96 778.37,254.82 778.49,254.93 778.61,254.70 778.73,254.72 778.85,254.58 778.97,254.83 779.09,255.00 779.21,254.98 779.33,254.76 779.45,254.40 779.57,254.50 779.68,254.80 779.80,254.50 779.92,254.92 780.04,254.48 780.16,254.75 780.28,254.51 780.40,254.54 780.52,254.72 780.64,254.60 780.76,254.86 780.88,254.60 781.00,254.37 781.12,253.76 781.24,254.42 781.36,254.52 781.48,254.80 781.60,254.40 781.72,254.91 781.84,254.73 781.96,254.48 782.08,254.73 782.20,254.17 782.32,254.24 782.44,254.53 782.55,254.54 782.67,254.66 782.79,254.62 782.91,254.20 783.03,254.10 783.15,254.08 783.27,254.03 783.39,254.14 783.51,253.88 783.63,254.12 783.75,253.69 783.87,253.28 783.99,253.13 784.11,253.25 784.23,252.98 784.35,252.36 784.47,251.83 784.59,251.81 784.71,250.61 784.83,248.96 784.95,246.36 785.07,243.29 785.19,238.31 785.30,232.78 785.42,226.15 785.54,221.36 785.66,219.05 785.78,220.35 785.90,223.88 786.02,228.19 786.14,231.68 786.26,232.62 786.38,231.93 786.50,228.98 786.62,225.34 786.74,222.07 786.86,220.58 786.98,222.01 787.10,225.58 787.22,230.59 787.34,235.62 787.46,239.64 787.58,241.80 787.70,243.59 787.82,243.96 787.94,243.56 788.06,243.97 788.17,244.94 788.29,246.68 788.41,248.51 788.53,249.88 788.65,250.92 788.77,252.13 788.89,252.82 789.01,253.43 789.13,253.70 789.25,253.56 789.37,253.80 789.49,254.24 789.61,254.34 789.73,254.35 789.85,254.21 789.97,254.62 790.09,254.50 790.21,254.93 790.33,254.78 790.45,254.52 790.57,254.45 790.69,254.85 790.81,254.82 790.92,254.57 791.04,254.80 791.16,254.84 791.28,254.66 791.40,254.73 791.52,254.57 791.64,254.66 791.76,254.94 791.88,254.90 792.00,254.93 792.12,255.17 792.24,255.13 792.36,254.76 792.48,255.24 792.60,254.74 792.72,254.90 792.84,254.96 792.96,254.84 793.08,254.87 793.20,254.74 793.32,255.07 793.44,255.02 793.56,255.04 793.68,254.65 793.79,254.83 793.91,255.20 794.03,255.12 794.15,255.21 794.27,255.04 794.39,255.02 794.51,254.61 794.63,255.40 794.75,254.87 794.87,255.02 794.99,255.23 795.11,255.14 795.23,255.20 795.35,255.11 795.47,254.92 795.59,255.40 795.71,254.85 795.83,255.18 795.95,254.80 796.07,255.02 796.19,254.85 796.31,255.00 796.43,254.92 796.54,255.12 796.66,255.29 796.78,255.00 796.90,255.02 797.02,254.76 797.14,255.53 797.26,255.22 797.38,255.01 797.50,255.40 797.62,255.19 797.74,254.78 797.86,254.88 797.98,255.30 798.10,254.88 798.22,254.94 798.34,255.01 798.46,255.12 798.58,255.17 798.70,255.38 798.82,255.32 798.94,255.07 799.06,255.17 799.18,254.88 799.30,255.31 799.41,255.70 799.53,255.33 799.65,255.21 799.77,255.17 799.89,255.21 800.01,255.39 800.13,254.95 800.25,255.37 800.37,255.11 800.49,255.31 800.61,255.47 800.73,254.99" fill="none" stroke="#111" stroke-width="1.15" stroke-linejoin="round"/>
<text class="gr" transform="translate(586.50,86.30) scale(1.15,1)" text-anchor="middle" font-size="13.20" fill="#ee3a43" stroke="#ee3a43" stroke-width="0.12">α</text>
<text class="gr" transform="translate(592.75,114.92) scale(1.1,1)" text-anchor="middle" font-size="12.10" fill="#1b74c9" stroke="#1b74c9" stroke-width="0.4">β</text>
<text class="gr" transform="translate(540.50,163.80) scale(1.15,1)" text-anchor="middle" font-size="13.20" fill="#ee3a43" stroke="#ee3a43" stroke-width="0.12">α</text>
<text class="gr" transform="translate(556.25,234.08) scale(1.1,1)" text-anchor="middle" font-size="12.20" fill="#b36ae0" stroke="#b36ae0" stroke-width="0.1">φ</text>
<text class="gr" transform="translate(563.75,232.60) scale(1.0,1)" text-anchor="middle" font-size="11.00" fill="#16996b" stroke="#16996b" stroke-width="0.35">γ</text>
<text class="gr" transform="translate(570.50,234.58) scale(1.1,1)" text-anchor="middle" font-size="12.20" fill="#b36ae0" stroke="#b36ae0" stroke-width="0.1">φ</text>
<text class="gr" transform="translate(599.00,205.80) scale(1.15,1)" text-anchor="middle" font-size="13.20" fill="#ee3a43" stroke="#ee3a43" stroke-width="0.12">α</text>
<text class="gr" transform="translate(613.00,241.58) scale(1.1,1)" text-anchor="middle" font-size="12.20" fill="#b36ae0" stroke="#b36ae0" stroke-width="0.1">φ</text>
<text class="gr" transform="translate(620.50,39.17) scale(1.1,1)" text-anchor="middle" font-size="12.10" fill="#1b74c9" stroke="#1b74c9" stroke-width="0.4">β</text>
<text class="gr" transform="translate(626.00,128.05) scale(1.15,1)" text-anchor="middle" font-size="13.20" fill="#ee3a43" stroke="#ee3a43" stroke-width="0.12">α</text>
<text class="gr" transform="translate(658.25,234.35) scale(1.0,1)" text-anchor="middle" font-size="11.00" fill="#16996b" stroke="#16996b" stroke-width="0.35">γ</text>
<text class="gr" transform="translate(658.75,244.58) scale(1.1,1)" text-anchor="middle" font-size="12.20" fill="#b36ae0" stroke="#b36ae0" stroke-width="0.1">φ</text>
<text class="gr" transform="translate(670.50,194.30) scale(1.15,1)" text-anchor="middle" font-size="13.20" fill="#ee3a43" stroke="#ee3a43" stroke-width="0.12">α</text>
<text class="gr" transform="translate(694.00,110.55) scale(1.15,1)" text-anchor="middle" font-size="13.20" fill="#ee3a43" stroke="#ee3a43" stroke-width="0.12">α</text>
<text class="gr" transform="translate(710.00,163.92) scale(1.1,1)" text-anchor="middle" font-size="12.10" fill="#1b74c9" stroke="#1b74c9" stroke-width="0.4">β</text>
<text class="gr" transform="translate(711.25,174.55) scale(1.15,1)" text-anchor="middle" font-size="13.20" fill="#ee3a43" stroke="#ee3a43" stroke-width="0.12">α</text>
<text class="gr" transform="translate(702.50,239.30) scale(1.15,1)" text-anchor="middle" font-size="13.20" fill="#ee3a43" stroke="#ee3a43" stroke-width="0.12">α</text>
<text class="gr" transform="translate(700.50,248.10) scale(1.0,1)" text-anchor="middle" font-size="11.00" fill="#16996b" stroke="#16996b" stroke-width="0.35">γ</text>
<text class="gr" transform="translate(735.75,213.80) scale(1.15,1)" text-anchor="middle" font-size="13.20" fill="#ee3a43" stroke="#ee3a43" stroke-width="0.12">α</text>
<text class="gr" transform="translate(743.25,204.30) scale(1.15,1)" text-anchor="middle" font-size="13.20" fill="#ee3a43" stroke="#ee3a43" stroke-width="0.12">α</text>
<text class="gr" transform="translate(770.00,214.67) scale(1.1,1)" text-anchor="middle" font-size="12.10" fill="#1b74c9" stroke="#1b74c9" stroke-width="0.4">β</text>
<text class="gr" transform="translate(786.75,202.17) scale(1.1,1)" text-anchor="middle" font-size="12.10" fill="#1b74c9" stroke="#1b74c9" stroke-width="0.4">β</text>
<text class="gr" transform="translate(786.75,213.80) scale(1.15,1)" text-anchor="middle" font-size="13.20" fill="#ee3a43" stroke="#ee3a43" stroke-width="0.12">α</text>
<text class="gr" transform="translate(732.90,44.99) scale(1.15,1)" text-anchor="middle" font-size="14.26" fill="#ee3a43" stroke="#ee3a43" stroke-width="0.12">α</text>
<text x="742.00" y="45.80" font-size="14.30" fill="#1a1a1a">Al<tspan font-size="9.17" dy="2.77">2</tspan><tspan dy="-2.77">O</tspan><tspan font-size="9.17" dy="2.77">3</tspan></text>
<text class="gr" transform="translate(732.20,66.96) scale(1.1,1)" text-anchor="middle" font-size="14.52" fill="#1b74c9" stroke="#1b74c9" stroke-width="0.4">β</text>
<text x="741.20" y="67.90" font-size="14.30" fill="#1a1a1a">Ti(C<tspan font-size="9.17" dy="2.77">0.5</tspan><tspan dy="-2.77">,N</tspan><tspan font-size="9.17" dy="2.77">0.5</tspan><tspan dy="-2.77">)</tspan></text>
<text class="gr" transform="translate(731.10,88.12) scale(1.12,1)" text-anchor="middle" font-size="13.20" fill="#16996b" stroke="#16996b" stroke-width="0.35">γ</text>
<text x="738.50" y="90.20" font-size="14.30" fill="#1a1a1a">t-ZrO<tspan font-size="9.17" dy="2.77">2</tspan></text>
<text class="gr" transform="translate(733.10,111.49) scale(1.1,1)" text-anchor="middle" font-size="13.79" fill="#b36ae0" stroke="#b36ae0" stroke-width="0.1">φ</text>
<text x="742.00" y="112.50" font-size="14.30" fill="#1a1a1a">m-ZrO<tspan font-size="9.17" dy="2.77">2</tspan></text>
<text class="gr" x="443.20" y="18.80" font-size="21.30" fill="#1c1c1c">b</text>
<path d="M67.00,338.25V564.25" fill="none" stroke="#4d4d4d" stroke-width="1.20"/>
<path d="M66.40,563.50H347.52" fill="none" stroke="#4d4d4d" stroke-width="1.50"/>
<path d="M62.63,562.50H67.00" stroke="#4d4d4d" stroke-width="1.20"/>
<text x="54.30" y="565.82" textLength="4.95" lengthAdjust="spacingAndGlyphs" font-size="11.23" fill="#242424">0</text>
<path d="M62.63,506.44H67.00" stroke="#4d4d4d" stroke-width="1.20"/>
<text x="30.20" y="510.16" textLength="23.80" lengthAdjust="spacingAndGlyphs" font-size="11.23" fill="#242424">4000</text>
<path d="M62.63,450.37H67.00" stroke="#4d4d4d" stroke-width="1.20"/>
<text x="30.20" y="452.59" textLength="24.00" lengthAdjust="spacingAndGlyphs" font-size="11.23" fill="#242424">8000</text>
<path d="M62.63,394.31H67.00" stroke="#4d4d4d" stroke-width="1.20"/>
<text x="27.50" y="398.52" textLength="31.75" lengthAdjust="spacingAndGlyphs" font-size="11.75" fill="#242424">12,000</text>
<path d="M62.63,338.24H67.00" stroke="#4d4d4d" stroke-width="1.20"/>
<text x="27.50" y="342.45" textLength="31.75" lengthAdjust="spacingAndGlyphs" font-size="11.75" fill="#242424">16,000</text>
<path d="M64.82,534.47H67.00" stroke="#4d4d4d" stroke-width="1.04"/>
<path d="M64.82,478.40H67.00" stroke="#4d4d4d" stroke-width="1.04"/>
<path d="M64.82,422.34H67.00" stroke="#4d4d4d" stroke-width="1.04"/>
<path d="M64.82,366.28H67.00" stroke="#4d4d4d" stroke-width="1.04"/>
<path d="M67.00,563.50v4.37" stroke="#4d4d4d" stroke-width="1.20"/>
<text transform="translate(67.00,580.00) scale(0.95,1)" text-anchor="middle" font-size="11.23" fill="#242424">10</text>
<path d="M87.00,563.50v2.48" stroke="#4d4d4d" stroke-width="1.04"/>
<path d="M107.00,563.50v4.37" stroke="#4d4d4d" stroke-width="1.20"/>
<text transform="translate(107.00,580.00) scale(0.95,1)" text-anchor="middle" font-size="11.23" fill="#242424">20</text>
<path d="M127.00,563.50v2.48" stroke="#4d4d4d" stroke-width="1.04"/>
<path d="M147.00,563.50v4.37" stroke="#4d4d4d" stroke-width="1.20"/>
<text transform="translate(147.00,580.00) scale(0.95,1)" text-anchor="middle" font-size="11.23" fill="#242424">30</text>
<path d="M167.00,563.50v2.48" stroke="#4d4d4d" stroke-width="1.04"/>
<path d="M187.00,563.50v4.37" stroke="#4d4d4d" stroke-width="1.20"/>
<text transform="translate(187.00,580.00) scale(0.95,1)" text-anchor="middle" font-size="11.23" fill="#242424">40</text>
<path d="M207.00,563.50v2.48" stroke="#4d4d4d" stroke-width="1.04"/>
<path d="M227.00,563.50v4.37" stroke="#4d4d4d" stroke-width="1.20"/>
<text transform="translate(227.00,580.00) scale(0.95,1)" text-anchor="middle" font-size="11.23" fill="#242424">50</text>
<path d="M247.00,563.50v2.48" stroke="#4d4d4d" stroke-width="1.04"/>
<path d="M267.00,563.50v4.37" stroke="#4d4d4d" stroke-width="1.20"/>
<text transform="translate(267.00,580.00) scale(0.95,1)" text-anchor="middle" font-size="11.23" fill="#242424">60</text>
<path d="M287.00,563.50v2.48" stroke="#4d4d4d" stroke-width="1.04"/>
<path d="M307.00,563.50v4.37" stroke="#4d4d4d" stroke-width="1.20"/>
<text transform="translate(307.00,580.00) scale(0.95,1)" text-anchor="middle" font-size="11.23" fill="#242424">70</text>
<path d="M327.00,563.50v2.48" stroke="#4d4d4d" stroke-width="1.04"/>
<path d="M347.00,563.50v4.37" stroke="#4d4d4d" stroke-width="1.20"/>
<text transform="translate(347.00,580.00) scale(0.95,1)" text-anchor="middle" font-size="11.23" fill="#242424">80</text>
<text x="207.00" y="601.50" text-anchor="middle" font-size="13.10" fill="#242424" stroke="#242424" stroke-width="0.08">2θ [<tspan font-size="8.53" dy="-4.26">o</tspan><tspan dy="4.26">]</tspan></text>
<text transform="translate(21.00,446.20) rotate(-90)" text-anchor="middle" font-size="13.10" fill="#242424" stroke="#242424" stroke-width="0.08">I<tspan font-size="8.84" dy="2.70">0</tspan><tspan dy="-2.70"> [-]</tspan></text>
<polyline points="67.00,538.72 67.10,538.07 67.20,537.53 67.30,537.74 67.40,537.28 67.50,537.53 67.60,537.62 67.70,536.63 67.80,537.53 67.90,537.48 68.00,537.84 68.10,537.67 68.20,537.11 68.30,537.10 68.40,537.25 68.50,537.55 68.60,537.02 68.70,537.91 68.80,537.37 68.90,537.33 69.00,537.51 69.10,537.11 69.20,537.35 69.30,537.34 69.40,536.29 69.50,536.65 69.60,536.41 69.70,536.85 69.80,536.47 69.90,536.48 70.00,536.30 70.10,535.85 70.20,536.83 70.30,536.74 70.40,536.93 70.50,538.23 70.60,537.38 70.70,536.83 70.80,536.45 70.90,536.82 71.00,536.15 71.10,536.05 71.20,536.61 71.30,535.90 71.40,535.81 71.50,536.23 71.60,536.80 71.70,535.89 71.80,536.50 71.90,536.55 72.00,536.35 72.10,536.55 72.20,535.86 72.30,535.94 72.40,535.76 72.50,536.02 72.60,536.52 72.70,536.30 72.80,535.82 72.90,536.29 73.00,534.99 73.10,536.19 73.20,536.28 73.30,535.67 73.40,535.81 73.50,536.07 73.60,536.14 73.70,535.87 73.80,535.71 73.90,535.71 74.00,536.10 74.10,535.80 74.20,535.73 74.30,535.77 74.40,537.29 74.50,536.45 74.60,536.42 74.70,536.09 74.80,535.89 74.90,535.58 75.00,535.68 75.10,535.93 75.20,535.90 75.30,535.23 75.40,536.11 75.50,535.74 75.60,535.34 75.70,535.79 75.80,536.74 75.90,535.84 76.00,536.12 76.10,535.94 76.20,535.51 76.30,535.70 76.40,535.98 76.50,535.55 76.60,535.74 76.70,535.86 76.80,535.82 76.90,535.87 77.00,536.11 77.10,536.19 77.20,536.05 77.30,536.40 77.40,536.52 77.50,535.53 77.60,536.12 77.70,536.02 77.80,536.10 77.90,536.05 78.00,536.08 78.10,536.05 78.20,536.42 78.30,535.74 78.40,536.43 78.50,535.78 78.60,536.94 78.70,536.61 78.80,535.87 78.90,536.27 79.00,536.49 79.10,536.12 79.20,536.74 79.30,536.32 79.40,537.25 79.50,536.54 79.60,536.61 79.70,536.14 79.80,535.97 79.90,536.65 80.00,535.79 80.10,536.74 80.20,537.26 80.30,537.44 80.40,535.95 80.50,536.56 80.60,536.77 80.70,536.83 80.80,536.98 80.90,536.00 81.00,536.55 81.10,535.88 81.20,536.68 81.30,537.53 81.40,536.38 81.50,536.82 81.60,536.73 81.70,536.06 81.80,536.77 81.90,536.26 82.00,536.75 82.10,537.07 82.20,536.60 82.30,537.02 82.40,536.33 82.50,536.45 82.60,536.78 82.70,536.63 82.80,536.67 82.90,537.02 83.00,536.59 83.10,537.08 83.20,536.77 83.30,537.40 83.40,537.04 83.50,536.96 83.60,537.43 83.70,537.29 83.80,537.39 83.90,536.90 84.00,537.42 84.10,536.98 84.20,536.65 84.30,537.09 84.40,537.84 84.50,537.25 84.60,536.90 84.70,537.37 84.80,536.85 84.90,537.09 85.00,537.19 85.10,537.50 85.20,537.63 85.30,537.55 85.40,537.43 85.50,537.27 85.60,537.32 85.70,537.61 85.80,537.54 85.90,537.47 86.00,538.26 86.10,537.96 86.20,538.01 86.30,537.77 86.40,537.81 86.50,537.79 86.60,538.03 86.70,537.50 86.80,537.66 86.90,538.40 87.00,537.77 87.10,538.23 87.20,537.16 87.30,537.98 87.40,537.95 87.50,537.84 87.60,537.91 87.70,537.86 87.80,537.25 87.90,537.73 88.00,537.54 88.10,537.45 88.20,538.24 88.30,537.25 88.40,537.69 88.50,537.57 88.60,538.29 88.70,537.71 88.80,537.84 88.90,538.18 89.00,537.17 89.10,537.83 89.20,538.11 89.30,537.99 89.40,537.74 89.50,537.63 89.60,537.82 89.70,537.65 89.80,537.61 89.90,538.67 90.00,538.43 90.10,538.61 90.20,538.20 90.30,537.72 90.40,538.02 90.50,538.64 90.60,538.42 90.70,537.96 90.80,538.52 90.90,538.41 91.00,538.28 91.10,539.06 91.20,538.09 91.30,538.30 91.40,538.20 91.50,538.82 91.60,538.76 91.70,538.72 91.80,538.39 91.90,538.41 92.00,538.36 92.10,537.78 92.20,537.99 92.30,538.71 92.40,538.75 92.50,537.88 92.60,538.59 92.70,537.97 92.80,537.95 92.90,538.73 93.00,538.70 93.10,538.64 93.20,538.99 93.30,539.01 93.40,538.81 93.50,538.33 93.60,538.79 93.70,538.71 93.80,538.76 93.90,539.07 94.00,537.92 94.10,539.12 94.20,538.24 94.30,537.45 94.40,537.67 94.50,536.56 94.60,536.10 94.70,536.90 94.80,536.79 94.90,537.71 95.00,537.51 95.10,538.01 95.20,538.21 95.30,537.98 95.40,538.43 95.50,538.24 95.60,538.60 95.70,539.31 95.80,538.88 95.90,538.81 96.00,539.52 96.10,538.53 96.20,539.04 96.30,538.92 96.40,539.43 96.50,539.10 96.60,539.05 96.70,539.32 96.80,539.16 96.90,540.01 97.00,538.81 97.10,539.75 97.20,540.13 97.30,539.72 97.40,539.68 97.50,539.14 97.60,539.69 97.70,539.19 97.80,539.66 97.90,538.46 98.00,539.11 98.10,538.57 98.20,539.74 98.30,539.15 98.40,539.78 98.50,539.26 98.60,539.28 98.70,540.12 98.80,540.02 98.90,540.08 99.00,540.21 99.10,539.95 99.20,540.02 99.30,540.16 99.40,539.63 99.50,539.48 99.60,540.13 99.70,539.88 99.80,539.72 99.90,539.77 100.00,539.92 100.10,539.38 100.20,539.38 100.30,539.39 100.40,539.70 100.50,538.96 100.60,539.08 100.70,539.83 100.80,539.81 100.90,539.39 101.00,540.11 101.10,539.71 101.20,539.89 101.30,540.19 101.40,540.06 101.50,540.60 101.60,540.18 101.70,540.67 101.80,539.09 101.90,539.36 102.00,539.40 102.10,539.78 102.20,539.55 102.30,539.48 102.40,539.61 102.50,539.68 102.60,540.39 102.70,539.98 102.80,540.39 102.90,540.60 103.00,540.59 103.10,540.06 103.20,539.79 103.30,540.60 103.40,539.53 103.50,539.68 103.60,540.32 103.70,540.38 103.80,540.30 103.90,539.96 104.00,540.44 104.10,540.76 104.20,540.28 104.30,541.12 104.40,540.32 104.50,539.96 104.60,540.22 104.70,540.05 104.80,540.20 104.90,540.16 105.00,540.40 105.10,540.78 105.20,540.57 105.30,540.50 105.40,540.02 105.50,539.92 105.60,540.38 105.70,540.84 105.80,540.86 105.90,540.69 106.00,540.13 106.10,540.53 106.20,540.66 106.30,540.95 106.40,540.40 106.50,540.63 106.60,540.71 106.70,540.70 106.80,540.13 106.90,540.77 107.00,540.14 107.10,540.34 107.20,540.77 107.30,540.56 107.40,540.97 107.50,541.26 107.60,541.10 107.70,541.34 107.80,540.83 107.90,541.00 108.00,540.88 108.10,540.82 108.20,542.26 108.30,541.10 108.40,541.90 108.50,541.16 108.60,541.52 108.70,541.20 108.80,540.79 108.90,541.86 109.00,541.27 109.10,541.41 109.20,542.02 109.30,541.18 109.40,541.43 109.50,541.53 109.60,541.65 109.70,540.36 109.80,541.64 109.90,542.14 110.00,541.95 110.10,541.77 110.20,541.79 110.30,541.68 110.40,542.04 110.50,541.54 110.60,541.94 110.70,542.25 110.80,542.08 110.90,541.94 111.00,541.52 111.10,541.65 111.20,541.94 111.30,541.82 111.40,541.80 111.50,541.19 111.60,542.11 111.70,541.79 111.80,541.77 111.90,542.35 112.00,542.01 112.10,542.05 112.20,542.24 112.30,541.89 112.40,541.77 112.50,541.75 112.60,542.18 112.70,542.13 112.80,541.44 112.90,542.62 113.00,542.20 113.10,542.03 113.20,542.28 113.30,542.13 113.40,542.31 113.50,542.15 113.60,542.00 113.70,542.54 113.80,542.46 113.90,542.60 114.00,542.76 114.10,542.65 114.20,543.01 114.30,542.36 114.40,542.03 114.50,542.06 114.60,542.21 114.70,543.04 114.80,542.28 114.90,543.04 115.00,542.85 115.10,542.25 115.20,543.23 115.30,542.62 115.40,542.90 115.50,543.04 115.60,543.33 115.70,542.91 115.80,543.20 115.90,542.74 116.00,542.73 116.10,543.62 116.20,543.40 116.30,543.42 116.40,543.70 116.50,543.70 116.60,543.36 116.70,543.47 116.80,543.94 116.90,543.63 117.00,543.32 117.10,543.84 117.20,543.74 117.30,542.99 117.40,543.11 117.50,544.07 117.60,544.07 117.70,543.57 117.80,544.08 117.90,543.76 118.00,543.92 118.10,543.63 118.20,544.69 118.30,544.58 118.40,544.31 118.50,543.59 118.60,543.93 118.70,544.43 118.80,543.77 118.90,543.73 119.00,544.02 119.10,544.06 119.20,543.85 119.30,543.61 119.40,543.97 119.50,543.90 119.60,544.16 119.70,544.29 119.80,544.51 119.90,544.16 120.00,544.34 120.10,544.32 120.20,543.96 120.30,544.15 120.40,544.04 120.50,544.89 120.60,544.26 120.70,544.69 120.80,544.73 120.90,544.76 121.00,544.13 121.10,544.29 121.20,544.79 121.30,544.99 121.40,544.63 121.50,544.82 121.60,544.19 121.70,545.22 121.80,545.35 121.90,544.91 122.00,544.81 122.10,544.71 122.20,544.55 122.30,544.17 122.40,545.00 122.50,545.10 122.60,545.54 122.70,544.93 122.80,544.73 122.90,545.07 123.00,544.61 123.10,545.01 123.20,544.59 123.30,545.03 123.40,545.52 123.50,545.48 123.60,545.79 123.70,545.84 123.80,545.18 123.90,544.99 124.00,544.65 124.10,545.33 124.20,545.41 124.30,545.74 124.40,545.12 124.50,545.31 124.60,545.61 124.70,545.29 124.80,545.35 124.90,546.11 125.00,545.35 125.10,545.58 125.20,545.69 125.30,545.70 125.40,545.02 125.50,545.12 125.60,545.05 125.70,546.01 125.80,545.93 125.90,545.52 126.00,546.20 126.10,546.01 126.20,546.36 126.30,545.22 126.40,545.45 126.50,545.62 126.60,545.75 126.70,545.96 126.80,545.98 126.90,545.65 127.00,546.06 127.10,545.47 127.20,545.97 127.30,546.06 127.40,545.39 127.50,545.80 127.60,545.57 127.70,545.83 127.80,546.35 127.90,545.40 128.00,545.89 128.10,545.00 128.20,545.61 128.30,545.41 128.40,544.42 128.50,543.88 128.60,543.18 128.70,542.38 128.80,539.23 128.90,534.09 129.00,521.39 129.10,501.28 129.20,480.43 129.30,476.20 129.40,487.53 129.50,500.53 129.60,515.31 129.70,528.66 129.80,536.68 129.90,540.86 130.00,543.08 130.10,543.89 130.20,545.21 130.30,544.88 130.40,545.25 130.50,545.75 130.60,546.34 130.70,546.11 130.80,546.41 130.90,546.16 131.00,546.46 131.10,546.27 131.20,546.75 131.30,546.28 131.40,547.46 131.50,547.15 131.60,546.77 131.70,547.39 131.80,546.75 131.90,547.40 132.00,547.03 132.10,547.38 132.20,547.25 132.30,547.12 132.40,547.17 132.50,547.27 132.60,546.58 132.70,547.22 132.80,547.51 132.90,547.00 133.00,547.03 133.10,546.94 133.20,546.79 133.30,547.61 133.40,547.07 133.50,547.11 133.60,547.50 133.70,547.48 133.80,548.44 133.90,547.79 134.00,547.14 134.10,548.14 134.20,547.77 134.30,547.56 134.40,547.49 134.50,547.20 134.60,548.19 134.70,547.72 134.80,547.54 134.90,548.11 135.00,547.74 135.10,547.21 135.20,547.42 135.30,547.66 135.40,548.61 135.50,547.95 135.60,547.83 135.70,547.94 135.80,547.88 135.90,547.02 136.00,547.98 136.10,548.21 136.20,547.95 136.30,548.12 136.40,548.10 136.50,548.05 136.60,547.84 136.70,548.00 136.80,548.42 136.90,548.15 137.00,547.97 137.10,548.22 137.20,547.79 137.30,547.91 137.40,548.38 137.50,548.01 137.60,547.57 137.70,547.66 137.80,548.16 137.90,547.96 138.00,548.44 138.10,548.66 138.20,548.11 138.30,548.20 138.40,548.10 138.50,548.28 138.60,548.18 138.70,548.42 138.80,548.15 138.90,548.04 139.00,548.32 139.10,548.09 139.20,548.80 139.30,548.47 139.40,547.82 139.50,547.64 139.60,547.98 139.70,547.93 139.80,548.03 139.90,547.27 140.00,546.76 140.10,547.00 140.20,546.20 140.30,546.25 140.40,546.42 140.50,547.20 140.60,547.07 140.70,548.00 140.80,547.47 140.90,548.06 141.00,548.55 141.10,548.00 141.20,548.10 141.30,548.66 141.40,547.92 141.50,548.85 141.60,548.54 141.70,548.35 141.80,549.32 141.90,548.43 142.00,548.79 142.10,548.74 142.20,549.09 142.30,548.73 142.40,549.16 142.50,549.14 142.60,548.99 142.70,549.22 142.80,548.45 142.90,549.27 143.00,549.10 143.10,549.01 143.20,548.89 143.30,548.68 143.40,548.69 143.50,549.01 143.60,549.04 143.70,548.94 143.80,548.74 143.90,548.82 144.00,549.13 144.10,549.56 144.20,548.42 144.30,548.75 144.40,548.92 144.50,548.97 144.60,549.24 144.70,549.39 144.80,549.23 144.90,549.23 145.00,549.34 145.10,549.56 145.20,549.26 145.30,549.01 145.40,549.32 145.50,549.19 145.60,549.78 145.70,549.29 145.80,549.30 145.90,549.56 146.00,549.71 146.10,549.11 146.20,549.43 146.30,549.03 146.40,549.28 146.50,549.00 146.60,549.26 146.70,549.55 146.80,549.13 146.90,549.16 147.00,548.82 147.10,549.02 147.20,548.87 147.30,548.35 147.40,547.93 147.50,547.43 147.60,546.21 147.70,544.42 147.80,541.50 147.90,538.31 148.00,536.39 148.10,536.71 148.20,538.35 148.30,539.79 148.40,542.73 148.50,544.95 148.60,546.67 148.70,547.72 148.80,548.36 148.90,549.11 149.00,549.60 149.10,549.14 149.20,549.73 149.30,549.25 149.40,549.32 149.50,549.07 149.60,548.99 149.70,549.40 149.80,549.72 149.90,549.95 150.00,549.92 150.10,549.71 150.20,550.27 150.30,549.69 150.40,549.74 150.50,549.55 150.60,549.84 150.70,549.75 150.80,550.03 150.90,549.96 151.00,550.30 151.10,549.79 151.20,549.41 151.30,549.77 151.40,549.70 151.50,550.11 151.60,549.47 151.70,550.06 151.80,549.64 151.90,549.83 152.00,550.09 152.10,549.56 152.20,549.78 152.30,549.66 152.40,549.51 152.50,549.48 152.60,549.40 152.70,548.95 152.80,548.94 152.90,548.62 153.00,548.70 153.10,548.91 153.20,548.80 153.30,548.91 153.40,549.00 153.50,548.92 153.60,549.94 153.70,549.68 153.80,550.48 153.90,550.30 154.00,550.28 154.10,550.77 154.20,550.69 154.30,550.19 154.40,550.22 154.50,550.22 154.60,550.43 154.70,549.69 154.80,550.28 154.90,550.46 155.00,549.85 155.10,550.13 155.20,550.38 155.30,550.01 155.40,550.30 155.50,550.20 155.60,550.32 155.70,550.66 155.80,550.18 155.90,550.43 156.00,550.71 156.10,550.68 156.20,550.25 156.30,550.58 156.40,550.46 156.50,550.36 156.60,550.49 156.70,550.92 156.80,550.37 156.90,550.27 157.00,550.27 157.10,550.09 157.20,550.41 157.30,550.34 157.40,550.14 157.50,550.61 157.60,550.10 157.70,550.10 157.80,550.34 157.90,550.13 158.00,550.40 158.10,550.87 158.20,550.38 158.30,550.62 158.40,550.57 158.50,550.66 158.60,550.37 158.70,550.59 158.80,550.91 158.90,550.66 159.00,550.62 159.10,551.00 159.20,550.96 159.30,550.96 159.40,551.00 159.50,550.72 159.60,550.54 159.70,550.29 159.80,550.47 159.90,550.52 160.00,550.54 160.10,550.51 160.20,550.97 160.30,550.72 160.40,550.86 160.50,550.99 160.60,551.10 160.70,551.15 160.80,551.08 160.90,551.33 161.00,550.88 161.10,551.02 161.20,550.96 161.30,550.93 161.40,550.85 161.50,551.22 161.60,551.15 161.70,551.58 161.80,551.71 161.90,551.67 162.00,550.77 162.10,551.56 162.20,550.96 162.30,550.72 162.40,551.15 162.50,550.62 162.60,550.56 162.70,550.78 162.80,550.46 162.90,550.93 163.00,551.30 163.10,551.05 163.20,551.33 163.30,551.50 163.40,551.51 163.50,550.61 163.60,551.32 163.70,551.17 163.80,551.37 163.90,551.17 164.00,551.28 164.10,551.34 164.20,551.55 164.30,551.59 164.40,551.38 164.50,551.07 164.60,550.57 164.70,550.79 164.80,550.60 164.90,550.97 165.00,551.12 165.10,551.48 165.20,551.14 165.30,551.62 165.40,551.11 165.50,550.58 165.60,550.83 165.70,550.61 165.80,550.97 165.90,551.17 166.00,550.87 166.10,550.73 166.20,550.23 166.30,549.93 166.40,550.46 166.50,550.23 166.60,550.03 166.70,549.82 166.80,549.73 166.90,549.00 167.00,548.45 167.10,547.77 167.20,547.31 167.30,545.77 167.40,544.23 167.50,539.91 167.60,532.46 167.70,515.27 167.80,485.11 167.90,445.96 168.00,421.19 168.10,432.17 168.20,454.41 168.30,470.31 168.40,484.83 168.50,503.98 168.60,522.38 168.70,534.32 168.80,541.23 168.90,544.34 169.00,546.32 169.10,547.45 169.20,548.35 169.30,548.82 169.40,549.03 169.50,550.16 169.60,549.96 169.70,550.29 169.80,550.38 169.90,550.94 170.00,550.39 170.10,550.87 170.20,550.78 170.30,550.93 170.40,551.27 170.50,551.02 170.60,551.37 170.70,551.14 170.80,550.97 170.90,550.86 171.00,550.77 171.10,550.77 171.20,550.19 171.30,550.55 171.40,550.87 171.50,550.66 171.60,550.56 171.70,550.28 171.80,550.16 171.90,549.97 172.00,549.06 172.10,549.06 172.20,548.65 172.30,547.99 172.40,547.10 172.50,545.41 172.60,543.58 172.70,539.52 172.80,533.08 172.90,518.83 173.00,497.96 173.10,471.91 173.20,450.87 173.30,447.36 173.40,458.29 173.50,472.71 173.60,485.94 173.70,500.12 173.80,514.67 173.90,527.05 174.00,535.91 174.10,541.92 174.20,544.30 174.30,547.07 174.40,547.91 174.50,549.03 174.60,548.90 174.70,549.54 174.80,549.76 174.90,550.25 175.00,550.56 175.10,550.69 175.20,551.33 175.30,550.79 175.40,550.92 175.50,551.30 175.60,551.29 175.70,551.29 175.80,551.05 175.90,551.38 176.00,551.55 176.10,551.75 176.20,552.03 176.30,551.84 176.40,551.69 176.50,551.74 176.60,551.65 176.70,551.48 176.80,551.52 176.90,551.53 177.00,551.40 177.10,551.45 177.20,551.43 177.30,551.17 177.40,551.53 177.50,550.53 177.60,550.69 177.70,549.29 177.80,547.64 177.90,543.35 178.00,536.44 178.10,527.43 178.20,521.26 178.30,524.40 178.40,530.19 178.50,533.69 178.60,535.91 178.70,539.97 178.80,544.48 178.90,548.15 179.00,549.77 179.10,550.63 179.20,550.72 179.30,551.33 179.40,551.65 179.50,551.52 179.60,551.96 179.70,552.05 179.80,552.09 179.90,552.54 180.00,552.02 180.10,552.21 180.20,552.39 180.30,552.62 180.40,552.35 180.50,552.11 180.60,552.60 180.70,552.75 180.80,552.48 180.90,552.97 181.00,553.13 181.10,552.74 181.20,552.80 181.30,552.68 181.40,552.75 181.50,552.56 181.60,552.71 181.70,552.79 181.80,552.76 181.90,552.50 182.00,552.41 182.10,552.48 182.20,552.57 182.30,553.53 182.40,553.02 182.50,552.90 182.60,552.72 182.70,553.13 182.80,552.44 182.90,552.71 183.00,552.92 183.10,552.78 183.20,552.90 183.30,553.00 183.40,552.74 183.50,552.98 183.60,553.20 183.70,553.05 183.80,552.91 183.90,553.14 184.00,552.57 184.10,553.11 184.20,552.45 184.30,552.68 184.40,553.07 184.50,552.86 184.60,552.66 184.70,552.97 184.80,553.18 184.90,552.93 185.00,552.49 185.10,553.28 185.20,552.82 185.30,552.99 185.40,553.00 185.50,553.07 185.60,553.05 185.70,552.75 185.80,552.83 185.90,553.22 186.00,552.64 186.10,553.31 186.20,552.83 186.30,552.97 186.40,552.70 186.50,552.91 186.60,552.75 186.70,553.01 186.80,552.76 186.90,552.94 187.00,552.51 187.10,553.17 187.20,552.75 187.30,552.96 187.40,553.01 187.50,553.23 187.60,553.03 187.70,553.47 187.80,553.46 187.90,552.97 188.00,553.48 188.10,552.77 188.20,553.18 188.30,553.03 188.40,553.10 188.50,553.03 188.60,553.19 188.70,553.20 188.80,553.14 188.90,552.85 189.00,552.82 189.10,552.79 189.20,553.04 189.30,553.18 189.40,553.53 189.50,553.01 189.60,552.95 189.70,553.19 189.80,552.93 189.90,552.81 190.00,553.08 190.10,552.90 190.20,553.09 190.30,553.56 190.40,553.29 190.50,553.29 190.60,553.05 190.70,553.38 190.80,553.27 190.90,553.40 191.00,553.16 191.10,553.11 191.20,552.89 191.30,552.92 191.40,553.06 191.50,553.05 191.60,553.06 191.70,553.10 191.80,552.77 191.90,553.68 192.00,553.13 192.10,553.05 192.20,552.81 192.30,553.29 192.40,552.97 192.50,552.89 192.60,553.16 192.70,553.50 192.80,553.14 192.90,553.31 193.00,552.82 193.10,553.13 193.20,552.51 193.30,552.88 193.40,553.07 193.50,552.99 193.60,553.07 193.70,552.70 193.80,552.39 193.90,552.73 194.00,552.43 194.10,552.78 194.20,552.46 194.30,551.94 194.40,552.67 194.50,552.03 194.60,552.01 194.70,552.59 194.80,552.37 194.90,552.16 195.00,551.54 195.10,551.65 195.20,551.37 195.30,550.94 195.40,550.78 195.50,550.40 195.60,550.13 195.70,549.28 195.80,549.10 195.90,547.78 196.00,547.24 196.10,546.01 196.20,543.93 196.30,541.22 196.40,537.02 196.50,527.50 196.60,510.75 196.70,481.60 196.80,439.95 196.90,395.54 197.00,369.59 197.10,379.49 197.20,405.89 197.30,428.79 197.40,444.46 197.50,462.19 197.60,484.74 197.70,506.00 197.80,522.50 197.90,533.16 198.00,539.78 198.10,543.44 198.20,545.55 198.30,547.04 198.40,547.93 198.50,548.58 198.60,549.19 198.70,549.96 198.80,550.60 198.90,550.73 199.00,550.71 199.10,551.46 199.20,551.13 199.30,551.03 199.40,551.23 199.50,551.32 199.60,550.64 199.70,550.59 199.80,550.76 199.90,550.21 200.00,549.85 200.10,549.91 200.20,548.40 200.30,548.22 200.40,546.45 200.50,543.63 200.60,536.60 200.70,522.35 200.80,496.21 200.90,462.94 201.00,443.68 201.10,456.81 201.20,480.20 201.30,493.85 201.40,496.28 201.50,502.64 201.60,516.44 201.70,530.46 201.80,540.08 201.90,545.46 202.00,548.28 202.10,549.64 202.20,550.30 202.30,551.03 202.40,551.72 202.50,551.98 202.60,552.25 202.70,552.32 202.80,552.46 202.90,552.63 203.00,552.94 203.10,552.96 203.20,553.36 203.30,553.79 203.40,553.26 203.50,553.68 203.60,553.54 203.70,553.66 203.80,553.28 203.90,553.72 204.00,553.44 204.10,553.68 204.20,553.85 204.30,553.96 204.40,553.52 204.50,553.52 204.60,553.44 204.70,553.23 204.80,553.61 204.90,553.64 205.00,553.78 205.10,553.76 205.20,553.86 205.30,554.02 205.40,553.40 205.50,554.25 205.60,553.79 205.70,553.80 205.80,553.86 205.90,554.12 206.00,553.99 206.10,554.07 206.20,554.20 206.30,554.00 206.40,554.07 206.50,554.11 206.60,553.85 206.70,554.24 206.80,553.91 206.90,554.16 207.00,553.92 207.10,554.03 207.20,554.01 207.30,554.30 207.40,554.26 207.50,554.28 207.60,554.04 207.70,553.92 207.80,553.84 207.90,554.21 208.00,554.14 208.10,554.54 208.20,554.68 208.30,554.42 208.40,554.39 208.50,554.55 208.60,554.60 208.70,554.12 208.80,554.36 208.90,554.53 209.00,553.69 209.10,554.14 209.20,554.23 209.30,554.04 209.40,554.38 209.50,553.89 209.60,554.58 209.70,554.54 209.80,554.30 209.90,554.44 210.00,553.97 210.10,554.62 210.20,554.41 210.30,554.22 210.40,554.13 210.50,554.00 210.60,554.15 210.70,553.77 210.80,554.35 210.90,554.22 211.00,554.12 211.10,554.37 211.20,554.39 211.30,554.46 211.40,554.50 211.50,554.63 211.60,554.50 211.70,554.73 211.80,554.28 211.90,554.67 212.00,553.86 212.10,553.95 212.20,554.07 212.30,554.37 212.40,554.47 212.50,554.10 212.60,554.33 212.70,554.24 212.80,554.54 212.90,554.17 213.00,554.60 213.10,554.41 213.20,554.82 213.30,554.59 213.40,554.35 213.50,554.52 213.60,554.52 213.70,554.25 213.80,554.47 213.90,554.18 214.00,554.96 214.10,554.36 214.20,554.41 214.30,554.80 214.40,554.78 214.50,554.34 214.60,554.72 214.70,554.62 214.80,554.37 214.90,554.57 215.00,554.39 215.10,554.67 215.20,554.42 215.30,554.30 215.40,554.44 215.50,554.98 215.60,554.41 215.70,554.53 215.80,554.73 215.90,554.23 216.00,554.91 216.10,554.11 216.20,554.66 216.30,554.20 216.40,554.57 216.50,554.83 216.60,554.55 216.70,554.49 216.80,554.44 216.90,554.33 217.00,554.74 217.10,554.46 217.20,554.44 217.30,554.66 217.40,554.80 217.50,554.81 217.60,554.46 217.70,554.46 217.80,554.78 217.90,554.92 218.00,554.39 218.10,554.98 218.20,554.63 218.30,554.85 218.40,555.04 218.50,554.63 218.60,554.66 218.70,554.30 218.80,554.11 218.90,554.62 219.00,554.39 219.10,554.44 219.20,554.75 219.30,554.84 219.40,554.34 219.50,554.76 219.60,554.68 219.70,554.77 219.80,554.72 219.90,554.81 220.00,554.53 220.10,554.44 220.20,554.78 220.30,555.03 220.40,554.76 220.50,555.06 220.60,554.84 220.70,554.44 220.80,554.21 220.90,554.60 221.00,554.96 221.10,554.62 221.20,555.24 221.30,554.89 221.40,554.46 221.50,554.62 221.60,555.05 221.70,555.13 221.80,554.63 221.90,554.80 222.00,554.90 222.10,554.73 222.20,554.93 222.30,555.21 222.40,554.67 222.50,554.98 222.60,555.03 222.70,555.13 222.80,554.78 222.90,554.99 223.00,554.67 223.10,554.86 223.20,554.59 223.30,554.93 223.40,555.00 223.50,555.28 223.60,555.06 223.70,554.69 223.80,554.20 223.90,555.07 224.00,555.03 224.10,554.80 224.20,554.76 224.30,555.01 224.40,554.86 224.50,555.21 224.60,554.91 224.70,554.67 224.80,554.50 224.90,554.86 225.00,554.88 225.10,554.75 225.20,554.62 225.30,554.74 225.40,554.99 225.50,554.79 225.60,554.69 225.70,555.01 225.80,555.14 225.90,554.76 226.00,554.77 226.10,554.63 226.20,554.82 226.30,554.98 226.40,554.96 226.50,555.07 226.60,555.04 226.70,554.91 226.80,554.87 226.90,554.48 227.00,554.89 227.10,554.50 227.20,554.43 227.30,553.70 227.40,553.51 227.50,553.08 227.60,552.24 227.70,551.81 227.80,551.60 227.90,551.22 228.00,551.66 228.10,551.78 228.20,552.23 228.30,552.62 228.40,553.08 228.50,553.69 228.60,553.66 228.70,554.09 228.80,554.19 228.90,554.52 229.00,554.76 229.10,554.89 229.20,554.58 229.30,554.46 229.40,554.75 229.50,554.59 229.60,554.35 229.70,554.70 229.80,554.42 229.90,554.36 230.00,553.63 230.10,553.60 230.20,553.61 230.30,553.88 230.40,553.72 230.50,553.63 230.60,554.00 230.70,554.17 230.80,554.10 230.90,554.62 231.00,554.51 231.10,554.55 231.20,554.91 231.30,555.00 231.40,554.85 231.50,554.95 231.60,554.99 231.70,554.93 231.80,554.95 231.90,555.18 232.00,555.12 232.10,554.89 232.20,554.75 232.30,554.69 232.40,555.14 232.50,554.76 232.60,554.84 232.70,554.98 232.80,554.87 232.90,554.82 233.00,554.62 233.10,555.21 233.20,554.89 233.30,555.04 233.40,555.03 233.50,554.78 233.60,554.84 233.70,555.21 233.80,555.09 233.90,554.98 234.00,555.30 234.10,554.83 234.20,555.01 234.30,554.91 234.40,554.88 234.50,554.58 234.60,554.90 234.70,554.98 234.80,554.58 234.90,555.04 235.00,555.00 235.10,555.18 235.20,554.65 235.30,554.77 235.40,554.69 235.50,554.74 235.60,554.77 235.70,554.85 235.80,554.80 235.90,554.46 236.00,554.44 236.10,554.03 236.20,554.40 236.30,554.17 236.40,554.10 236.50,553.33 236.60,553.45 236.70,552.49 236.80,551.46 236.90,550.03 237.00,546.23 237.10,539.96 237.20,528.86 237.30,516.78 237.40,509.79 237.50,514.80 237.60,524.90 237.70,531.61 237.80,533.74 237.90,533.19 238.00,534.32 238.10,539.04 238.20,544.16 238.30,547.91 238.40,551.12 238.50,552.34 238.60,553.33 238.70,553.49 238.80,553.89 238.90,554.24 239.00,554.71 239.10,554.59 239.20,554.34 239.30,554.70 239.40,554.62 239.50,554.91 239.60,555.23 239.70,554.83 239.80,554.89 239.90,555.07 240.00,555.08 240.10,554.97 240.20,555.16 240.30,555.03 240.40,555.16 240.50,555.61 240.60,555.20 240.70,555.29 240.80,555.33 240.90,555.09 241.00,555.25 241.10,555.05 241.20,554.97 241.30,555.17 241.40,555.51 241.50,555.38 241.60,555.07 241.70,555.29 241.80,555.39 241.90,555.26 242.00,555.14 242.10,555.20 242.20,555.13 242.30,555.44 242.40,555.33 242.50,555.37 242.60,555.32 242.70,555.75 242.80,555.37 242.90,555.57 243.00,554.98 243.10,554.94 243.20,554.91 243.30,555.09 243.40,555.38 243.50,555.11 243.60,555.36 243.70,555.21 243.80,555.52 243.90,555.43 244.00,555.23 244.10,554.94 244.20,555.25 244.30,554.83 244.40,554.75 244.50,555.57 244.60,555.36 244.70,555.59 244.80,555.41 244.90,555.48 245.00,555.36 245.10,555.16 245.20,555.16 245.30,555.29 245.40,555.36 245.50,555.34 245.60,555.34 245.70,555.25 245.80,555.39 245.90,555.28 246.00,555.63 246.10,555.21 246.20,555.05 246.30,555.32 246.40,555.66 246.50,555.17 246.60,555.51 246.70,556.01 246.80,555.48 246.90,555.30 247.00,555.30 247.10,555.12 247.20,555.28 247.30,555.40 247.40,555.83 247.50,555.66 247.60,555.42 247.70,555.31 247.80,555.62 247.90,555.57 248.00,555.39 248.10,555.85 248.20,555.85 248.30,555.52 248.40,555.43 248.50,555.55 248.60,555.93 248.70,555.46 248.80,555.73 248.90,555.30 249.00,555.44 249.10,555.36 249.20,555.28 249.30,555.50 249.40,555.23 249.50,555.14 249.60,555.30 249.70,555.12 249.80,555.52 249.90,555.23 250.00,555.37 250.10,555.62 250.20,555.46 250.30,555.55 250.40,555.53 250.50,555.40 250.60,555.20 250.70,555.48 250.80,555.39 250.90,555.70 251.00,555.38 251.10,555.16 251.20,555.22 251.30,555.29 251.40,555.50 251.50,555.62 251.60,555.46 251.70,555.69 251.80,555.66 251.90,555.20 252.00,555.57 252.10,555.01 252.20,555.66 252.30,555.28 252.40,555.62 252.50,555.33 252.60,555.57 252.70,555.34 252.80,555.37 252.90,555.39 253.00,555.20 253.10,554.98 253.20,555.37 253.30,555.08 253.40,555.21 253.50,555.24 253.60,554.81 253.70,555.68 253.80,555.37 253.90,555.60 254.00,555.21 254.10,555.15 254.20,554.29 254.30,554.92 254.40,554.60 254.50,554.71 254.60,554.99 254.70,554.79 254.80,554.52 254.90,554.74 255.00,554.70 255.10,554.60 255.20,554.90 255.30,554.67 255.40,554.34 255.50,554.15 255.60,554.28 255.70,553.98 255.80,553.71 255.90,553.42 256.00,552.91 256.10,552.61 256.20,552.06 256.30,551.64 256.40,550.61 256.50,548.89 256.60,546.85 256.70,541.81 256.80,532.32 256.90,514.04 257.00,485.20 257.10,452.73 257.20,435.61 257.30,449.89 257.40,478.21 257.50,498.91 257.60,507.02 257.70,503.02 257.80,498.93 257.90,504.31 258.00,517.95 258.10,531.65 258.20,540.44 258.30,546.56 258.40,549.32 258.50,551.20 258.60,552.08 258.70,552.60 258.80,552.82 258.90,553.18 259.00,553.76 259.10,553.80 259.20,554.18 259.30,554.23 259.40,554.38 259.50,554.40 259.60,554.75 259.70,554.74 259.80,554.77 259.90,554.83 260.00,555.07 260.10,554.62 260.20,555.10 260.30,554.87 260.40,555.07 260.50,554.87 260.60,555.58 260.70,554.80 260.80,555.28 260.90,555.45 261.00,555.22 261.10,554.84 261.20,555.19 261.30,555.53 261.40,555.44 261.50,555.11 261.60,555.65 261.70,555.39 261.80,555.44 261.90,554.93 262.00,555.43 262.10,555.13 262.20,555.54 262.30,555.56 262.40,555.25 262.50,555.31 262.60,555.75 262.70,555.31 262.80,555.31 262.90,555.53 263.00,555.37 263.10,555.37 263.20,555.51 263.30,555.51 263.40,555.51 263.50,555.36 263.60,555.48 263.70,555.06 263.80,555.11 263.90,554.50 264.00,554.19 264.10,554.04 264.20,553.51 264.30,553.36 264.40,553.64 264.50,554.38 264.60,554.05 264.70,554.38 264.80,554.50 264.90,554.70 265.00,554.72 265.10,554.60 265.20,554.91 265.30,555.21 265.40,555.35 265.50,555.33 265.60,555.16 265.70,554.90 265.80,555.42 265.90,555.15 266.00,555.09 266.10,554.91 266.20,554.36 266.30,553.90 266.40,553.77 266.50,553.25 266.60,552.60 266.70,552.84 266.80,553.08 266.90,553.60 267.00,553.83 267.10,553.83 267.20,554.12 267.30,554.36 267.40,554.37 267.50,554.40 267.60,554.97 267.70,554.75 267.80,554.96 267.90,555.33 268.00,555.22 268.10,555.24 268.20,555.09 268.30,555.05 268.40,555.31 268.50,555.16 268.60,554.46 268.70,554.30 268.80,553.85 268.90,553.57 269.00,553.17 269.10,553.76 269.20,553.50 269.30,554.09 269.40,553.95 269.50,553.93 269.60,554.50 269.70,554.24 269.80,554.50 269.90,554.63 270.00,554.71 270.10,555.00 270.20,555.03 270.30,554.74 270.40,554.70 270.50,554.90 270.60,555.00 270.70,554.21 270.80,554.35 270.90,554.36 271.00,554.51 271.10,554.28 271.20,553.90 271.30,553.86 271.40,553.03 271.50,552.92 271.60,552.34 271.70,551.88 271.80,550.69 271.90,548.77 272.00,545.33 272.10,540.18 272.20,532.27 272.30,521.46 272.40,509.05 272.50,497.51 272.60,492.31 272.70,495.33 272.80,503.34 272.90,511.52 273.00,517.80 273.10,520.58 273.20,522.05 273.30,524.14 273.40,528.51 273.50,534.29 273.60,539.67 273.70,544.04 273.80,547.42 273.90,549.81 274.00,551.36 274.10,552.56 274.20,553.23 274.30,553.43 274.40,554.18 274.50,554.23 274.60,554.80 274.70,554.69 274.80,554.89 274.90,555.10 275.00,554.87 275.10,555.21 275.20,555.21 275.30,555.25 275.40,555.40 275.50,555.05 275.60,555.47 275.70,555.39 275.80,555.73 275.90,555.61 276.00,555.63 276.10,555.64 276.20,555.69 276.30,555.58 276.40,555.34 276.50,555.68 276.60,555.67 276.70,555.73 276.80,555.19 276.90,555.37 277.00,555.59 277.10,555.61 277.20,555.91 277.30,555.83 277.40,555.79 277.50,555.82 277.60,556.01 277.70,556.00 277.80,555.80 277.90,555.84 278.00,556.27 278.10,555.89 278.20,555.67 278.30,556.03 278.40,555.87 278.50,556.22 278.60,555.81 278.70,556.19 278.80,556.17 278.90,556.02 279.00,555.53 279.10,556.07 279.20,556.19 279.30,555.89 279.40,555.95 279.50,555.69 279.60,556.25 279.70,556.32 279.80,556.10 279.90,555.94 280.00,555.95 280.10,555.83 280.20,556.32 280.30,556.20 280.40,556.08 280.50,555.89 280.60,555.96 280.70,556.12 280.80,556.24 280.90,555.86 281.00,555.85 281.10,555.49 281.20,556.06 281.30,555.75 281.40,556.32 281.50,556.21 281.60,556.27 281.70,556.22 281.80,556.30 281.90,556.24 282.00,556.13 282.10,556.20 282.20,555.99 282.30,556.12 282.40,556.09 282.50,555.83 282.60,556.05 282.70,556.08 282.80,556.13 282.90,556.13 283.00,556.03 283.10,556.26 283.20,555.89 283.30,555.83 283.40,555.92 283.50,556.25 283.60,556.47 283.70,556.27 283.80,556.16 283.90,556.02 284.00,556.19 284.10,556.22 284.20,555.88 284.30,556.28 284.40,555.97 284.50,556.02 284.60,556.44 284.70,556.17 284.80,556.36 284.90,556.43 285.00,556.60 285.10,556.55 285.20,556.17 285.30,556.31 285.40,556.18 285.50,556.44 285.60,556.32 285.70,556.33 285.80,556.55 285.90,556.57 286.00,556.19 286.10,556.23 286.20,556.40 286.30,556.24 286.40,556.11 286.50,555.88 286.60,556.35 286.70,556.09 286.80,555.82 286.90,556.22 287.00,555.95 287.10,556.72 287.20,556.01 287.30,556.29 287.40,556.58 287.50,556.10 287.60,556.04 287.70,555.99 287.80,556.01 287.90,556.25 288.00,556.40 288.10,556.36 288.20,556.29 288.30,556.20 288.40,556.34 288.50,556.24 288.60,556.07 288.70,556.14 288.80,555.79 288.90,555.83 289.00,556.46 289.10,556.39 289.20,556.55 289.30,556.52 289.40,556.21 289.50,556.47 289.60,556.46 289.70,556.32 289.80,556.11 289.90,556.30 290.00,556.28 290.10,556.05 290.20,556.11 290.30,556.11 290.40,556.02 290.50,556.38 290.60,556.14 290.70,556.28 290.80,555.97 290.90,555.97 291.00,556.30 291.10,555.84 291.20,556.28 291.30,555.82 291.40,555.99 291.50,556.14 291.60,556.15 291.70,555.95 291.80,555.81 291.90,555.86 292.00,555.52 292.10,555.74 292.20,555.34 292.30,555.12 292.40,555.15 292.50,554.32 292.60,553.81 292.70,552.55 292.80,549.56 292.90,545.17 293.00,538.86 293.10,532.24 293.20,526.96 293.30,527.27 293.40,532.25 293.50,538.06 293.60,542.40 293.70,544.25 293.80,543.68 293.90,542.50 294.00,542.51 294.10,544.38 294.20,547.49 294.30,549.88 294.40,552.10 294.50,553.82 294.60,554.46 294.70,554.85 294.80,555.29 294.90,555.35 295.00,555.51 295.10,556.02 295.20,555.89 295.30,555.82 295.40,555.80 295.50,555.76 295.60,556.40 295.70,556.10 295.80,555.98 295.90,555.91 296.00,555.85 296.10,556.36 296.20,556.28 296.30,556.45 296.40,556.10 296.50,556.48 296.60,556.01 296.70,556.10 296.80,556.17 296.90,556.66 297.00,556.42 297.10,556.16 297.20,556.53 297.30,556.29 297.40,556.26 297.50,556.05 297.60,556.14 297.70,556.12 297.80,556.24 297.90,556.13 298.00,556.13 298.10,555.92 298.20,556.06 298.30,555.77 298.40,556.21 298.50,555.60 298.60,555.76 298.70,555.38 298.80,555.42 298.90,555.10 299.00,554.76 299.10,554.82 299.20,554.26 299.30,553.61 299.40,552.23 299.50,550.17 299.60,545.74 299.70,539.29 299.80,530.94 299.90,522.48 300.00,518.77 300.10,521.52 300.20,529.16 300.30,535.95 300.40,540.76 300.50,542.01 300.60,540.65 300.70,539.39 300.80,539.14 300.90,541.88 301.00,545.51 301.10,548.85 301.20,551.49 301.30,552.91 301.40,554.15 301.50,555.12 301.60,555.10 301.70,555.78 301.80,555.70 301.90,556.08 302.00,556.11 302.10,555.83 302.20,556.23 302.30,556.31 302.40,556.35 302.50,556.36 302.60,556.09 302.70,556.59 302.80,556.64 302.90,556.37 303.00,556.76 303.10,556.55 303.20,556.32 303.30,556.53 303.40,556.64 303.50,556.71 303.60,556.76 303.70,556.70 303.80,556.56 303.90,556.38 304.00,556.44 304.10,556.71 304.20,556.79 304.30,556.56 304.40,557.02 304.50,556.78 304.60,556.79 304.70,556.91 304.80,556.91 304.90,556.69 305.00,557.05 305.10,556.91 305.20,556.89 305.30,556.73 305.40,556.99 305.50,556.55 305.60,556.81 305.70,556.80 305.80,556.84 305.90,556.88 306.00,556.94 306.10,556.56 306.20,556.71 306.30,556.76 306.40,556.58 306.50,556.88 306.60,556.65 306.70,556.76 306.80,556.93 306.90,556.64 307.00,557.04 307.10,556.63 307.20,556.88 307.30,556.60 307.40,556.40 307.50,556.48 307.60,556.62 307.70,556.45 307.80,556.41 307.90,556.42 308.00,556.28 308.10,555.99 308.20,555.84 308.30,556.24 308.40,556.00 308.50,556.00 308.60,556.11 308.70,556.39 308.80,556.09 308.90,556.51 309.00,556.24 309.10,556.14 309.20,556.83 309.30,556.50 309.40,556.58 309.50,556.64 309.60,556.88 309.70,556.85 309.80,557.06 309.90,556.82 310.00,556.78 310.10,556.99 310.20,557.05 310.30,556.99 310.40,556.91 310.50,556.89 310.60,556.93 310.70,556.94 310.80,557.18 310.90,557.41 311.00,556.85 311.10,556.71 311.20,557.17 311.30,557.04 311.40,556.88 311.50,556.74 311.60,556.79 311.70,556.68 311.80,556.92 311.90,556.86 312.00,556.86 312.10,557.00 312.20,556.71 312.30,556.82 312.40,556.75 312.50,557.01 312.60,556.77 312.70,557.18 312.80,556.94 312.90,557.46 313.00,557.18 313.10,556.88 313.20,557.08 313.30,556.94 313.40,557.25 313.50,556.70 313.60,556.87 313.70,556.95 313.80,556.88 313.90,556.90 314.00,556.73 314.10,556.95 314.20,557.23 314.30,557.03 314.40,556.77 314.50,556.87 314.60,557.04 314.70,556.87 314.80,556.98 314.90,556.90 315.00,557.28 315.10,557.17 315.20,556.90 315.30,557.01 315.40,556.91 315.50,556.64 315.60,557.03 315.70,556.95 315.80,557.11 315.90,557.13 316.00,557.06 316.10,557.28 316.20,557.38 316.30,556.77 316.40,557.00 316.50,556.77 316.60,556.94 316.70,556.93 316.80,556.86 316.90,556.84 317.00,557.18 317.10,556.77 317.20,557.12 317.30,556.90 317.40,556.48 317.50,556.89 317.60,556.61 317.70,556.98 317.80,556.80 317.90,556.92 318.00,556.86 318.10,557.07 318.20,557.09 318.30,556.88 318.40,557.17 318.50,557.03 318.60,556.77 318.70,556.96 318.80,556.98 318.90,557.00 319.00,556.76 319.10,556.81 319.20,556.65 319.30,556.68 319.40,556.30 319.50,556.64 319.60,556.84 319.70,556.44 319.80,556.39 319.90,556.23 320.00,556.42 320.10,555.81 320.20,555.85 320.30,555.60 320.40,555.55 320.50,554.70 320.60,554.06 320.70,552.63 320.80,551.12 320.90,548.60 321.00,544.78 321.10,540.55 321.20,535.58 321.30,531.86 321.40,529.88 321.50,531.01 321.60,534.12 321.70,537.84 321.80,540.91 321.90,542.68 322.00,543.53 322.10,543.48 322.20,543.60 322.30,544.62 322.40,545.80 322.50,547.57 322.60,549.78 322.70,551.55 322.80,553.06 322.90,554.28 323.00,555.18 323.10,555.32 323.20,555.61 323.30,555.91 323.40,556.11 323.50,556.26 323.60,556.44 323.70,556.47 323.80,556.60 323.90,556.62 324.00,556.88 324.10,556.88 324.20,556.75 324.30,556.93 324.40,557.33 324.50,556.91 324.60,557.33 324.70,556.62 324.80,556.85 324.90,556.86 325.00,557.13 325.10,557.23 325.20,557.11 325.30,557.07 325.40,557.20 325.50,557.05 325.60,556.98 325.70,557.02 325.80,557.30 325.90,557.51 326.00,557.16 326.10,557.25 326.20,557.03 326.30,556.84 326.40,556.83 326.50,557.05 326.60,556.93 326.70,556.87 326.80,557.13 326.90,557.11 327.00,557.04 327.10,557.20 327.20,557.28 327.30,557.35 327.40,557.22 327.50,557.32 327.60,557.07 327.70,557.24 327.80,556.96 327.90,557.00 328.00,557.41 328.10,557.03 328.20,557.28 328.30,556.98 328.40,557.13 328.50,557.22 328.60,557.12 328.70,557.32 328.80,557.18 328.90,557.18 329.00,557.27 329.10,557.18 329.20,557.42 329.30,557.16 329.40,557.45 329.50,557.13 329.60,557.17 329.70,557.09 329.80,557.30 329.90,556.72 330.00,557.27 330.10,557.18 330.20,557.37 330.30,557.00 330.40,557.31 330.50,557.06 330.60,557.39 330.70,557.17 330.80,557.29 330.90,557.08 331.00,557.27 331.10,557.37 331.20,557.17 331.30,557.42 331.40,557.38 331.50,557.09 331.60,557.50 331.70,557.07 331.80,557.25 331.90,557.30 332.00,557.11 332.10,557.03 332.20,557.19 332.30,557.10 332.40,556.93 332.50,556.91 332.60,557.02 332.70,557.12 332.80,557.11 332.90,557.00 333.00,556.73 333.10,556.66 333.20,556.62 333.30,556.36 333.40,556.53 333.50,556.39 333.60,556.24 333.70,555.61 333.80,555.87 333.90,554.88 334.00,553.78 334.10,551.97 334.20,548.64 334.30,544.58 334.40,539.45 334.50,534.89 334.60,532.47 334.70,534.51 334.80,538.91 334.90,543.50 335.00,546.94 335.10,548.38 335.20,548.24 335.30,547.27 335.40,546.04 335.50,545.84 335.60,546.29 335.70,548.23 335.80,550.50 335.90,552.30 336.00,553.30 336.10,554.16 336.20,554.03 336.30,553.96 336.40,553.01 336.50,551.24 336.60,549.05 336.70,545.69 336.80,542.09 336.90,539.35 337.00,537.69 337.10,539.01 337.20,541.54 337.30,544.66 337.40,547.25 337.50,548.76 337.60,549.43 337.70,548.99 337.80,548.47 337.90,547.94 338.00,548.67 338.10,550.33 338.20,551.55 338.30,553.09 338.40,554.35 338.50,555.11 338.60,555.68 338.70,556.29 338.80,556.52 338.90,556.64 339.00,556.94 339.10,556.86 339.20,556.99 339.30,557.13 339.40,557.20 339.50,557.06 339.60,557.02 339.70,557.12 339.80,557.34 339.90,557.12 340.00,557.23 340.10,557.18 340.20,557.12 340.30,557.47 340.40,557.39 340.50,557.46 340.60,557.50 340.70,557.08 340.80,557.25 340.90,557.68 341.00,557.36 341.10,557.53 341.20,557.26 341.30,557.44 341.40,557.48 341.50,557.45 341.60,557.42 341.70,557.48 341.80,557.52 341.90,557.53 342.00,557.44 342.10,557.70 342.20,557.53 342.30,557.56 342.40,557.62 342.50,557.44 342.60,557.77 342.70,557.62 342.80,557.71 342.90,557.49 343.00,557.64 343.10,557.57 343.20,557.52 343.30,557.84 343.40,557.53 343.50,557.72 343.60,557.63 343.70,557.61 343.80,557.44 343.90,557.45 344.00,557.30 344.10,557.56 344.20,557.67 344.30,557.68 344.40,557.50 344.50,557.36 344.60,557.55 344.70,557.70 344.80,557.59 344.90,557.60 345.00,557.66 345.10,557.79 345.20,558.06 345.30,557.75 345.40,557.53 345.50,557.63 345.60,558.02 345.70,557.67 345.80,557.96 345.90,557.36 346.00,557.63 346.10,557.84 346.20,557.55 346.30,557.80 346.40,557.59 346.50,557.68 346.60,557.87 346.70,557.58 346.80,557.89 346.90,557.47 347.00,557.67" fill="none" stroke="#111" stroke-width="1.30" stroke-linejoin="round"/>
<text class="gr" transform="translate(197.00,364.42) scale(1.1,1)" text-anchor="middle" font-size="12.10" fill="#1b74c9" stroke="#1b74c9" stroke-width="0.4">β</text>
<text class="gr" transform="translate(169.25,414.05) scale(1.15,1)" text-anchor="middle" font-size="13.20" fill="#ee3a43" stroke="#ee3a43" stroke-width="0.12">α</text>
<text class="gr" transform="translate(173.75,442.42) scale(1.1,1)" text-anchor="middle" font-size="12.10" fill="#1b74c9" stroke="#1b74c9" stroke-width="0.4">β</text>
<text class="gr" transform="translate(202.00,437.80) scale(1.15,1)" text-anchor="middle" font-size="13.20" fill="#ee3a43" stroke="#ee3a43" stroke-width="0.12">α</text>
<text class="gr" transform="translate(130.00,470.80) scale(1.15,1)" text-anchor="middle" font-size="13.20" fill="#ee3a43" stroke="#ee3a43" stroke-width="0.12">α</text>
<text class="gr" transform="translate(140.75,539.83) scale(1.1,1)" text-anchor="middle" font-size="12.20" fill="#b36ae0" stroke="#b36ae0" stroke-width="0.1">φ</text>
<text class="gr" transform="translate(148.25,529.10) scale(1.0,1)" text-anchor="middle" font-size="11.00" fill="#16996b" stroke="#16996b" stroke-width="0.35">γ</text>
<text class="gr" transform="translate(154.25,543.08) scale(1.1,1)" text-anchor="middle" font-size="12.20" fill="#b36ae0" stroke="#b36ae0" stroke-width="0.1">φ</text>
<text class="gr" transform="translate(179.50,516.55) scale(1.15,1)" text-anchor="middle" font-size="13.20" fill="#ee3a43" stroke="#ee3a43" stroke-width="0.12">α</text>
<text class="gr" transform="translate(228.75,544.60) scale(1.0,1)" text-anchor="middle" font-size="11.00" fill="#16996b" stroke="#16996b" stroke-width="0.35">γ</text>
<text class="gr" transform="translate(238.75,504.55) scale(1.15,1)" text-anchor="middle" font-size="13.20" fill="#ee3a43" stroke="#ee3a43" stroke-width="0.12">α</text>
<text class="gr" transform="translate(258.50,428.55) scale(1.15,1)" text-anchor="middle" font-size="13.20" fill="#ee3a43" stroke="#ee3a43" stroke-width="0.12">α</text>
<text class="gr" transform="translate(273.00,476.42) scale(1.1,1)" text-anchor="middle" font-size="12.10" fill="#1b74c9" stroke="#1b74c9" stroke-width="0.4">β</text>
<text class="gr" transform="translate(273.75,485.30) scale(1.15,1)" text-anchor="middle" font-size="13.20" fill="#ee3a43" stroke="#ee3a43" stroke-width="0.12">α</text>
<text class="gr" transform="translate(266.25,540.30) scale(1.15,1)" text-anchor="middle" font-size="13.20" fill="#ee3a43" stroke="#ee3a43" stroke-width="0.12">α</text>
<text class="gr" transform="translate(265.00,548.85) scale(1.0,1)" text-anchor="middle" font-size="11.00" fill="#16996b" stroke="#16996b" stroke-width="0.35">γ</text>
<text class="gr" transform="translate(294.25,520.30) scale(1.15,1)" text-anchor="middle" font-size="13.20" fill="#ee3a43" stroke="#ee3a43" stroke-width="0.12">α</text>
<text class="gr" transform="translate(300.50,511.55) scale(1.15,1)" text-anchor="middle" font-size="13.20" fill="#ee3a43" stroke="#ee3a43" stroke-width="0.12">α</text>
<text class="gr" transform="translate(309.50,549.60) scale(1.0,1)" text-anchor="middle" font-size="11.00" fill="#16996b" stroke="#16996b" stroke-width="0.35">γ</text>
<text class="gr" transform="translate(322.50,524.67) scale(1.1,1)" text-anchor="middle" font-size="12.10" fill="#1b74c9" stroke="#1b74c9" stroke-width="0.4">β</text>
<text class="gr" transform="translate(336.00,517.17) scale(1.1,1)" text-anchor="middle" font-size="12.10" fill="#1b74c9" stroke="#1b74c9" stroke-width="0.4">β</text>
<text class="gr" transform="translate(336.00,526.55) scale(1.15,1)" text-anchor="middle" font-size="13.20" fill="#ee3a43" stroke="#ee3a43" stroke-width="0.12">α</text>
<text class="gr" transform="translate(280.50,351.64) scale(1.15,1)" text-anchor="middle" font-size="13.60" fill="#ee3a43" stroke="#ee3a43" stroke-width="0.12">α</text>
<text x="289.00" y="352.30" font-size="13.40" fill="#1a1a1a">Al<tspan font-size="8.94" dy="2.70">2</tspan><tspan dy="-2.70">O</tspan><tspan font-size="8.94" dy="2.70">3</tspan></text>
<text class="gr" transform="translate(279.90,372.39) scale(1.1,1)" text-anchor="middle" font-size="12.58" fill="#1b74c9" stroke="#1b74c9" stroke-width="0.4">β</text>
<text x="287.60" y="373.50" font-size="13.40" fill="#1a1a1a">Ti(C<tspan font-size="8.94" dy="2.70">0.3</tspan><tspan dy="-2.70">,N</tspan><tspan font-size="8.94" dy="2.70">0.7</tspan><tspan dy="-2.70">)</tspan></text>
<text class="gr" transform="translate(279.00,392.76) scale(1.12,1)" text-anchor="middle" font-size="12.65" fill="#16996b" stroke="#16996b" stroke-width="0.35">γ</text>
<text x="286.20" y="394.30" font-size="13.40" fill="#1a1a1a">t-ZrO<tspan font-size="8.94" dy="2.70">2</tspan></text>
<text class="gr" transform="translate(280.30,413.64) scale(1.1,1)" text-anchor="middle" font-size="12.69" fill="#b36ae0" stroke="#b36ae0" stroke-width="0.1">φ</text>
<text x="289.00" y="414.70" font-size="13.40" fill="#1a1a1a">m-ZrO<tspan font-size="8.94" dy="2.70">2</tspan></text>
<text class="gr" x="8.60" y="326.00" font-size="20.50" fill="#1c1c1c">c</text>
<path d="M503.75,338.25V555.80" fill="none" stroke="#3a3a3a" stroke-width="1.20"/>
<path d="M503.15,555.20H773.26" fill="none" stroke="#444" stroke-width="1.20"/>
<path d="M499.55,553.40H503.75" stroke="#3a3a3a" stroke-width="1.15"/>
<text x="491.10" y="556.57" textLength="5.15" lengthAdjust="spacingAndGlyphs" font-size="10.80" fill="#242424">0</text>
<path d="M499.55,517.53H503.75" stroke="#3a3a3a" stroke-width="1.15"/>
<text x="470.00" y="521.40" textLength="22.50" lengthAdjust="spacingAndGlyphs" font-size="10.80" fill="#242424">2000</text>
<path d="M499.55,481.67H503.75" stroke="#3a3a3a" stroke-width="1.15"/>
<text x="470.00" y="485.53" textLength="22.50" lengthAdjust="spacingAndGlyphs" font-size="10.80" fill="#242424">4000</text>
<path d="M499.55,445.80H503.75" stroke="#3a3a3a" stroke-width="1.15"/>
<text x="470.00" y="449.67" textLength="22.50" lengthAdjust="spacingAndGlyphs" font-size="10.80" fill="#242424">6000</text>
<path d="M499.55,409.94H503.75" stroke="#3a3a3a" stroke-width="1.15"/>
<text x="470.00" y="414.80" textLength="22.50" lengthAdjust="spacingAndGlyphs" font-size="10.80" fill="#242424">8000</text>
<path d="M499.55,374.07H503.75" stroke="#3a3a3a" stroke-width="1.15"/>
<text x="466.30" y="378.12" textLength="29.70" lengthAdjust="spacingAndGlyphs" font-size="11.30" fill="#242424">10,000</text>
<path d="M499.55,338.20H503.75" stroke="#3a3a3a" stroke-width="1.15"/>
<text x="466.30" y="342.25" textLength="29.70" lengthAdjust="spacingAndGlyphs" font-size="11.30" fill="#242424">12,000</text>
<path d="M501.65,535.47H503.75" stroke="#3a3a3a" stroke-width="1.00"/>
<path d="M501.65,499.60H503.75" stroke="#3a3a3a" stroke-width="1.00"/>
<path d="M501.65,463.73H503.75" stroke="#3a3a3a" stroke-width="1.00"/>
<path d="M501.65,427.87H503.75" stroke="#3a3a3a" stroke-width="1.00"/>
<path d="M501.65,392.00H503.75" stroke="#3a3a3a" stroke-width="1.00"/>
<path d="M501.65,356.14H503.75" stroke="#3a3a3a" stroke-width="1.00"/>
<path d="M503.75,555.20v4.20" stroke="#3a3a3a" stroke-width="1.15"/>
<text transform="translate(503.75,570.60) scale(0.95,1)" text-anchor="middle" font-size="10.80" fill="#242424">10</text>
<path d="M522.97,555.20v2.40" stroke="#3a3a3a" stroke-width="1.00"/>
<path d="M542.18,555.20v4.20" stroke="#3a3a3a" stroke-width="1.15"/>
<text transform="translate(542.18,570.60) scale(0.95,1)" text-anchor="middle" font-size="10.80" fill="#242424">20</text>
<path d="M561.39,555.20v2.40" stroke="#3a3a3a" stroke-width="1.00"/>
<path d="M580.61,555.20v4.20" stroke="#3a3a3a" stroke-width="1.15"/>
<text transform="translate(580.61,570.60) scale(0.95,1)" text-anchor="middle" font-size="10.80" fill="#242424">30</text>
<path d="M599.83,555.20v2.40" stroke="#3a3a3a" stroke-width="1.00"/>
<path d="M619.04,555.20v4.20" stroke="#3a3a3a" stroke-width="1.15"/>
<text transform="translate(619.04,570.60) scale(0.95,1)" text-anchor="middle" font-size="10.80" fill="#242424">40</text>
<path d="M638.25,555.20v2.40" stroke="#3a3a3a" stroke-width="1.00"/>
<path d="M657.47,555.20v4.20" stroke="#3a3a3a" stroke-width="1.15"/>
<text transform="translate(657.47,570.60) scale(0.95,1)" text-anchor="middle" font-size="10.80" fill="#242424">50</text>
<path d="M676.68,555.20v2.40" stroke="#3a3a3a" stroke-width="1.00"/>
<path d="M695.90,555.20v4.20" stroke="#3a3a3a" stroke-width="1.15"/>
<text transform="translate(695.90,570.60) scale(0.95,1)" text-anchor="middle" font-size="10.80" fill="#242424">60</text>
<path d="M715.12,555.20v2.40" stroke="#3a3a3a" stroke-width="1.00"/>
<path d="M734.33,555.20v4.20" stroke="#3a3a3a" stroke-width="1.15"/>
<text transform="translate(734.33,570.60) scale(0.95,1)" text-anchor="middle" font-size="10.80" fill="#242424">70</text>
<path d="M753.54,555.20v2.40" stroke="#3a3a3a" stroke-width="1.00"/>
<path d="M772.76,555.20v4.20" stroke="#3a3a3a" stroke-width="1.15"/>
<text transform="translate(772.76,570.60) scale(0.95,1)" text-anchor="middle" font-size="10.80" fill="#242424">80</text>
<text x="638.25" y="591.00" text-anchor="middle" font-size="12.60" fill="#242424" stroke="#242424" stroke-width="0.08">20 [<tspan font-size="8.20" dy="-4.10">o</tspan><tspan dy="4.10">]</tspan></text>
<path d="M630.44,586.50h4.20" stroke="#9a9a9a" stroke-width="0.5" fill="none"/>
<text transform="translate(456.30,442.10) rotate(-90)" text-anchor="middle" font-size="12.60" fill="#242424" stroke="#242424" stroke-width="0.08">I<tspan font-size="8.50" dy="2.60">0</tspan><tspan dy="-2.60"> [-]</tspan></text>
<polyline points="503.75,519.40 503.85,519.77 503.94,517.91 504.04,517.89 504.13,519.30 504.23,517.76 504.33,518.62 504.42,518.79 504.52,518.71 504.61,518.81 504.71,517.92 504.81,518.54 504.90,519.59 505.00,517.50 505.10,518.18 505.19,519.22 505.29,518.88 505.38,519.19 505.48,518.61 505.58,518.42 505.67,518.49 505.77,518.91 505.86,519.03 505.96,518.04 506.06,518.56 506.15,517.19 506.25,518.90 506.34,518.02 506.44,518.45 506.54,518.85 506.63,517.73 506.73,518.41 506.82,518.90 506.92,518.66 507.02,517.86 507.11,519.03 507.21,517.57 507.30,517.93 507.40,518.34 507.50,517.44 507.59,517.23 507.69,517.77 507.79,517.99 507.88,517.14 507.98,517.35 508.07,518.69 508.17,518.36 508.27,518.46 508.36,518.48 508.46,519.06 508.55,517.69 508.65,518.06 508.75,518.00 508.84,517.29 508.94,518.37 509.03,518.08 509.13,517.93 509.23,518.26 509.32,518.06 509.42,517.51 509.51,517.94 509.61,517.15 509.71,518.38 509.80,517.83 509.90,518.80 509.99,517.97 510.09,518.26 510.19,517.00 510.28,517.26 510.38,517.29 510.48,516.55 510.57,516.81 510.67,517.28 510.76,518.12 510.86,518.60 510.96,517.84 511.05,518.00 511.15,518.16 511.24,517.89 511.34,518.67 511.44,516.89 511.53,518.33 511.63,518.06 511.72,517.37 511.82,518.53 511.92,517.06 512.01,517.11 512.11,517.77 512.20,518.30 512.30,517.94 512.40,518.70 512.49,516.85 512.59,517.62 512.68,517.97 512.78,518.06 512.88,517.27 512.97,516.74 513.07,518.35 513.17,517.95 513.26,518.67 513.36,517.16 513.45,517.44 513.55,516.20 513.65,517.61 513.74,517.77 513.84,518.08 513.93,517.16 514.03,518.56 514.13,517.21 514.22,517.57 514.32,517.90 514.41,518.10 514.51,517.02 514.61,516.54 514.70,517.76 514.80,517.28 514.89,516.69 514.99,518.08 515.09,517.91 515.18,518.55 515.28,517.95 515.38,517.95 515.47,518.18 515.57,518.43 515.66,518.96 515.76,518.81 515.86,518.61 515.95,517.69 516.05,518.29 516.14,518.45 516.24,517.67 516.34,517.75 516.43,518.47 516.53,518.43 516.62,517.78 516.72,517.93 516.82,518.62 516.91,518.01 517.01,518.24 517.10,517.55 517.20,518.69 517.30,517.77 517.39,518.05 517.49,518.83 517.58,517.77 517.68,517.82 517.78,519.11 517.87,517.35 517.97,519.19 518.07,519.01 518.16,518.76 518.26,518.13 518.35,518.18 518.45,518.56 518.55,517.75 518.64,518.23 518.74,517.69 518.83,517.07 518.93,518.62 519.03,520.30 519.12,519.24 519.22,519.63 519.31,518.95 519.41,519.00 519.51,519.75 519.60,519.76 519.70,519.39 519.79,519.30 519.89,520.65 519.99,518.65 520.08,519.20 520.18,519.20 520.27,519.10 520.37,519.84 520.47,519.28 520.56,518.70 520.66,518.68 520.76,519.09 520.85,519.53 520.95,519.89 521.04,518.75 521.14,519.30 521.24,519.87 521.33,521.02 521.43,520.29 521.52,520.90 521.62,519.08 521.72,519.69 521.81,520.08 521.91,519.84 522.00,518.31 522.10,519.10 522.20,520.62 522.29,520.12 522.39,520.82 522.48,520.99 522.58,519.88 522.68,518.59 522.77,519.06 522.87,519.95 522.97,520.27 523.06,520.08 523.16,519.71 523.25,521.07 523.35,521.33 523.45,519.22 523.54,520.09 523.64,519.24 523.73,520.14 523.83,519.46 523.93,520.67 524.02,520.05 524.12,519.55 524.21,519.82 524.31,520.74 524.41,520.11 524.50,521.04 524.60,521.43 524.69,520.36 524.79,519.91 524.89,520.16 524.98,521.38 525.08,520.27 525.17,520.53 525.27,521.12 525.37,522.30 525.46,520.35 525.56,520.50 525.66,520.71 525.75,521.99 525.85,521.89 525.94,520.50 526.04,520.59 526.14,520.72 526.23,521.22 526.33,520.93 526.42,521.54 526.52,521.42 526.62,521.79 526.71,521.12 526.81,521.49 526.90,520.74 527.00,520.84 527.10,521.76 527.19,520.31 527.29,521.99 527.38,521.05 527.48,520.87 527.58,520.71 527.67,522.68 527.77,520.88 527.86,520.92 527.96,520.76 528.06,522.90 528.15,522.11 528.25,521.82 528.35,521.98 528.44,520.93 528.54,522.07 528.63,521.06 528.73,521.55 528.83,522.70 528.92,522.51 529.02,522.22 529.11,521.88 529.21,521.33 529.31,522.06 529.40,521.59 529.50,523.06 529.59,523.89 529.69,522.44 529.79,522.00 529.88,522.36 529.98,522.66 530.07,521.90 530.17,521.09 530.27,522.25 530.36,522.57 530.46,522.74 530.55,521.16 530.65,522.24 530.75,521.82 530.84,521.62 530.94,521.68 531.04,522.82 531.13,521.82 531.23,521.91 531.32,522.12 531.42,521.89 531.52,522.84 531.61,522.58 531.71,522.92 531.80,522.19 531.90,523.04 532.00,522.47 532.09,523.36 532.19,522.82 532.28,522.99 532.38,522.84 532.48,522.73 532.57,522.99 532.67,522.99 532.76,524.07 532.86,522.33 532.96,523.34 533.05,523.04 533.15,523.46 533.25,522.42 533.34,523.45 533.44,522.60 533.53,522.24 533.63,521.95 533.73,522.29 533.82,522.62 533.92,523.66 534.01,522.33 534.11,522.40 534.21,522.57 534.30,522.67 534.40,523.10 534.49,523.43 534.59,522.64 534.69,522.53 534.78,523.80 534.88,522.75 534.97,523.18 535.07,522.77 535.17,523.12 535.26,522.66 535.36,522.81 535.45,522.89 535.55,524.19 535.65,523.09 535.74,523.54 535.84,524.20 535.94,523.22 536.03,524.32 536.13,523.08 536.22,522.66 536.32,523.81 536.42,523.07 536.51,523.46 536.61,523.33 536.70,524.47 536.80,523.42 536.90,523.72 536.99,523.32 537.09,523.75 537.18,523.17 537.28,523.61 537.38,523.41 537.47,523.06 537.57,523.73 537.66,523.32 537.76,523.82 537.86,523.66 537.95,524.24 538.05,523.57 538.14,523.34 538.24,524.04 538.34,523.65 538.43,523.90 538.53,524.70 538.63,523.98 538.72,523.57 538.82,524.51 538.91,525.26 539.01,524.20 539.11,524.66 539.20,523.26 539.30,524.35 539.39,524.32 539.49,524.76 539.59,524.35 539.68,524.80 539.78,525.01 539.87,524.55 539.97,524.99 540.07,523.86 540.16,525.22 540.26,524.69 540.35,525.03 540.45,525.45 540.55,523.81 540.64,525.85 540.74,523.95 540.83,525.46 540.93,524.70 541.03,523.68 541.12,525.92 541.22,525.55 541.32,524.26 541.41,524.81 541.51,525.20 541.60,525.00 541.70,525.47 541.80,524.93 541.89,524.23 541.99,525.17 542.08,524.86 542.18,524.40 542.28,524.00 542.37,525.40 542.47,525.03 542.56,525.59 542.66,525.66 542.76,525.64 542.85,525.84 542.95,526.44 543.04,526.59 543.14,525.90 543.24,525.44 543.33,524.85 543.43,525.74 543.53,525.56 543.62,525.21 543.72,525.18 543.81,525.59 543.91,525.63 544.01,524.70 544.10,525.93 544.20,526.03 544.29,526.72 544.39,525.62 544.49,526.00 544.58,524.83 544.68,526.01 544.77,525.39 544.87,525.47 544.97,525.07 545.06,526.66 545.16,525.25 545.25,526.15 545.35,526.22 545.45,526.42 545.54,526.58 545.64,526.57 545.73,527.61 545.83,526.21 545.93,526.47 546.02,526.86 546.12,526.45 546.22,525.30 546.31,526.22 546.41,526.67 546.50,525.72 546.60,527.06 546.70,526.77 546.79,527.04 546.89,526.87 546.98,526.44 547.08,526.53 547.18,527.22 547.27,526.99 547.37,526.94 547.46,527.22 547.56,527.09 547.66,527.47 547.75,527.54 547.85,527.17 547.94,527.72 548.04,527.04 548.14,527.40 548.23,527.78 548.33,527.68 548.42,527.64 548.52,527.49 548.62,527.40 548.71,527.53 548.81,527.86 548.91,526.75 549.00,527.01 549.10,527.40 549.19,527.08 549.29,527.45 549.39,527.69 549.48,527.55 549.58,526.29 549.67,527.16 549.77,527.15 549.87,527.91 549.96,527.47 550.06,526.69 550.15,527.57 550.25,527.29 550.35,527.26 550.44,527.60 550.54,527.20 550.63,527.95 550.73,527.79 550.83,528.42 550.92,526.86 551.02,528.01 551.11,528.13 551.21,527.63 551.31,528.61 551.40,528.42 551.50,528.88 551.60,528.50 551.69,528.73 551.79,528.31 551.88,528.68 551.98,528.93 552.08,528.85 552.17,528.77 552.27,528.95 552.36,528.27 552.46,528.47 552.56,528.72 552.65,529.47 552.75,528.70 552.84,529.60 552.94,528.91 553.04,529.05 553.13,529.38 553.23,529.46 553.32,529.44 553.42,528.15 553.52,529.24 553.61,529.21 553.71,528.72 553.81,529.04 553.90,528.80 554.00,529.84 554.09,529.82 554.19,527.80 554.29,529.39 554.38,529.48 554.48,529.44 554.57,529.07 554.67,530.13 554.77,529.45 554.86,529.66 554.96,529.34 555.05,529.64 555.15,530.09 555.25,530.27 555.34,531.09 555.44,529.51 555.53,530.62 555.63,530.09 555.73,529.16 555.82,530.13 555.92,529.65 556.01,530.12 556.11,529.73 556.21,530.05 556.30,530.34 556.40,529.57 556.50,530.37 556.59,530.86 556.69,530.50 556.78,530.10 556.88,530.84 556.98,529.91 557.07,529.99 557.17,529.34 557.26,530.73 557.36,530.20 557.46,531.36 557.55,530.79 557.65,530.60 557.74,530.45 557.84,530.70 557.94,530.76 558.03,531.04 558.13,530.97 558.22,530.64 558.32,530.50 558.42,530.45 558.51,530.38 558.61,530.36 558.70,531.77 558.80,531.27 558.90,531.14 558.99,531.31 559.09,530.56 559.19,530.71 559.28,531.07 559.38,531.04 559.47,530.58 559.57,531.30 559.67,531.30 559.76,530.77 559.86,530.97 559.95,530.54 560.05,531.08 560.15,530.97 560.24,531.61 560.34,531.90 560.43,531.51 560.53,532.67 560.63,531.28 560.72,531.05 560.82,531.35 560.91,531.51 561.01,530.93 561.11,531.37 561.20,530.89 561.30,530.35 561.40,530.99 561.49,530.90 561.59,531.14 561.68,531.25 561.78,531.20 561.88,531.32 561.97,530.83 562.07,531.95 562.16,531.30 562.26,530.82 562.36,531.32 562.45,530.81 562.55,530.85 562.64,530.01 562.74,529.44 562.84,528.70 562.93,528.46 563.03,528.02 563.12,525.93 563.22,522.66 563.32,515.79 563.41,505.43 563.51,485.65 563.60,464.36 563.70,448.14 563.80,450.04 563.89,462.26 563.99,478.35 564.09,495.50 564.18,509.55 564.28,518.23 564.37,523.26 564.47,526.83 564.57,528.40 564.66,529.98 564.76,529.64 564.85,530.87 564.95,531.35 565.05,531.56 565.14,531.94 565.24,531.84 565.33,531.30 565.43,531.58 565.53,531.46 565.62,531.57 565.72,532.68 565.81,532.15 565.91,531.87 566.01,531.62 566.10,533.29 566.20,533.41 566.29,532.74 566.39,533.09 566.49,533.41 566.58,532.95 566.68,533.48 566.78,534.13 566.87,533.20 566.97,533.13 567.06,532.88 567.16,532.79 567.26,533.18 567.35,533.45 567.45,533.71 567.54,534.14 567.64,533.63 567.74,532.97 567.83,533.10 567.93,532.58 568.02,533.55 568.12,534.26 568.22,533.27 568.31,533.25 568.41,534.15 568.50,534.37 568.60,533.71 568.70,533.47 568.79,534.25 568.89,533.98 568.98,534.25 569.08,534.41 569.18,534.49 569.27,533.89 569.37,534.17 569.47,534.23 569.56,535.10 569.66,533.28 569.75,534.45 569.85,534.04 569.95,534.58 570.04,533.93 570.14,534.74 570.23,534.03 570.33,534.21 570.43,533.74 570.52,534.61 570.62,534.38 570.71,534.29 570.81,533.29 570.91,534.81 571.00,534.07 571.10,534.52 571.19,534.09 571.29,533.96 571.39,534.17 571.48,534.16 571.58,534.19 571.68,534.61 571.77,534.49 571.87,535.13 571.96,534.59 572.06,534.75 572.16,534.49 572.25,534.06 572.35,534.17 572.44,534.20 572.54,533.95 572.64,535.42 572.73,534.27 572.83,534.53 572.92,534.48 573.02,534.95 573.12,534.15 573.21,533.89 573.31,533.86 573.40,534.28 573.50,533.90 573.60,533.69 573.69,533.16 573.79,533.20 573.88,533.35 573.98,532.96 574.08,532.41 574.17,531.69 574.27,531.30 574.37,530.18 574.46,530.40 574.56,530.41 574.65,530.26 574.75,531.20 574.85,531.67 574.94,533.12 575.04,532.56 575.13,533.40 575.23,533.81 575.33,533.92 575.42,534.21 575.52,534.75 575.61,533.75 575.71,534.80 575.81,534.28 575.90,534.04 576.00,535.10 576.09,534.84 576.19,535.31 576.29,534.59 576.38,535.15 576.48,535.44 576.57,534.53 576.67,534.67 576.77,535.40 576.86,534.54 576.96,534.94 577.06,533.92 577.15,534.39 577.25,535.36 577.34,535.33 577.44,535.64 577.54,535.21 577.63,535.25 577.73,535.01 577.82,535.31 577.92,535.92 578.02,535.66 578.11,534.78 578.21,534.86 578.30,535.39 578.40,535.43 578.50,535.53 578.59,535.44 578.69,536.16 578.78,535.12 578.88,535.83 578.98,535.46 579.07,536.54 579.17,535.47 579.26,535.00 579.36,536.37 579.46,534.89 579.55,535.39 579.65,535.79 579.75,536.17 579.84,535.06 579.94,535.41 580.03,535.24 580.13,535.59 580.23,535.82 580.32,535.12 580.42,535.86 580.51,535.08 580.61,536.11 580.71,535.67 580.80,535.82 580.90,534.50 580.99,535.38 581.09,534.63 581.19,533.22 581.28,532.38 581.38,530.39 581.47,529.16 581.57,528.26 581.67,527.04 581.76,527.32 581.86,526.88 581.96,527.26 582.05,528.17 582.15,529.91 582.24,531.03 582.34,532.24 582.44,532.53 582.53,533.62 582.63,534.54 582.72,535.04 582.82,535.17 582.92,535.84 583.01,535.81 583.11,536.50 583.20,535.62 583.30,535.57 583.40,535.82 583.49,535.79 583.59,535.91 583.68,535.34 583.78,536.14 583.88,536.77 583.97,536.72 584.07,536.05 584.16,535.88 584.26,535.99 584.36,536.05 584.45,536.37 584.55,537.12 584.65,536.86 584.74,537.35 584.84,536.77 584.93,537.15 585.03,536.60 585.13,536.68 585.22,537.32 585.32,536.31 585.41,536.29 585.51,537.04 585.61,536.44 585.70,536.17 585.80,536.44 585.89,535.85 585.99,535.94 586.09,535.34 586.18,535.37 586.28,535.07 586.37,534.33 586.47,533.70 586.57,533.39 586.66,533.23 586.76,533.13 586.85,532.94 586.95,533.19 587.05,533.24 587.14,533.74 587.24,534.36 587.34,534.83 587.43,535.23 587.53,535.14 587.62,535.62 587.72,536.60 587.82,536.47 587.91,536.96 588.01,537.00 588.10,537.20 588.20,537.48 588.30,537.82 588.39,538.26 588.49,537.28 588.58,536.90 588.68,537.69 588.78,537.17 588.87,537.60 588.97,537.36 589.06,537.82 589.16,537.68 589.26,537.66 589.35,538.54 589.45,537.63 589.54,537.77 589.64,538.63 589.74,537.46 589.83,537.73 589.93,537.61 590.03,537.61 590.12,537.94 590.22,538.23 590.31,537.97 590.41,537.92 590.51,536.92 590.60,537.08 590.70,537.97 590.79,538.01 590.89,537.81 590.99,537.75 591.08,538.19 591.18,538.31 591.27,537.27 591.37,537.65 591.47,538.65 591.56,538.79 591.66,538.47 591.75,538.06 591.85,537.95 591.95,538.28 592.04,538.77 592.14,538.11 592.24,537.98 592.33,538.17 592.43,538.38 592.52,538.04 592.62,538.29 592.72,538.73 592.81,538.28 592.91,538.81 593.00,537.97 593.10,538.17 593.20,538.67 593.29,538.31 593.39,537.95 593.48,539.18 593.58,538.49 593.68,537.86 593.77,539.06 593.87,538.56 593.96,539.14 594.06,538.65 594.16,539.55 594.25,539.23 594.35,538.83 594.44,538.52 594.54,538.37 594.64,538.33 594.73,538.06 594.83,538.28 594.93,538.29 595.02,538.89 595.12,538.56 595.21,537.32 595.31,537.63 595.41,538.15 595.50,538.28 595.60,538.20 595.69,538.76 595.79,537.91 595.89,538.76 595.98,538.70 596.08,537.90 596.17,539.52 596.27,538.63 596.37,539.47 596.46,539.03 596.56,538.83 596.65,538.91 596.75,538.70 596.85,539.07 596.94,538.82 597.04,539.26 597.13,538.92 597.23,539.32 597.33,538.50 597.42,539.22 597.52,538.44 597.62,538.82 597.71,538.72 597.81,538.21 597.90,538.56 598.00,539.33 598.10,538.43 598.19,539.66 598.29,538.43 598.38,538.63 598.48,538.87 598.58,538.20 598.67,538.26 598.77,537.22 598.86,537.97 598.96,536.96 599.06,537.07 599.15,537.57 599.25,537.46 599.34,536.42 599.44,536.61 599.54,536.09 599.63,535.77 599.73,535.48 599.83,534.37 599.92,533.48 600.02,532.08 600.11,529.26 600.21,524.50 600.31,516.92 600.40,503.01 600.50,477.90 600.59,441.42 600.69,400.56 600.79,375.91 600.88,381.63 600.98,402.99 601.07,424.11 601.17,445.89 601.27,471.58 601.36,494.15 601.46,509.54 601.55,520.51 601.65,526.70 601.75,529.93 601.84,532.51 601.94,534.38 602.03,535.64 602.13,535.67 602.23,536.64 602.32,536.53 602.42,537.50 602.52,537.45 602.61,538.12 602.71,537.87 602.80,538.02 602.90,537.75 603.00,537.60 603.09,538.18 603.19,538.50 603.28,537.54 603.38,538.13 603.48,538.00 603.57,538.01 603.67,537.68 603.76,537.79 603.86,537.88 603.96,537.81 604.05,538.30 604.15,538.07 604.24,537.72 604.34,537.38 604.44,537.09 604.53,536.62 604.63,536.28 604.72,535.80 604.82,535.39 604.92,533.34 605.01,531.55 605.11,528.89 605.21,523.00 605.30,514.08 605.40,500.41 605.49,482.37 605.59,460.54 605.69,441.81 605.78,433.53 605.88,439.47 605.97,450.63 606.07,464.21 606.17,478.71 606.26,493.52 606.36,507.56 606.45,518.09 606.55,524.18 606.65,529.22 606.74,532.47 606.84,533.93 606.93,535.20 607.03,537.12 607.13,537.11 607.22,537.19 607.32,538.15 607.41,538.36 607.51,538.24 607.61,538.91 607.70,539.46 607.80,539.45 607.90,539.86 607.99,539.27 608.09,540.20 608.18,539.30 608.28,540.36 608.38,539.81 608.47,540.39 608.57,539.97 608.66,539.51 608.76,539.47 608.86,539.41 608.95,539.93 609.05,539.86 609.14,539.84 609.24,539.63 609.34,539.92 609.43,539.29 609.53,539.44 609.62,538.96 609.72,539.00 609.82,538.61 609.91,538.64 610.01,537.61 610.11,536.14 610.20,532.29 610.30,526.27 610.39,517.13 610.49,508.23 610.59,500.85 610.68,503.63 610.78,508.51 610.87,513.57 610.97,519.27 611.07,523.85 611.16,528.52 611.26,534.05 611.35,535.84 611.45,538.22 611.55,539.06 611.64,539.42 611.74,540.52 611.83,540.08 611.93,540.56 612.03,540.63 612.12,540.26 612.22,539.37 612.31,540.54 612.41,540.58 612.51,540.93 612.60,541.19 612.70,540.91 612.80,540.51 612.89,540.99 612.99,540.74 613.08,541.23 613.18,540.31 613.28,541.78 613.37,541.03 613.47,541.15 613.56,541.26 613.66,541.77 613.76,541.81 613.85,541.55 613.95,541.45 614.04,541.88 614.14,541.82 614.24,541.29 614.33,541.13 614.43,541.69 614.52,541.70 614.62,541.74 614.72,540.64 614.81,541.29 614.91,541.43 615.00,541.10 615.10,540.72 615.20,541.11 615.29,542.04 615.39,541.65 615.49,541.83 615.58,541.79 615.68,542.12 615.77,541.83 615.87,542.07 615.97,541.60 616.06,541.74 616.16,542.23 616.25,542.33 616.35,541.91 616.45,541.50 616.54,541.60 616.64,541.80 616.73,542.94 616.83,542.01 616.93,542.12 617.02,541.93 617.12,542.24 617.21,541.90 617.31,541.96 617.41,540.79 617.50,541.47 617.60,541.77 617.69,541.78 617.79,541.84 617.89,541.74 617.98,541.92 618.08,541.77 618.18,541.42 618.27,541.45 618.37,541.62 618.46,541.32 618.56,541.76 618.66,542.20 618.75,542.49 618.85,542.13 618.94,541.88 619.04,541.70 619.14,541.47 619.23,542.01 619.33,542.08 619.42,541.58 619.52,541.42 619.62,541.93 619.71,541.67 619.81,541.35 619.90,541.74 620.00,541.85 620.10,542.55 620.19,541.40 620.29,541.64 620.39,541.79 620.48,542.02 620.58,542.30 620.67,541.89 620.77,541.91 620.87,541.44 620.96,542.21 621.06,541.29 621.15,541.80 621.25,541.38 621.35,542.11 621.44,541.65 621.54,541.41 621.63,541.77 621.73,542.29 621.83,541.96 621.92,541.70 622.02,542.30 622.11,542.32 622.21,541.74 622.31,542.13 622.40,541.58 622.50,542.22 622.59,542.37 622.69,542.04 622.79,541.23 622.88,541.97 622.98,541.67 623.08,541.58 623.17,541.94 623.27,541.22 623.36,541.55 623.46,541.46 623.56,542.24 623.65,542.25 623.75,542.57 623.84,541.63 623.94,541.54 624.04,541.13 624.13,540.84 624.23,541.37 624.32,541.32 624.42,541.08 624.52,540.65 624.61,541.39 624.71,540.86 624.80,541.10 624.90,541.06 625.00,540.64 625.09,541.07 625.19,541.06 625.28,540.40 625.38,540.50 625.48,540.42 625.57,540.26 625.67,539.86 625.77,539.95 625.86,539.33 625.96,539.19 626.05,538.53 626.15,538.30 626.25,538.08 626.34,538.04 626.44,537.38 626.53,537.02 626.63,535.10 626.73,535.17 626.82,533.75 626.92,532.00 627.01,530.70 627.11,527.16 627.21,521.56 627.30,512.68 627.40,498.37 627.49,476.96 627.59,448.18 627.69,415.50 627.78,384.87 627.88,366.65 627.97,367.95 628.07,381.23 628.17,399.65 628.26,419.30 628.36,439.63 628.46,461.50 628.55,481.65 628.65,498.36 628.74,510.79 628.84,519.79 628.94,525.33 629.03,529.30 629.13,531.87 629.22,533.73 629.32,535.07 629.42,535.14 629.51,537.14 629.61,536.68 629.70,537.47 629.80,537.90 629.90,538.44 629.99,538.62 630.09,539.13 630.18,539.36 630.28,539.01 630.38,539.52 630.47,538.74 630.57,538.65 630.67,540.03 630.76,539.27 630.86,538.47 630.95,538.11 631.05,537.68 631.15,537.01 631.24,536.11 631.34,534.99 631.43,533.00 631.53,530.72 631.63,524.82 631.72,514.87 631.82,495.66 631.91,469.08 632.01,438.79 632.11,421.85 632.20,429.48 632.30,448.42 632.39,462.75 632.49,471.85 632.59,482.02 632.68,495.95 632.78,510.10 632.87,522.35 632.97,528.39 633.07,533.34 633.16,535.77 633.26,536.62 633.36,538.14 633.45,539.17 633.55,539.69 633.64,539.60 633.74,539.63 633.84,539.69 633.93,540.44 634.03,540.76 634.12,540.24 634.22,541.06 634.32,540.54 634.41,541.09 634.51,541.17 634.60,541.46 634.70,541.38 634.80,541.71 634.89,541.85 634.99,541.72 635.08,541.93 635.18,541.66 635.28,541.77 635.37,541.92 635.47,541.90 635.56,541.95 635.66,541.33 635.76,541.94 635.85,542.14 635.95,542.11 636.05,541.82 636.14,542.12 636.24,542.12 636.33,542.18 636.43,542.04 636.53,542.01 636.62,542.03 636.72,542.79 636.81,542.61 636.91,543.12 637.01,541.94 637.10,541.82 637.20,541.69 637.29,542.09 637.39,541.80 637.49,542.26 637.58,542.31 637.68,542.82 637.77,542.55 637.87,542.45 637.97,541.93 638.06,541.65 638.16,542.32 638.26,542.06 638.35,542.14 638.45,542.45 638.54,542.74 638.64,542.35 638.74,542.45 638.83,541.92 638.93,541.70 639.02,541.50 639.12,541.33 639.22,540.93 639.31,541.29 639.41,540.60 639.50,541.42 639.60,540.89 639.70,540.93 639.79,541.39 639.89,541.82 639.98,541.24 640.08,541.80 640.18,541.45 640.27,541.61 640.37,541.95 640.46,542.07 640.56,541.87 640.66,542.14 640.75,542.61 640.85,542.31 640.95,542.23 641.04,542.35 641.14,542.39 641.23,542.55 641.33,542.59 641.43,542.85 641.52,543.04 641.62,542.20 641.71,542.80 641.81,542.50 641.91,543.11 642.00,542.50 642.10,542.85 642.19,541.61 642.29,542.90 642.39,542.85 642.48,542.34 642.58,542.26 642.67,543.28 642.77,542.56 642.87,542.37 642.96,543.03 643.06,542.44 643.15,542.87 643.25,543.01 643.35,542.85 643.44,542.83 643.54,543.12 643.64,541.96 643.73,542.81 643.83,542.88 643.92,542.38 644.02,542.68 644.12,542.21 644.21,542.75 644.31,542.55 644.40,542.67 644.50,542.64 644.60,542.74 644.69,542.73 644.79,542.17 644.88,542.94 644.98,542.89 645.08,542.85 645.17,542.52 645.27,542.60 645.36,542.42 645.46,543.17 645.56,542.67 645.65,542.84 645.75,542.89 645.84,542.75 645.94,543.43 646.04,542.73 646.13,542.78 646.23,543.22 646.33,542.81 646.42,542.27 646.52,542.87 646.61,542.57 646.71,542.89 646.81,543.09 646.90,543.11 647.00,542.92 647.09,542.37 647.19,542.49 647.29,542.98 647.38,542.48 647.48,542.85 647.57,543.04 647.67,542.74 647.77,543.14 647.86,543.38 647.96,542.46 648.05,543.48 648.15,542.69 648.25,543.39 648.34,542.88 648.44,542.99 648.54,543.04 648.63,543.61 648.73,542.96 648.82,542.93 648.92,543.14 649.02,542.89 649.11,542.55 649.21,543.10 649.30,542.78 649.40,543.24 649.50,542.69 649.59,542.59 649.69,541.97 649.78,542.46 649.88,542.64 649.98,542.36 650.07,543.17 650.17,542.53 650.26,543.06 650.36,543.06 650.46,542.50 650.55,542.80 650.65,542.44 650.74,543.36 650.84,542.82 650.94,543.15 651.03,543.02 651.13,543.54 651.23,542.65 651.32,542.90 651.42,543.26 651.51,543.37 651.61,543.23 651.71,542.49 651.80,542.93 651.90,542.99 651.99,542.75 652.09,542.89 652.19,542.80 652.28,542.63 652.38,542.79 652.47,542.62 652.57,543.31 652.67,542.91 652.76,543.07 652.86,542.91 652.95,542.96 653.05,543.13 653.15,543.05 653.24,542.66 653.34,543.11 653.43,543.31 653.53,542.75 653.63,542.61 653.72,543.00 653.82,542.89 653.92,543.19 654.01,542.97 654.11,542.55 654.20,542.63 654.30,542.87 654.40,543.02 654.49,543.45 654.59,542.82 654.68,542.72 654.78,542.49 654.88,542.17 654.97,542.71 655.07,542.52 655.16,543.20 655.26,542.44 655.36,542.54 655.45,542.35 655.55,542.55 655.64,542.64 655.74,542.33 655.84,542.98 655.93,542.58 656.03,542.48 656.12,543.03 656.22,543.14 656.32,542.63 656.41,542.67 656.51,542.48 656.61,542.44 656.70,542.83 656.80,542.47 656.89,542.20 656.99,542.63 657.09,542.55 657.18,542.75 657.28,542.10 657.37,541.67 657.47,542.60 657.57,541.90 657.66,541.83 657.76,542.20 657.85,542.10 657.95,542.24 658.05,542.05 658.14,541.66 658.24,541.38 658.33,541.44 658.43,541.14 658.53,541.24 658.62,541.56 658.72,540.69 658.82,540.67 658.91,541.15 659.01,540.34 659.10,540.67 659.20,540.77 659.30,540.25 659.39,541.60 659.49,541.32 659.58,540.66 659.68,540.89 659.78,541.09 659.87,540.41 659.97,540.79 660.06,541.36 660.16,541.23 660.26,540.89 660.35,540.65 660.45,541.91 660.54,541.35 660.64,541.68 660.74,542.19 660.83,541.80 660.93,542.30 661.02,542.01 661.12,541.41 661.22,541.79 661.31,541.77 661.41,541.91 661.51,542.10 661.60,542.00 661.70,542.73 661.79,542.56 661.89,542.27 661.99,542.77 662.08,542.69 662.18,542.25 662.27,542.19 662.37,542.88 662.47,542.99 662.56,542.64 662.66,542.74 662.75,543.03 662.85,542.67 662.95,542.65 663.04,542.77 663.14,541.89 663.23,542.39 663.33,542.51 663.43,542.49 663.52,541.94 663.62,542.53 663.71,543.12 663.81,542.87 663.91,542.97 664.00,543.14 664.10,542.89 664.20,542.90 664.29,542.96 664.39,543.12 664.48,542.69 664.58,543.43 664.68,542.65 664.77,542.95 664.87,542.77 664.96,543.62 665.06,542.35 665.16,543.36 665.25,543.02 665.35,542.54 665.44,542.88 665.54,542.74 665.64,543.24 665.73,542.56 665.83,542.24 665.92,541.90 666.02,542.01 666.12,541.66 666.21,541.35 666.31,541.30 666.40,540.88 666.50,539.36 666.60,539.14 666.69,536.57 666.79,533.54 666.89,527.13 666.98,518.63 667.08,506.33 667.17,494.45 667.27,488.41 667.37,491.48 667.46,500.15 667.56,507.30 667.65,511.53 667.75,513.20 667.85,516.33 667.94,521.76 668.04,527.26 668.13,532.20 668.23,536.15 668.33,537.89 668.42,539.68 668.52,540.42 668.61,541.47 668.71,541.78 668.81,541.63 668.90,542.58 669.00,542.21 669.10,542.46 669.19,542.75 669.29,542.68 669.38,543.15 669.48,542.84 669.58,543.32 669.67,543.39 669.77,542.67 669.86,543.31 669.96,543.78 670.06,542.96 670.15,543.52 670.25,544.34 670.34,543.31 670.44,542.98 670.54,543.11 670.63,542.70 670.73,543.32 670.82,543.12 670.92,543.64 671.02,543.28 671.11,542.88 671.21,543.23 671.30,543.36 671.40,544.09 671.50,543.61 671.59,543.92 671.69,543.24 671.79,543.73 671.88,543.34 671.98,543.81 672.07,542.91 672.17,543.81 672.27,543.39 672.36,542.69 672.46,543.40 672.55,543.73 672.65,543.32 672.75,543.25 672.84,543.27 672.94,544.21 673.03,543.52 673.13,544.27 673.23,543.01 673.32,543.56 673.42,543.68 673.51,543.40 673.61,543.43 673.71,543.94 673.80,543.14 673.90,543.70 673.99,544.11 674.09,543.15 674.19,543.10 674.28,543.17 674.38,543.40 674.48,543.84 674.57,543.30 674.67,543.00 674.76,543.32 674.86,543.08 674.96,543.83 675.05,543.33 675.15,543.43 675.24,544.17 675.34,544.24 675.44,543.97 675.53,543.70 675.63,543.56 675.72,543.76 675.82,543.71 675.92,543.73 676.01,543.66 676.11,543.51 676.20,543.53 676.30,543.71 676.40,543.61 676.49,543.85 676.59,543.44 676.69,543.85 676.78,543.18 676.88,543.72 676.97,543.63 677.07,543.98 677.17,543.85 677.26,543.72 677.36,543.77 677.45,543.96 677.55,544.13 677.65,543.75 677.74,543.68 677.84,543.54 677.93,543.37 678.03,543.86 678.13,544.42 678.22,543.91 678.32,544.40 678.41,544.18 678.51,543.48 678.61,543.60 678.70,543.94 678.80,544.00 678.89,543.83 678.99,544.34 679.09,543.60 679.18,543.87 679.28,543.15 679.38,544.06 679.47,543.40 679.57,543.97 679.66,543.41 679.76,544.05 679.86,543.53 679.95,543.91 680.05,544.00 680.14,543.79 680.24,543.56 680.34,543.54 680.43,543.23 680.53,543.48 680.62,544.58 680.72,543.93 680.82,544.42 680.91,543.89 681.01,543.60 681.10,544.15 681.20,544.09 681.30,543.66 681.39,543.75 681.49,543.13 681.58,543.48 681.68,543.41 681.78,543.06 681.87,543.76 681.97,543.60 682.07,543.91 682.16,543.48 682.26,543.22 682.35,543.10 682.45,543.53 682.55,543.77 682.64,543.79 682.74,543.93 682.83,543.48 682.93,543.10 683.03,544.15 683.12,544.10 683.22,542.99 683.31,543.85 683.41,543.15 683.51,543.60 683.60,542.89 683.70,542.82 683.79,542.91 683.89,542.64 683.99,542.77 684.08,542.50 684.18,542.04 684.27,542.16 684.37,542.57 684.47,542.50 684.56,542.16 684.66,541.93 684.76,541.55 684.85,541.45 684.95,540.68 685.04,540.42 685.14,539.74 685.24,539.19 685.33,538.08 685.43,537.44 685.52,534.86 685.62,532.50 685.72,527.59 685.81,518.74 685.91,503.32 686.00,479.93 686.10,449.56 686.20,419.35 686.29,404.66 686.39,413.82 686.48,437.25 686.58,458.13 686.68,468.58 686.77,472.68 686.87,473.49 686.97,480.53 687.06,493.73 687.16,507.64 687.25,519.96 687.35,528.05 687.45,532.71 687.54,536.02 687.64,537.22 687.73,538.84 687.83,539.67 687.93,540.24 688.02,540.96 688.12,541.25 688.21,541.83 688.31,541.90 688.41,542.30 688.50,542.29 688.60,542.96 688.69,543.11 688.79,542.67 688.89,542.83 688.98,543.28 689.08,543.11 689.17,543.48 689.27,542.56 689.37,543.73 689.46,542.76 689.56,543.63 689.66,543.27 689.75,543.54 689.85,543.58 689.94,543.23 690.04,543.32 690.14,543.63 690.23,543.84 690.33,542.98 690.42,543.20 690.52,543.58 690.62,543.78 690.71,543.62 690.81,543.73 690.90,543.40 691.00,544.09 691.10,543.78 691.19,544.03 691.29,543.39 691.38,543.24 691.48,543.78 691.58,543.63 691.67,543.43 691.77,543.93 691.86,544.13 691.96,543.58 692.06,543.71 692.15,543.90 692.25,543.46 692.35,543.84 692.44,544.45 692.54,543.80 692.63,543.92 692.73,543.31 692.83,543.88 692.92,543.92 693.02,543.79 693.11,543.84 693.21,544.33 693.31,543.83 693.40,543.90 693.50,543.35 693.59,543.03 693.69,544.06 693.79,544.01 693.88,543.97 693.98,543.82 694.07,543.70 694.17,543.38 694.27,542.97 694.36,543.59 694.46,543.50 694.55,543.44 694.65,542.40 694.75,542.19 694.84,542.87 694.94,542.77 695.04,542.15 695.13,541.76 695.23,541.71 695.32,541.96 695.42,541.88 695.52,542.04 695.61,542.39 695.71,541.80 695.80,542.51 695.90,542.99 696.00,542.97 696.09,543.40 696.19,543.07 696.28,542.83 696.38,543.58 696.48,542.96 696.57,542.80 696.67,543.39 696.76,543.95 696.86,543.98 696.96,543.90 697.05,544.20 697.15,544.21 697.25,543.91 697.34,543.90 697.44,543.61 697.53,544.13 697.63,543.19 697.73,543.45 697.82,543.44 697.92,543.93 698.01,543.19 698.11,543.79 698.21,543.12 698.30,543.36 698.40,543.87 698.49,543.72 698.59,543.01 698.69,543.20 698.78,543.48 698.88,543.37 698.97,543.33 699.07,543.55 699.17,543.30 699.26,543.33 699.36,543.15 699.45,542.73 699.55,542.98 699.65,542.27 699.74,542.22 699.84,541.72 699.94,541.37 700.03,540.87 700.13,540.58 700.22,539.91 700.32,539.29 700.42,537.71 700.51,536.04 700.61,532.62 700.70,527.53 700.80,521.04 700.90,512.07 700.99,502.04 701.09,490.25 701.18,481.45 701.28,476.26 701.38,477.46 701.47,482.52 701.57,489.61 701.66,495.69 701.76,500.50 701.86,503.69 701.95,507.90 702.05,512.34 702.14,517.65 702.24,524.18 702.34,528.73 702.43,532.26 702.53,535.00 702.63,537.49 702.72,539.06 702.82,540.10 702.91,540.83 703.01,541.09 703.11,541.83 703.20,542.70 703.30,542.78 703.39,542.82 703.49,543.29 703.59,543.29 703.68,543.50 703.78,543.66 703.87,543.37 703.97,543.79 704.07,544.07 704.16,544.01 704.26,543.84 704.35,543.24 704.45,543.82 704.55,543.56 704.64,543.93 704.74,544.78 704.83,544.13 704.93,544.56 705.03,544.66 705.12,544.65 705.22,543.83 705.32,544.80 705.41,544.51 705.51,544.08 705.60,544.22 705.70,544.94 705.80,544.52 705.89,544.66 705.99,544.56 706.08,544.30 706.18,544.67 706.28,544.64 706.37,544.16 706.47,545.13 706.56,544.73 706.66,544.53 706.76,545.04 706.85,544.86 706.95,545.10 707.04,544.64 707.14,544.84 707.24,544.42 707.33,544.37 707.43,544.65 707.53,544.80 707.62,544.66 707.72,544.71 707.81,545.08 707.91,544.41 708.01,544.70 708.10,544.50 708.20,545.12 708.29,544.46 708.39,544.15 708.49,544.57 708.58,545.20 708.68,544.81 708.77,544.87 708.87,544.75 708.97,544.90 709.06,544.69 709.16,545.00 709.25,544.79 709.35,545.06 709.45,544.84 709.54,544.57 709.64,545.02 709.73,544.70 709.83,545.18 709.93,545.00 710.02,545.00 710.12,544.53 710.22,545.14 710.31,544.57 710.41,545.37 710.50,544.96 710.60,544.70 710.70,544.76 710.79,545.25 710.89,545.36 710.98,544.75 711.08,545.37 711.18,544.82 711.27,545.11 711.37,544.92 711.46,544.24 711.56,544.48 711.66,544.69 711.75,545.38 711.85,544.93 711.94,545.00 712.04,545.06 712.14,544.64 712.23,545.54 712.33,544.96 712.42,545.01 712.52,545.26 712.62,544.55 712.71,545.43 712.81,545.09 712.91,545.14 713.00,545.79 713.10,545.56 713.19,545.42 713.29,544.86 713.39,544.78 713.48,544.91 713.58,545.03 713.67,545.77 713.77,545.06 713.87,545.26 713.96,544.69 714.06,544.63 714.15,544.35 714.25,544.84 714.35,544.84 714.44,545.44 714.54,545.12 714.63,545.54 714.73,544.91 714.83,545.54 714.92,545.24 715.02,545.43 715.12,545.32 715.21,545.04 715.31,545.35 715.40,545.09 715.50,545.46 715.60,544.74 715.69,545.30 715.79,544.85 715.88,544.57 715.98,545.88 716.08,545.46 716.17,545.29 716.27,544.84 716.36,545.31 716.46,545.05 716.56,545.41 716.65,545.01 716.75,545.59 716.84,545.02 716.94,546.10 717.04,545.75 717.13,544.71 717.23,545.09 717.32,545.33 717.42,544.45 717.52,544.79 717.61,544.73 717.71,545.20 717.81,544.95 717.90,544.98 718.00,545.59 718.09,544.92 718.19,545.12 718.29,544.66 718.38,544.66 718.48,545.20 718.57,545.18 718.67,544.96 718.77,544.79 718.86,545.04 718.96,544.91 719.05,544.65 719.15,544.65 719.25,544.40 719.34,544.64 719.44,544.89 719.53,545.08 719.63,544.24 719.73,544.43 719.82,544.28 719.92,544.09 720.01,544.26 720.11,543.59 720.21,543.77 720.30,542.34 720.40,541.27 720.50,538.46 720.59,535.71 720.69,531.29 720.78,525.20 720.88,518.19 720.98,512.54 721.07,509.48 721.17,511.23 721.26,515.13 721.36,520.82 721.46,525.04 721.55,526.18 721.65,526.10 721.74,527.35 721.84,527.30 721.94,530.84 722.03,533.56 722.13,537.01 722.22,539.35 722.32,541.48 722.42,542.64 722.51,543.77 722.61,543.32 722.70,544.29 722.80,544.07 722.90,544.28 722.99,544.68 723.09,544.61 723.19,544.75 723.28,544.93 723.38,544.86 723.47,544.94 723.57,545.30 723.67,545.42 723.76,545.30 723.86,545.00 723.95,544.64 724.05,544.60 724.15,544.95 724.24,544.78 724.34,545.06 724.43,544.78 724.53,545.09 724.63,545.01 724.72,545.19 724.82,545.13 724.91,544.59 725.01,545.46 725.11,545.09 725.20,545.24 725.30,544.75 725.40,544.53 725.49,545.08 725.59,545.75 725.68,544.79 725.78,544.73 725.88,545.26 725.97,544.82 726.07,544.66 726.16,545.14 726.26,544.13 726.36,544.02 726.45,543.82 726.55,543.92 726.64,543.41 726.74,542.84 726.84,541.58 726.93,540.51 727.03,537.41 727.12,533.84 727.22,528.90 727.32,520.42 727.41,512.43 727.51,505.16 727.60,501.54 727.70,504.34 727.80,509.70 727.89,516.79 727.99,521.03 728.09,522.76 728.18,523.28 728.28,523.65 728.37,524.80 728.47,526.89 728.57,530.76 728.66,534.34 728.76,537.35 728.85,540.26 728.95,541.38 729.05,543.35 729.14,543.04 729.24,544.39 729.33,544.39 729.43,544.65 729.53,544.40 729.62,544.52 729.72,544.73 729.81,544.80 729.91,544.96 730.01,545.24 730.10,545.88 730.20,546.05 730.29,546.09 730.39,545.46 730.49,545.48 730.58,545.43 730.68,545.35 730.78,545.49 730.87,545.71 730.97,545.78 731.06,545.81 731.16,544.85 731.26,544.83 731.35,545.32 731.45,544.92 731.54,544.68 731.64,544.29 731.74,544.90 731.83,544.76 731.93,544.59 732.02,545.48 732.12,545.29 732.22,545.15 732.31,545.37 732.41,544.63 732.50,545.08 732.60,545.32 732.70,545.75 732.79,545.34 732.89,545.49 732.98,545.88 733.08,545.93 733.18,546.26 733.27,545.88 733.37,545.63 733.47,545.58 733.56,545.73 733.66,545.70 733.75,546.11 733.85,546.10 733.95,545.67 734.04,545.87 734.14,546.21 734.23,545.86 734.33,545.79 734.43,545.82 734.52,546.00 734.62,546.17 734.71,545.93 734.81,545.59 734.91,546.02 735.00,546.28 735.10,546.03 735.19,546.49 735.29,546.06 735.39,546.21 735.48,545.83 735.58,546.03 735.68,545.77 735.77,545.46 735.87,546.16 735.96,546.36 736.06,546.05 736.16,546.21 736.25,546.13 736.35,546.35 736.44,546.07 736.54,546.22 736.64,546.82 736.73,546.28 736.83,546.14 736.92,545.88 737.02,546.35 737.12,546.43 737.21,545.92 737.31,546.39 737.40,546.17 737.50,546.09 737.60,546.03 737.69,546.22 737.79,546.55 737.88,545.99 737.98,546.36 738.08,546.35 738.17,545.69 738.27,546.01 738.37,546.54 738.46,546.44 738.56,546.43 738.65,546.54 738.75,546.84 738.85,546.08 738.94,546.09 739.04,546.20 739.13,546.38 739.23,546.25 739.33,546.15 739.42,546.62 739.52,546.41 739.61,546.49 739.71,546.15 739.81,546.28 739.90,546.67 740.00,546.51 740.09,545.86 740.19,546.61 740.29,546.27 740.38,546.52 740.48,545.99 740.57,546.38 740.67,546.48 740.77,546.69 740.86,546.43 740.96,546.15 741.06,546.14 741.15,546.69 741.25,545.94 741.34,546.45 741.44,546.66 741.54,546.38 741.63,546.59 741.73,546.56 741.82,546.59 741.92,546.46 742.02,546.56 742.11,546.88 742.21,546.25 742.30,546.52 742.40,546.01 742.50,546.20 742.59,546.14 742.69,546.29 742.78,546.01 742.88,546.46 742.98,546.69 743.07,546.36 743.17,547.18 743.26,546.53 743.36,546.36 743.46,546.46 743.55,546.00 743.65,546.16 743.75,546.29 743.84,546.46 743.94,546.07 744.03,546.53 744.13,546.44 744.23,546.10 744.32,546.13 744.42,545.76 744.51,546.36 744.61,546.79 744.71,546.14 744.80,545.93 744.90,546.24 744.99,545.79 745.09,545.74 745.19,546.41 745.28,546.36 745.38,546.57 745.47,546.04 745.57,545.98 745.67,545.97 745.76,546.47 745.86,546.35 745.96,546.52 746.05,546.53 746.15,546.40 746.24,546.37 746.34,545.88 746.44,545.61 746.53,545.45 746.63,545.50 746.72,545.54 746.82,545.22 746.92,544.85 747.01,544.79 747.11,544.32 747.20,543.86 747.30,543.12 747.40,541.77 747.49,540.42 747.59,537.54 747.68,535.34 747.78,531.23 747.88,527.81 747.97,523.18 748.07,520.30 748.16,519.25 748.26,519.61 748.36,521.72 748.45,523.93 748.55,526.27 748.65,527.60 748.74,530.01 748.84,530.25 748.93,531.63 749.03,532.51 749.13,533.92 749.22,535.82 749.32,537.73 749.41,539.65 749.51,541.10 749.61,542.33 749.70,543.03 749.80,544.50 749.89,544.79 749.99,545.42 750.09,545.58 750.18,545.69 750.28,545.31 750.37,545.16 750.47,545.46 750.57,546.26 750.66,546.03 750.76,546.42 750.85,546.02 750.95,545.84 751.05,546.05 751.14,546.06 751.24,546.42 751.34,546.95 751.43,546.99 751.53,546.49 751.62,546.31 751.72,546.12 751.82,546.56 751.91,546.46 752.01,546.45 752.10,546.27 752.20,546.57 752.30,546.85 752.39,546.30 752.49,546.51 752.58,546.51 752.68,547.01 752.78,546.73 752.87,547.20 752.97,547.27 753.06,546.80 753.16,546.81 753.26,546.52 753.35,546.26 753.45,546.66 753.55,546.18 753.64,546.86 753.74,546.51 753.83,547.08 753.93,546.72 754.03,546.84 754.12,546.83 754.22,546.62 754.31,547.28 754.41,546.76 754.51,547.01 754.60,546.74 754.70,546.68 754.79,546.89 754.89,546.89 754.99,547.11 755.08,546.65 755.18,546.99 755.27,546.66 755.37,547.17 755.47,546.41 755.56,547.05 755.66,546.45 755.75,546.90 755.85,546.61 755.95,546.81 756.04,546.56 756.14,546.73 756.24,546.39 756.33,546.52 756.43,546.53 756.52,546.27 756.62,546.89 756.72,546.41 756.81,546.74 756.91,547.13 757.00,546.61 757.10,546.79 757.20,546.27 757.29,546.83 757.39,546.71 757.48,546.67 757.58,547.23 757.68,546.56 757.77,546.91 757.87,546.24 757.96,546.20 758.06,546.59 758.16,547.00 758.25,546.54 758.35,546.52 758.44,546.34 758.54,546.58 758.64,546.80 758.73,546.46 758.83,546.63 758.93,545.87 759.02,546.45 759.12,546.37 759.21,546.17 759.31,546.37 759.41,546.05 759.50,545.84 759.60,545.72 759.69,545.44 759.79,544.81 759.89,544.66 759.98,544.57 760.08,543.55 760.17,541.94 760.27,540.24 760.37,537.01 760.46,532.91 760.56,527.60 760.65,522.24 760.75,517.51 760.85,515.63 760.94,516.71 761.04,520.95 761.13,524.76 761.23,528.93 761.33,531.28 761.42,531.89 761.52,531.86 761.62,531.23 761.71,531.25 761.81,532.49 761.90,534.46 762.00,536.63 762.10,538.17 762.19,540.14 762.29,540.97 762.38,541.20 762.48,540.45 762.58,538.94 762.67,537.81 762.77,534.96 762.86,532.17 762.96,529.31 763.06,526.70 763.15,526.11 763.25,526.22 763.34,528.27 763.44,530.93 763.54,532.44 763.63,534.27 763.73,535.13 763.83,536.25 763.92,536.14 764.02,536.56 764.11,537.06 764.21,538.07 764.31,540.31 764.40,541.22 764.50,542.54 764.59,543.29 764.69,544.38 764.79,545.33 764.88,545.52 764.98,546.05 765.07,546.20 765.17,546.14 765.27,546.41 765.36,546.26 765.46,546.78 765.55,545.85 765.65,546.21 765.75,546.41 765.84,547.03 765.94,547.31 766.03,547.00 766.13,546.82 766.23,546.20 766.32,546.43 766.42,546.89 766.52,546.51 766.61,546.53 766.71,546.85 766.80,546.59 766.90,546.87 767.00,547.14 767.09,547.29 767.19,547.07 767.28,546.81 767.38,547.40 767.48,547.52 767.57,546.96 767.67,547.79 767.76,546.61 767.86,547.17 767.96,546.86 768.05,546.63 768.15,547.43 768.24,547.36 768.34,546.56 768.44,547.18 768.53,547.12 768.63,547.05 768.72,546.84 768.82,546.78 768.92,547.10 769.01,547.23 769.11,547.16 769.21,547.08 769.30,546.79 769.40,547.11 769.49,546.69 769.59,547.36 769.69,547.00 769.78,546.72 769.88,546.84 769.97,547.11 770.07,547.45 770.17,547.43 770.26,547.30 770.36,547.20 770.45,547.34 770.55,547.64 770.65,547.46 770.74,547.16 770.84,547.07 770.93,547.65 771.03,547.41 771.13,547.70 771.22,547.40 771.32,546.36 771.41,547.23 771.51,547.34 771.61,547.50 771.70,547.66 771.80,547.83 771.90,547.34 771.99,547.41 772.09,546.93 772.18,547.69 772.28,547.20 772.38,546.99 772.47,547.82 772.57,547.16 772.66,547.76 772.76,547.19" fill="none" stroke="#111" stroke-width="1.15" stroke-linejoin="round"/>
<path d="M610.4,535.0L619.6,514.6" stroke="#f5821f" stroke-width="0.8" fill="none"/><path d="M609.6,536.8L613.2,532.7L610.3,531.4z" fill="#f5821f"/>
<text class="gr" transform="translate(601.00,370.80) scale(1.15,1)" text-anchor="middle" font-size="13.20" fill="#ee3a43" stroke="#ee3a43" stroke-width="0.12">α</text>
<text class="gr" transform="translate(607.00,428.92) scale(1.1,1)" text-anchor="middle" font-size="12.10" fill="#1b74c9" stroke="#1b74c9" stroke-width="0.4">β</text>
<text class="gr" transform="translate(564.25,444.55) scale(1.15,1)" text-anchor="middle" font-size="13.20" fill="#ee3a43" stroke="#ee3a43" stroke-width="0.12">α</text>
<text class="gr" transform="translate(573.75,527.33) scale(1.1,1)" text-anchor="middle" font-size="12.20" fill="#b36ae0" stroke="#b36ae0" stroke-width="0.1">φ</text>
<text class="gr" transform="translate(581.50,524.60) scale(1.0,1)" text-anchor="middle" font-size="11.00" fill="#16996b" stroke="#16996b" stroke-width="0.35">γ</text>
<text class="gr" transform="translate(587.50,528.58) scale(1.1,1)" text-anchor="middle" font-size="12.20" fill="#b36ae0" stroke="#b36ae0" stroke-width="0.1">φ</text>
<text class="gr" transform="translate(611.25,496.55) scale(1.15,1)" text-anchor="middle" font-size="13.20" fill="#ee3a43" stroke="#ee3a43" stroke-width="0.12">α</text>
<text class="gr" transform="translate(622.00,512.40) scale(1.1,1)" text-anchor="middle" font-size="11.80" fill="#f5821f" stroke="#f5821f" stroke-width="0.25">τ</text>
<text class="gr" transform="translate(639.25,524.08) scale(1.1,1)" text-anchor="middle" font-size="12.20" fill="#b36ae0" stroke="#b36ae0" stroke-width="0.1">φ</text>
<text class="gr" transform="translate(643.75,535.30) scale(1.15,1)" text-anchor="middle" font-size="13.20" fill="#ee3a43" stroke="#ee3a43" stroke-width="0.12">α</text>
<text class="gr" transform="translate(667.50,483.55) scale(1.15,1)" text-anchor="middle" font-size="13.20" fill="#ee3a43" stroke="#ee3a43" stroke-width="0.12">α</text>
<text class="gr" transform="translate(628.00,360.67) scale(1.1,1)" text-anchor="middle" font-size="12.10" fill="#1b74c9" stroke="#1b74c9" stroke-width="0.4">β</text>
<text class="gr" transform="translate(633.00,417.25) scale(1.15,1)" text-anchor="middle" font-size="13.20" fill="#ee3a43" stroke="#ee3a43" stroke-width="0.12">α</text>
<text class="gr" transform="translate(686.00,398.55) scale(1.15,1)" text-anchor="middle" font-size="13.20" fill="#ee3a43" stroke="#ee3a43" stroke-width="0.12">α</text>
<text class="gr" transform="translate(701.60,463.92) scale(1.1,1)" text-anchor="middle" font-size="12.10" fill="#1b74c9" stroke="#1b74c9" stroke-width="0.4">β</text>
<text class="gr" transform="translate(702.50,472.05) scale(1.15,1)" text-anchor="middle" font-size="13.20" fill="#ee3a43" stroke="#ee3a43" stroke-width="0.12">α</text>
<text class="gr" transform="translate(694.50,517.85) scale(1.0,1)" text-anchor="middle" font-size="11.00" fill="#16996b" stroke="#16996b" stroke-width="0.35">γ</text>
<text class="gr" transform="translate(695.00,527.33) scale(1.1,1)" text-anchor="middle" font-size="12.20" fill="#b36ae0" stroke="#b36ae0" stroke-width="0.1">φ</text>
<text class="gr" transform="translate(695.00,536.05) scale(1.15,1)" text-anchor="middle" font-size="13.20" fill="#ee3a43" stroke="#ee3a43" stroke-width="0.12">α</text>
<text class="gr" transform="translate(720.75,505.30) scale(1.15,1)" text-anchor="middle" font-size="13.20" fill="#ee3a43" stroke="#ee3a43" stroke-width="0.12">α</text>
<text class="gr" transform="translate(727.50,497.05) scale(1.15,1)" text-anchor="middle" font-size="13.20" fill="#ee3a43" stroke="#ee3a43" stroke-width="0.12">α</text>
<text class="gr" transform="translate(732.50,537.33) scale(1.1,1)" text-anchor="middle" font-size="12.20" fill="#b36ae0" stroke="#b36ae0" stroke-width="0.1">φ</text>
<text class="gr" transform="translate(747.50,513.42) scale(1.1,1)" text-anchor="middle" font-size="12.10" fill="#1b74c9" stroke="#1b74c9" stroke-width="0.4">β</text>
<text class="gr" transform="translate(761.75,511.55) scale(1.15,1)" text-anchor="middle" font-size="13.20" fill="#ee3a43" stroke="#ee3a43" stroke-width="0.12">α</text>
<text class="gr" transform="translate(765.50,520.17) scale(1.1,1)" text-anchor="middle" font-size="12.10" fill="#1b74c9" stroke="#1b74c9" stroke-width="0.4">β</text>
<text class="gr" transform="translate(709.40,351.25) scale(1.15,1)" text-anchor="middle" font-size="13.20" fill="#ee3a43" stroke="#ee3a43" stroke-width="0.12">α</text>
<text x="717.10" y="351.70" font-size="12.90" fill="#1a1a1a">Al<tspan font-size="8.60" dy="2.60">2</tspan><tspan dy="-2.60">O</tspan><tspan font-size="8.60" dy="2.60">3</tspan></text>
<text class="gr" transform="translate(708.80,371.07) scale(1.1,1)" text-anchor="middle" font-size="12.10" fill="#1b74c9" stroke="#1b74c9" stroke-width="0.4">β</text>
<text x="716.00" y="372.20" font-size="12.90" fill="#1a1a1a">Ti(C<tspan font-size="8.60" dy="2.60">0.3</tspan><tspan dy="-2.60">,N</tspan><tspan font-size="8.60" dy="2.60">0.7</tspan><tspan dy="-2.60">)</tspan></text>
<text class="gr" transform="translate(707.70,390.82) scale(1.12,1)" text-anchor="middle" font-size="12.32" fill="#16996b" stroke="#16996b" stroke-width="0.35">γ</text>
<text x="714.40" y="392.10" font-size="12.90" fill="#1a1a1a">t-ZrO<tspan font-size="8.60" dy="2.60">2</tspan></text>
<text class="gr" transform="translate(709.00,410.88) scale(1.1,1)" text-anchor="middle" font-size="12.20" fill="#b36ae0" stroke="#b36ae0" stroke-width="0.1">φ</text>
<text x="717.10" y="412.00" font-size="12.90" fill="#1a1a1a">m-ZrO<tspan font-size="8.60" dy="2.60">2</tspan></text>
<text class="gr" transform="translate(707.60,430.85) scale(1.1,1)" text-anchor="middle" font-size="11.80" fill="#f5821f" stroke="#f5821f" stroke-width="0.25">τ</text>
<text x="713.60" y="431.40" font-size="12.90" fill="#1a1a1a">TiO</text>
<text class="gr" x="443.80" y="326.00" font-size="21.60" fill="#1c1c1c">d</text>
</svg>
</body></html>
